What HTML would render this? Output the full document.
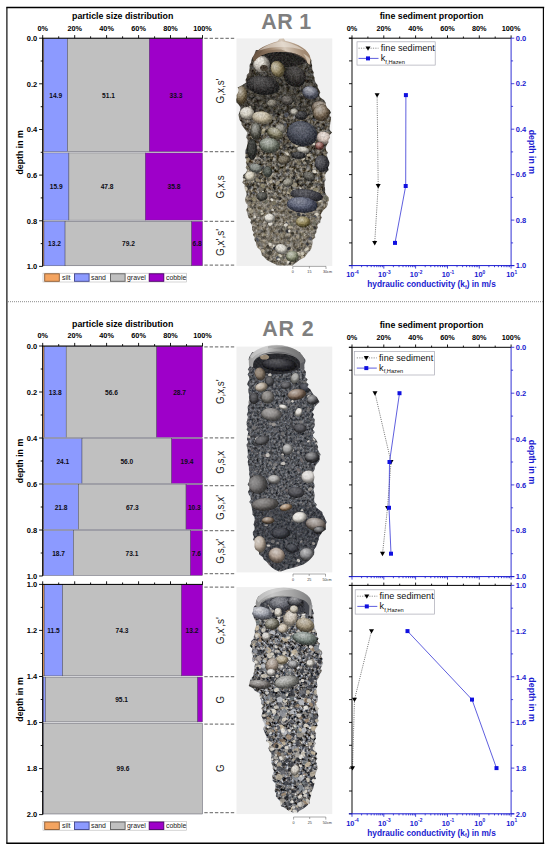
<!DOCTYPE html>
<html lang="en"><head><meta charset="utf-8"><title>Particle size distribution and hydraulic conductivity of sediment cores AR 1 and AR 2</title>
<style>html,body{margin:0;padding:0;background:#fff}svg{display:block}</style></head>
<body>
<svg width="550" height="852" viewBox="0 0 550 852" font-family='"Liberation Sans", sans-serif'>
<defs>
</defs>
<rect width="550" height="852" fill="#fff"/>
<path d="M6.3 7.5H544.2M6.3 843.2H544.2" stroke="#000" stroke-width="1.5" fill="none"/>
<path d="M6.9 7.5V843.2M543.4 7.5V843.2" stroke="#000" stroke-width="1.15" fill="none"/>
<line x1="8" y1="301.7" x2="543" y2="301.7" stroke="#8c8c8c" stroke-width="1" stroke-dasharray="1 1"/>
<text x="122.7" y="18.7" font-size="8.8" font-weight="bold" text-anchor="middle">particle size distribution</text>
<text x="42.7" y="30.5" font-size="7.3" font-weight="bold" text-anchor="middle">0%</text>
<text x="74.7" y="30.5" font-size="7.3" font-weight="bold" text-anchor="middle">20%</text>
<text x="106.6" y="30.5" font-size="7.3" font-weight="bold" text-anchor="middle">40%</text>
<text x="138.6" y="30.5" font-size="7.3" font-weight="bold" text-anchor="middle">60%</text>
<text x="170.5" y="30.5" font-size="7.3" font-weight="bold" text-anchor="middle">80%</text>
<text x="202.5" y="30.5" font-size="7.3" font-weight="bold" text-anchor="middle">100%</text>
<rect x="42.70" y="38.50" width="1.12" height="113.20" fill="#f4a460" stroke="#4a4a5a" stroke-width="0.45"/>
<rect x="43.82" y="38.50" width="23.81" height="113.20" fill="#8c9aff" stroke="#4a4a5a" stroke-width="0.45"/>
<rect x="67.63" y="38.50" width="81.66" height="113.20" fill="#c0c0c0" stroke="#4a4a5a" stroke-width="0.45"/>
<rect x="149.29" y="38.50" width="53.21" height="113.20" fill="#9e00c9" stroke="#4a4a5a" stroke-width="0.45"/>
<text x="55.7" y="98.0" font-size="6.6" font-weight="bold" text-anchor="middle" fill="#0c0c14">14.9</text>
<text x="108.5" y="98.0" font-size="6.6" font-weight="bold" text-anchor="middle" fill="#0c0c14">51.1</text>
<text x="175.9" y="98.0" font-size="6.6" font-weight="bold" text-anchor="middle" fill="#0c0c14">33.3</text>
<rect x="42.70" y="152.90" width="0.80" height="67.26" fill="#f4a460" stroke="#4a4a5a" stroke-width="0.45"/>
<rect x="43.50" y="152.90" width="25.41" height="67.26" fill="#8c9aff" stroke="#4a4a5a" stroke-width="0.45"/>
<rect x="68.91" y="152.90" width="76.38" height="67.26" fill="#c0c0c0" stroke="#4a4a5a" stroke-width="0.45"/>
<rect x="145.29" y="152.90" width="57.21" height="67.26" fill="#9e00c9" stroke="#4a4a5a" stroke-width="0.45"/>
<text x="56.2" y="189.2" font-size="6.6" font-weight="bold" text-anchor="middle" fill="#0c0c14">15.9</text>
<text x="107.1" y="189.2" font-size="6.6" font-weight="bold" text-anchor="middle" fill="#0c0c14">47.8</text>
<text x="173.9" y="189.2" font-size="6.6" font-weight="bold" text-anchor="middle" fill="#0c0c14">35.8</text>
<rect x="42.70" y="221.36" width="1.28" height="44.44" fill="#f4a460" stroke="#4a4a5a" stroke-width="0.45"/>
<rect x="43.98" y="221.36" width="21.09" height="44.44" fill="#8c9aff" stroke="#4a4a5a" stroke-width="0.45"/>
<rect x="65.07" y="221.36" width="126.56" height="44.44" fill="#c0c0c0" stroke="#4a4a5a" stroke-width="0.45"/>
<rect x="191.63" y="221.36" width="10.87" height="44.44" fill="#9e00c9" stroke="#4a4a5a" stroke-width="0.45"/>
<text x="54.5" y="246.3" font-size="6.6" font-weight="bold" text-anchor="middle" fill="#0c0c14">13.2</text>
<text x="128.4" y="246.3" font-size="6.6" font-weight="bold" text-anchor="middle" fill="#0c0c14">79.2</text>
<text x="197.1" y="246.3" font-size="6.6" font-weight="bold" text-anchor="middle" fill="#0c0c14">6.8</text>
<path d="M42.7 38.2V266.4" stroke="#000" stroke-width="1" fill="none"/>
<path d="M42.2 38.2H202.8" stroke="#000" stroke-width="1" fill="none"/>
<path d="M42.7 38.2v-3.1M58.7 38.2v-1.9M74.7 38.2v-3.1M90.6 38.2v-1.9M106.6 38.2v-3.1M122.6 38.2v-1.9M138.6 38.2v-3.1M154.6 38.2v-1.9M170.5 38.2v-3.1M186.5 38.2v-1.9M202.5 38.2v-3.1" stroke="#000" stroke-width="0.9" fill="none"/>
<text x="37.3" y="40.9" font-size="7.5" font-weight="bold" text-anchor="end">0.0</text>
<text x="37.3" y="86.5" font-size="7.5" font-weight="bold" text-anchor="end">0.2</text>
<text x="37.3" y="132.2" font-size="7.5" font-weight="bold" text-anchor="end">0.4</text>
<text x="37.3" y="177.8" font-size="7.5" font-weight="bold" text-anchor="end">0.6</text>
<text x="37.3" y="223.5" font-size="7.5" font-weight="bold" text-anchor="end">0.8</text>
<text x="37.3" y="269.1" font-size="7.5" font-weight="bold" text-anchor="end">1.0</text>
<path d="M42.7 38.2h-3.6M42.7 61.0h-2.0M42.7 83.8h-3.6M42.7 106.7h-2.0M42.7 129.5h-3.6M42.7 152.3h-2.0M42.7 175.1h-3.6M42.7 197.9h-2.0M42.7 220.8h-3.6M42.7 243.6h-2.0M42.7 266.4h-3.6" stroke="#000" stroke-width="0.9" fill="none"/>
<text transform="translate(23.2 152.3) rotate(-90)" font-size="8.8" font-weight="bold" text-anchor="middle">depth in m</text>
<rect x="43" y="273.2" width="143.5" height="8.8" fill="#fff" stroke="#b8b8b8" stroke-width="0.6"/>
<rect x="44.7" y="273.8" width="14.6" height="7.5" fill="#f4a460" stroke="#8a5a32" stroke-width="0.9"/>
<text x="62" y="280.1" font-size="6.9" fill="#222">silt</text>
<rect x="74.5" y="273.8" width="14.6" height="7.5" fill="#8c9aff" stroke="#40458a" stroke-width="0.9"/>
<text x="91" y="280.1" font-size="6.9" fill="#222">sand</text>
<rect x="110.5" y="273.8" width="14.6" height="7.5" fill="#c0c0c0" stroke="#5c5c5c" stroke-width="0.9"/>
<text x="127" y="280.1" font-size="6.9" fill="#222">gravel</text>
<rect x="149.2" y="273.8" width="14.6" height="7.5" fill="#9e00c9" stroke="#4a0066" stroke-width="0.9"/>
<text x="166" y="280.1" font-size="6.9" fill="#222">cobble</text>
<text x="122.7" y="326.5" font-size="8.8" font-weight="bold" text-anchor="middle">particle size distribution</text>
<text x="42.7" y="338.3" font-size="7.3" font-weight="bold" text-anchor="middle">0%</text>
<text x="74.7" y="338.3" font-size="7.3" font-weight="bold" text-anchor="middle">20%</text>
<text x="106.6" y="338.3" font-size="7.3" font-weight="bold" text-anchor="middle">40%</text>
<text x="138.6" y="338.3" font-size="7.3" font-weight="bold" text-anchor="middle">60%</text>
<text x="170.5" y="338.3" font-size="7.3" font-weight="bold" text-anchor="middle">80%</text>
<text x="202.5" y="338.3" font-size="7.3" font-weight="bold" text-anchor="middle">100%</text>
<rect x="42.70" y="346.30" width="1.44" height="91.10" fill="#f4a460" stroke="#4a4a5a" stroke-width="0.45"/>
<rect x="44.14" y="346.30" width="22.05" height="91.10" fill="#8c9aff" stroke="#4a4a5a" stroke-width="0.45"/>
<rect x="66.19" y="346.30" width="90.45" height="91.10" fill="#c0c0c0" stroke="#4a4a5a" stroke-width="0.45"/>
<rect x="156.64" y="346.30" width="45.86" height="91.10" fill="#9e00c9" stroke="#4a4a5a" stroke-width="0.45"/>
<text x="55.2" y="394.7" font-size="6.6" font-weight="bold" text-anchor="middle" fill="#0c0c14">13.8</text>
<text x="111.4" y="394.7" font-size="6.6" font-weight="bold" text-anchor="middle" fill="#0c0c14">56.6</text>
<text x="179.6" y="394.7" font-size="6.6" font-weight="bold" text-anchor="middle" fill="#0c0c14">28.7</text>
<rect x="42.70" y="438.60" width="0.80" height="44.80" fill="#f4a460" stroke="#4a4a5a" stroke-width="0.45"/>
<rect x="43.50" y="438.60" width="38.51" height="44.80" fill="#8c9aff" stroke="#4a4a5a" stroke-width="0.45"/>
<rect x="82.01" y="438.60" width="89.49" height="44.80" fill="#c0c0c0" stroke="#4a4a5a" stroke-width="0.45"/>
<rect x="171.50" y="438.60" width="31.00" height="44.80" fill="#9e00c9" stroke="#4a4a5a" stroke-width="0.45"/>
<text x="62.8" y="463.7" font-size="6.6" font-weight="bold" text-anchor="middle" fill="#0c0c14">24.1</text>
<text x="126.8" y="463.7" font-size="6.6" font-weight="bold" text-anchor="middle" fill="#0c0c14">56.0</text>
<text x="187.0" y="463.7" font-size="6.6" font-weight="bold" text-anchor="middle" fill="#0c0c14">19.4</text>
<rect x="42.70" y="484.60" width="0.96" height="44.80" fill="#f4a460" stroke="#4a4a5a" stroke-width="0.45"/>
<rect x="43.66" y="484.60" width="34.84" height="44.80" fill="#8c9aff" stroke="#4a4a5a" stroke-width="0.45"/>
<rect x="78.50" y="484.60" width="107.55" height="44.80" fill="#c0c0c0" stroke="#4a4a5a" stroke-width="0.45"/>
<rect x="186.04" y="484.60" width="16.46" height="44.80" fill="#9e00c9" stroke="#4a4a5a" stroke-width="0.45"/>
<text x="61.1" y="509.7" font-size="6.6" font-weight="bold" text-anchor="middle" fill="#0c0c14">21.8</text>
<text x="132.3" y="509.7" font-size="6.6" font-weight="bold" text-anchor="middle" fill="#0c0c14">67.3</text>
<text x="194.3" y="509.7" font-size="6.6" font-weight="bold" text-anchor="middle" fill="#0c0c14">10.3</text>
<rect x="42.70" y="530.60" width="0.96" height="44.80" fill="#f4a460" stroke="#4a4a5a" stroke-width="0.45"/>
<rect x="43.66" y="530.60" width="29.88" height="44.80" fill="#8c9aff" stroke="#4a4a5a" stroke-width="0.45"/>
<rect x="73.54" y="530.60" width="116.81" height="44.80" fill="#c0c0c0" stroke="#4a4a5a" stroke-width="0.45"/>
<rect x="190.36" y="530.60" width="12.14" height="44.80" fill="#9e00c9" stroke="#4a4a5a" stroke-width="0.45"/>
<text x="58.6" y="555.7" font-size="6.6" font-weight="bold" text-anchor="middle" fill="#0c0c14">18.7</text>
<text x="131.9" y="555.7" font-size="6.6" font-weight="bold" text-anchor="middle" fill="#0c0c14">73.1</text>
<text x="196.4" y="555.7" font-size="6.6" font-weight="bold" text-anchor="middle" fill="#0c0c14">7.6</text>
<path d="M42.7 346.0V576.0" stroke="#000" stroke-width="1" fill="none"/>
<path d="M42.2 346.0H202.8" stroke="#000" stroke-width="1" fill="none"/>
<path d="M42.7 346.0v-3.1M58.7 346.0v-1.9M74.7 346.0v-3.1M90.6 346.0v-1.9M106.6 346.0v-3.1M122.6 346.0v-1.9M138.6 346.0v-3.1M154.6 346.0v-1.9M170.5 346.0v-3.1M186.5 346.0v-1.9M202.5 346.0v-3.1" stroke="#000" stroke-width="0.9" fill="none"/>
<text x="37.3" y="348.7" font-size="7.5" font-weight="bold" text-anchor="end">0.0</text>
<text x="37.3" y="394.7" font-size="7.5" font-weight="bold" text-anchor="end">0.2</text>
<text x="37.3" y="440.7" font-size="7.5" font-weight="bold" text-anchor="end">0.4</text>
<text x="37.3" y="486.7" font-size="7.5" font-weight="bold" text-anchor="end">0.6</text>
<text x="37.3" y="532.7" font-size="7.5" font-weight="bold" text-anchor="end">0.8</text>
<text x="37.3" y="578.7" font-size="7.5" font-weight="bold" text-anchor="end">1.0</text>
<path d="M42.7 346.0h-3.6M42.7 369.0h-2.0M42.7 392.0h-3.6M42.7 415.0h-2.0M42.7 438.0h-3.6M42.7 461.0h-2.0M42.7 484.0h-3.6M42.7 507.0h-2.0M42.7 530.0h-3.6M42.7 553.0h-2.0M42.7 576.0h-3.6" stroke="#000" stroke-width="0.9" fill="none"/>
<text transform="translate(23.2 461.0) rotate(-90)" font-size="8.8" font-weight="bold" text-anchor="middle">depth in m</text>
<rect x="42.70" y="584.70" width="1.60" height="91.18" fill="#f4a460" stroke="#4a4a5a" stroke-width="0.45"/>
<rect x="44.30" y="584.70" width="18.38" height="91.18" fill="#8c9aff" stroke="#4a4a5a" stroke-width="0.45"/>
<rect x="62.68" y="584.70" width="118.73" height="91.18" fill="#c0c0c0" stroke="#4a4a5a" stroke-width="0.45"/>
<rect x="181.41" y="584.70" width="21.09" height="91.18" fill="#9e00c9" stroke="#4a4a5a" stroke-width="0.45"/>
<text x="53.5" y="633.1" font-size="6.6" font-weight="bold" text-anchor="middle" fill="#0c0c14">11.5</text>
<text x="122.0" y="633.1" font-size="6.6" font-weight="bold" text-anchor="middle" fill="#0c0c14">74.3</text>
<text x="192.0" y="633.1" font-size="6.6" font-weight="bold" text-anchor="middle" fill="#0c0c14">13.2</text>
<rect x="42.70" y="677.08" width="0.48" height="44.84" fill="#f4a460" stroke="#4a4a5a" stroke-width="0.45"/>
<rect x="43.18" y="677.08" width="2.40" height="44.84" fill="#8c9aff" stroke="#4a4a5a" stroke-width="0.45"/>
<rect x="45.58" y="677.08" width="151.97" height="44.84" fill="#c0c0c0" stroke="#4a4a5a" stroke-width="0.45"/>
<rect x="197.55" y="677.08" width="4.95" height="44.84" fill="#9e00c9" stroke="#4a4a5a" stroke-width="0.45"/>
<text x="121.6" y="702.2" font-size="6.6" font-weight="bold" text-anchor="middle" fill="#0c0c14">95.1</text>
<rect x="42.70" y="723.12" width="0.32" height="90.88" fill="#f4a460" stroke="#4a4a5a" stroke-width="0.45"/>
<rect x="43.02" y="723.12" width="0.32" height="90.88" fill="#8c9aff" stroke="#4a4a5a" stroke-width="0.45"/>
<rect x="43.34" y="723.12" width="159.16" height="90.88" fill="#c0c0c0" stroke="#4a4a5a" stroke-width="0.45"/>
<text x="122.9" y="771.3" font-size="6.6" font-weight="bold" text-anchor="middle" fill="#0c0c14">99.6</text>
<path d="M42.7 584.4V814.6" stroke="#000" stroke-width="1" fill="none"/>
<path d="M42.2 584.4H202.8" stroke="#000" stroke-width="1" fill="none"/>
<path d="M42.7 584.4v-3.1M58.7 584.4v-1.9M74.7 584.4v-3.1M90.6 584.4v-1.9M106.6 584.4v-3.1M122.6 584.4v-1.9M138.6 584.4v-3.1M154.6 584.4v-1.9M170.5 584.4v-3.1M186.5 584.4v-1.9M202.5 584.4v-3.1" stroke="#000" stroke-width="0.9" fill="none"/>
<text x="37.3" y="587.1" font-size="7.5" font-weight="bold" text-anchor="end">1.0</text>
<text x="37.3" y="633.1" font-size="7.5" font-weight="bold" text-anchor="end">1.2</text>
<text x="37.3" y="679.2" font-size="7.5" font-weight="bold" text-anchor="end">1.4</text>
<text x="37.3" y="725.2" font-size="7.5" font-weight="bold" text-anchor="end">1.6</text>
<text x="37.3" y="771.3" font-size="7.5" font-weight="bold" text-anchor="end">1.8</text>
<text x="37.3" y="817.3" font-size="7.5" font-weight="bold" text-anchor="end">2.0</text>
<path d="M42.7 584.4h-3.6M42.7 607.4h-2.0M42.7 630.4h-3.6M42.7 653.5h-2.0M42.7 676.5h-3.6M42.7 699.5h-2.0M42.7 722.5h-3.6M42.7 745.5h-2.0M42.7 768.6h-3.6M42.7 791.6h-2.0M42.7 814.6h-3.6" stroke="#000" stroke-width="0.9" fill="none"/>
<text transform="translate(23.2 699.5) rotate(-90)" font-size="8.8" font-weight="bold" text-anchor="middle">depth in m</text>
<rect x="43" y="821.4" width="143.5" height="8.8" fill="#fff" stroke="#b8b8b8" stroke-width="0.6"/>
<rect x="44.7" y="822.0" width="14.6" height="7.5" fill="#f4a460" stroke="#8a5a32" stroke-width="0.9"/>
<text x="62" y="828.3" font-size="6.9" fill="#222">silt</text>
<rect x="74.5" y="822.0" width="14.6" height="7.5" fill="#8c9aff" stroke="#40458a" stroke-width="0.9"/>
<text x="91" y="828.3" font-size="6.9" fill="#222">sand</text>
<rect x="110.5" y="822.0" width="14.6" height="7.5" fill="#c0c0c0" stroke="#5c5c5c" stroke-width="0.9"/>
<text x="127" y="828.3" font-size="6.9" fill="#222">gravel</text>
<rect x="149.2" y="822.0" width="14.6" height="7.5" fill="#9e00c9" stroke="#4a0066" stroke-width="0.9"/>
<text x="166" y="828.3" font-size="6.9" fill="#222">cobble</text>
<path d="M204.3 38.3H235.6M204.3 151.7H235.6M204.3 221.4H235.6M204.3 265.1H235.6" stroke="#808080" stroke-width="1.25" stroke-dasharray="3.4 1.9" fill="none"/>
<text transform="translate(224.4 91.0) rotate(-90)" font-size="11.4" fill="#222" text-anchor="middle" textLength="25" lengthAdjust="spacingAndGlyphs">G,x,s'</text>
<text transform="translate(224.4 186.9) rotate(-90)" font-size="11.4" fill="#222" text-anchor="middle" textLength="23" lengthAdjust="spacingAndGlyphs">G,x,s</text>
<text transform="translate(224.4 242.4) rotate(-90)" font-size="11.4" fill="#222" text-anchor="middle" textLength="27.2" lengthAdjust="spacingAndGlyphs">G,x',s'</text>
<path d="M204.3 346.9H235.6M204.3 437.9H235.6M204.3 485.7H235.6M204.3 530.5H235.6M204.3 573.7H235.6" stroke="#808080" stroke-width="1.25" stroke-dasharray="3.4 1.9" fill="none"/>
<text transform="translate(224.4 391.8) rotate(-90)" font-size="11.4" fill="#222" text-anchor="middle" textLength="24.6" lengthAdjust="spacingAndGlyphs">G,x,s'</text>
<text transform="translate(224.4 462.3) rotate(-90)" font-size="11.4" fill="#222" text-anchor="middle" textLength="22.7" lengthAdjust="spacingAndGlyphs">G,s,x</text>
<text transform="translate(224.4 507.4) rotate(-90)" font-size="11.4" fill="#222" text-anchor="middle" textLength="25" lengthAdjust="spacingAndGlyphs">G,s,x'</text>
<text transform="translate(224.4 551.3) rotate(-90)" font-size="11.4" fill="#222" text-anchor="middle" textLength="25" lengthAdjust="spacingAndGlyphs">G,s,x'</text>
<path d="M204.3 587.0H235.6M204.3 676.7H235.6M204.3 724.1H235.6M204.3 812.5H235.6" stroke="#808080" stroke-width="1.25" stroke-dasharray="3.4 1.9" fill="none"/>
<text transform="translate(224.4 630.6) rotate(-90)" font-size="11.4" fill="#222" text-anchor="middle" textLength="27.1" lengthAdjust="spacingAndGlyphs">G,x',s'</text>
<text transform="translate(224.4 699.7) rotate(-90)" font-size="11.4" fill="#222" text-anchor="middle" textLength="7.6" lengthAdjust="spacingAndGlyphs">G</text>
<text transform="translate(224.4 768.1) rotate(-90)" font-size="11.4" fill="#222" text-anchor="middle" textLength="7.6" lengthAdjust="spacingAndGlyphs">G</text>
<text x="261.3" y="28.6" font-size="21.4" font-weight="bold" fill="#7f7f7f" letter-spacing="0.4">AR 1</text>
<text x="262.3" y="336.0" font-size="21.4" font-weight="bold" fill="#7f7f7f" letter-spacing="0.85">AR 2</text>
<defs>
<filter id="tx1" x="0" y="0" width="100%" height="100%" color-interpolation-filters="sRGB"><feTurbulence type="fractalNoise" baseFrequency="0.3" numOctaves="3" seed="4"/><feColorMatrix type="matrix" values="1.1 0.12 0 0 -0.230  1.1 0.04 0 0 -0.210  1.1 -0.12 0 0 -0.170  0 0 0 0 1"/></filter>
<filter id="tx2" x="0" y="0" width="100%" height="100%" color-interpolation-filters="sRGB"><feTurbulence type="fractalNoise" baseFrequency="0.42" numOctaves="3" seed="9"/><feColorMatrix type="matrix" values="0.75 0.05 0 0 -0.055  0.75 0.0 0 0 -0.025  0.75 -0.06 0 0 0.025  0 0 0 0 1"/></filter>
<filter id="tx3" x="0" y="0" width="100%" height="100%" color-interpolation-filters="sRGB"><feTurbulence type="fractalNoise" baseFrequency="0.36" numOctaves="3" seed="21"/><feColorMatrix type="matrix" values="1.5 0.15 0 0 -0.425  1.5 0.03 0 0 -0.365  1.5 -0.15 0 0 -0.265  0 0 0 0 1"/></filter>
<radialGradient id="hlg" cx="0.38" cy="0.3" r="0.55"><stop offset="0" stop-color="#fff" stop-opacity="0.75"/><stop offset="1" stop-color="#fff" stop-opacity="0"/></radialGradient>
<radialGradient id="shg" cx="0.42" cy="0.38" r="0.68"><stop offset="0.45" stop-color="#000" stop-opacity="0"/><stop offset="1" stop-color="#000" stop-opacity="0.6"/></radialGradient>
<filter id="grain" x="0" y="0" width="100%" height="100%" color-interpolation-filters="sRGB"><feTurbulence type="fractalNoise" baseFrequency="0.55" numOctaves="2" seed="33"/><feColorMatrix type="matrix" values="0 2.4 0 0 -0.7  0 2.4 0 0 -0.7  0 2.4 0 0 -0.7  0 0 0 0 0.11"/></filter>
<linearGradient id="lid1g" x1="0" y1="0.2" x2="1" y2="0"><stop offset="0" stop-color="#675140"/><stop offset="0.28" stop-color="#a38b74"/><stop offset="0.5" stop-color="#d6c9ba"/><stop offset="0.75" stop-color="#a78f78"/><stop offset="1" stop-color="#8a7058"/></linearGradient>
<linearGradient id="ring2g" x1="0" y1="0" x2="1" y2="0"><stop offset="0" stop-color="#9a9a9a"/><stop offset="0.3" stop-color="#c6c6c6"/><stop offset="0.6" stop-color="#8e8e8e"/><stop offset="1" stop-color="#6e6e70"/></linearGradient>
<linearGradient id="ring3g" x1="0" y1="0" x2="1" y2="0"><stop offset="0" stop-color="#8c8c8c"/><stop offset="0.3" stop-color="#c8c8c8"/><stop offset="0.65" stop-color="#a6a6a6"/><stop offset="1" stop-color="#7c7c7e"/></linearGradient>
<filter id="grain2" x="0" y="0" width="100%" height="100%" color-interpolation-filters="sRGB"><feTurbulence type="fractalNoise" baseFrequency="0.5" numOctaves="2" seed="12"/><feColorMatrix type="matrix" values="0 2.4 0 0 -0.7  0 2.4 0 0 -0.7  0 2.4 0 0 -0.7  0 0 0 0 0.06"/></filter>
<filter id="soft" x="-5%" y="-5%" width="110%" height="110%"><feGaussianBlur stdDeviation="0.45"/></filter>
</defs>
<rect x="236.5" y="38.4" width="95.8" height="227.6" fill="#f0f0f0"/>
<clipPath id="cp1"><path d="M255.9 50.0 L254.9 52.5 L254.5 55.0 L252.2 57.5 L251.5 60.0 L251.1 62.5 L249.5 65.0 L249.7 67.5 L249.3 70.0 L249.1 72.5 L246.8 75.0 L246.7 77.5 L245.5 80.0 L246.1 82.5 L242.5 85.0 L237.6 87.5 L238.7 90.0 L238.0 92.5 L236.6 95.0 L236.7 97.5 L236.2 100.0 L236.5 102.5 L239.1 105.0 L240.4 107.5 L240.3 110.0 L239.3 112.5 L238.4 115.0 L239.0 117.5 L239.6 120.0 L241.5 122.5 L241.7 125.0 L243.6 127.5 L245.3 130.0 L247.4 132.5 L246.7 135.0 L246.2 137.5 L247.7 140.0 L247.6 142.5 L247.1 145.0 L246.6 147.5 L245.6 150.0 L245.4 152.5 L245.5 155.0 L245.0 157.5 L246.6 160.0 L245.8 162.5 L246.8 165.0 L245.7 167.5 L247.1 170.0 L246.0 172.5 L243.1 175.0 L242.8 177.5 L243.7 180.0 L242.2 182.5 L244.7 185.0 L244.5 187.5 L245.0 190.0 L246.3 192.5 L246.7 195.0 L245.4 197.5 L245.0 200.0 L245.8 202.5 L247.6 205.0 L247.4 207.5 L246.1 210.0 L247.2 212.5 L247.7 215.0 L248.4 217.5 L251.0 220.0 L250.3 222.5 L251.8 225.0 L252.1 227.5 L252.0 230.0 L253.8 232.5 L252.9 235.0 L254.8 237.5 L254.4 240.0 L256.0 242.5 L256.3 245.0 L257.3 247.5 L260.3 250.0 L261.4 252.5 L261.7 255.0 L264.6 257.5 L266.7 260.0 L271.5 262.5 L276.9 265.0 L276.3 265.5 L292.9 265.5 L293.0 265.0 L296.4 262.5 L299.5 260.0 L304.4 257.5 L306.3 255.0 L308.3 252.5 L310.6 250.0 L311.8 247.5 L312.2 245.0 L312.6 242.5 L312.3 240.0 L315.4 237.5 L314.6 235.0 L316.4 232.5 L316.6 230.0 L317.8 227.5 L317.2 225.0 L320.3 222.5 L320.5 220.0 L321.8 217.5 L320.5 215.0 L321.8 212.5 L323.6 210.0 L326.3 207.5 L327.6 205.0 L327.8 202.5 L328.9 200.0 L328.8 197.5 L326.5 195.0 L325.1 192.5 L325.2 190.0 L324.9 187.5 L324.6 185.0 L324.5 182.5 L325.6 180.0 L325.3 177.5 L325.1 175.0 L326.3 172.5 L328.8 170.0 L328.0 167.5 L329.2 165.0 L329.5 162.5 L328.5 160.0 L327.5 157.5 L326.8 155.0 L327.8 152.5 L326.0 150.0 L325.8 147.5 L326.7 145.0 L328.5 142.5 L328.4 140.0 L330.1 137.5 L329.6 135.0 L332.0 132.5 L329.7 130.0 L329.6 127.5 L330.1 125.0 L330.3 122.5 L330.9 120.0 L331.1 117.5 L329.3 115.0 L331.1 112.5 L329.6 110.0 L327.0 107.5 L325.9 105.0 L325.6 102.5 L324.0 100.0 L320.3 97.5 L319.1 95.0 L320.3 92.5 L319.2 90.0 L317.7 87.5 L317.6 85.0 L315.5 82.5 L314.7 80.0 L314.6 77.5 L313.3 75.0 L313.8 72.5 L312.4 70.0 L312.1 67.5 L312.1 65.0 L311.3 62.5 L311.4 60.0 L309.0 57.5 L307.1 55.0 L307.0 52.5 L303.0 50.0Z"/></clipPath>
<g clip-path="url(#cp1)"><g filter="url(#soft)">
<rect x="234" y="44" width="100" height="224" fill="#555" filter="url(#tx1)"/>
<rect x="234" y="44" width="100" height="70" fill="#15130f" opacity="0.5"/>
<rect x="234" y="114" width="100" height="40" fill="#15130f" opacity="0.22"/>
<ellipse cx="282" cy="59" rx="27" ry="8" fill="#1b1917"/>
<rect x="234" y="196" width="100" height="72" fill="#a89f8c" opacity="0.28"/>
<ellipse cx="311.0" cy="141.7" rx="2.8" ry="2.1" fill="#77705c" transform="rotate(-35 311.0 141.7)"/>
<ellipse cx="294.9" cy="138.2" rx="2.3" ry="1.3" fill="#2f3034"/>
<ellipse cx="318.0" cy="199.3" rx="2.5" ry="1.8" fill="#77705c" transform="rotate(-20 318.0 199.3)"/>
<ellipse cx="313.9" cy="144.1" rx="1.4" ry="1.1" fill="#d9d3c4" transform="rotate(20 313.9 144.1)"/>
<ellipse cx="285.6" cy="160.1" rx="1.6" ry="1.3" fill="#4c4e55" transform="rotate(70 285.6 160.1)"/>
<ellipse cx="322.0" cy="161.5" rx="1.7" ry="0.9" fill="#2a2824"/>
<ellipse cx="262.7" cy="167.8" rx="1.5" ry="1.4" fill="#2f3034" transform="rotate(-20 262.7 167.8)"/>
<ellipse cx="265.5" cy="149.8" rx="1.9" ry="1.3" fill="#2f3034" transform="rotate(-20 265.5 149.8)"/>
<ellipse cx="305.3" cy="180.4" rx="1.6" ry="1.0" fill="#3a372f" transform="rotate(40 305.3 180.4)"/>
<ellipse cx="262.7" cy="192.1" rx="1.4" ry="1.0" fill="#d9d3c4" transform="rotate(-35 262.7 192.1)"/>
<ellipse cx="325.5" cy="106.4" rx="2.7" ry="1.6" fill="#4c4e55" transform="rotate(20 325.5 106.4)"/>
<ellipse cx="312.4" cy="192.6" rx="1.9" ry="1.4" fill="#2f3034" transform="rotate(20 312.4 192.6)"/>
<ellipse cx="314.4" cy="171.6" rx="2.3" ry="1.6" fill="#d9d3c4" transform="rotate(20 314.4 171.6)"/>
<ellipse cx="248.0" cy="187.3" rx="2.5" ry="1.9" fill="#2a2824" transform="rotate(-35 248.0 187.3)"/>
<ellipse cx="244.5" cy="179.2" rx="1.4" ry="1.1" fill="#d9d3c4" transform="rotate(70 244.5 179.2)"/>
<ellipse cx="262.2" cy="183.0" rx="1.5" ry="0.8" fill="#2f3034"/>
<ellipse cx="296.9" cy="144.6" rx="2.4" ry="2.1" fill="#b8ae98" transform="rotate(-35 296.9 144.6)"/>
<ellipse cx="314.1" cy="119.8" rx="1.7" ry="1.4" fill="#4c4e55" transform="rotate(40 314.1 119.8)"/>
<ellipse cx="260.2" cy="171.4" rx="1.7" ry="1.2" fill="#c9c2b0" transform="rotate(40 260.2 171.4)"/>
<ellipse cx="308.4" cy="161.4" rx="1.9" ry="1.7" fill="#3a372f"/>
<ellipse cx="319.7" cy="141.0" rx="1.9" ry="1.4" fill="#3a372f" transform="rotate(-35 319.7 141.0)"/>
<ellipse cx="245.9" cy="188.7" rx="2.2" ry="1.8" fill="#c9c2b0" transform="rotate(70 245.9 188.7)"/>
<ellipse cx="270.7" cy="181.9" rx="1.8" ry="1.7" fill="#b8ae98" transform="rotate(-35 270.7 181.9)"/>
<ellipse cx="308.9" cy="186.6" rx="2.9" ry="1.7" fill="#3a372f" transform="rotate(-20 308.9 186.6)"/>
<ellipse cx="326.1" cy="198.0" rx="2.2" ry="1.9" fill="#6b6a5c" transform="rotate(20 326.1 198.0)"/>
<ellipse cx="313.9" cy="191.0" rx="1.8" ry="1.1" fill="#4c4e55" transform="rotate(20 313.9 191.0)"/>
<ellipse cx="308.8" cy="155.0" rx="2.1" ry="1.2" fill="#b8ae98" transform="rotate(-20 308.8 155.0)"/>
<ellipse cx="257.0" cy="180.0" rx="1.8" ry="1.6" fill="#8a8268" transform="rotate(-20 257.0 180.0)"/>
<ellipse cx="286.3" cy="114.9" rx="2.5" ry="2.2" fill="#4c4e55" transform="rotate(-20 286.3 114.9)"/>
<ellipse cx="302.6" cy="157.9" rx="2.6" ry="1.9" fill="#c9c2b0" transform="rotate(20 302.6 157.9)"/>
<ellipse cx="289.1" cy="183.1" rx="1.5" ry="1.1" fill="#c9c2b0" transform="rotate(20 289.1 183.1)"/>
<ellipse cx="278.6" cy="131.2" rx="2.7" ry="2.5" fill="#3a372f" transform="rotate(20 278.6 131.2)"/>
<ellipse cx="322.8" cy="185.1" rx="2.1" ry="1.7" fill="#3a372f" transform="rotate(-20 322.8 185.1)"/>
<ellipse cx="287.0" cy="153.6" rx="2.3" ry="1.3" fill="#d9d3c4" transform="rotate(40 287.0 153.6)"/>
<ellipse cx="289.3" cy="191.7" rx="3.0" ry="1.8" fill="#b8ae98" transform="rotate(-35 289.3 191.7)"/>
<ellipse cx="323.7" cy="116.7" rx="2.0" ry="1.9" fill="#9a927e" transform="rotate(20 323.7 116.7)"/>
<ellipse cx="285.3" cy="124.6" rx="1.8" ry="1.6" fill="#4c4e55" transform="rotate(40 285.3 124.6)"/>
<ellipse cx="262.9" cy="131.7" rx="2.3" ry="2.1" fill="#8a8268" transform="rotate(-35 262.9 131.7)"/>
<ellipse cx="245.2" cy="177.9" rx="1.5" ry="1.0" fill="#2f3034" transform="rotate(20 245.2 177.9)"/>
<ellipse cx="276.8" cy="132.2" rx="2.3" ry="1.4" fill="#77705c"/>
<ellipse cx="294.6" cy="185.2" rx="2.5" ry="2.1" fill="#9a927e"/>
<ellipse cx="281.0" cy="137.6" rx="2.2" ry="1.3" fill="#3a372f" transform="rotate(70 281.0 137.6)"/>
<ellipse cx="298.8" cy="163.1" rx="2.2" ry="1.9" fill="#77705c" transform="rotate(40 298.8 163.1)"/>
<ellipse cx="262.8" cy="185.7" rx="2.5" ry="2.2" fill="#8a8268" transform="rotate(20 262.8 185.7)"/>
<ellipse cx="319.4" cy="160.3" rx="1.6" ry="1.3" fill="#3a372f"/>
<ellipse cx="261.4" cy="113.4" rx="2.5" ry="1.6" fill="#b8ae98" transform="rotate(-20 261.4 113.4)"/>
<ellipse cx="277.6" cy="183.2" rx="2.6" ry="1.6" fill="#9a927e" transform="rotate(-35 277.6 183.2)"/>
<ellipse cx="247.5" cy="168.5" rx="1.6" ry="1.3" fill="#6b6a5c"/>
<ellipse cx="297.8" cy="170.5" rx="1.8" ry="1.7" fill="#3a372f" transform="rotate(70 297.8 170.5)"/>
<ellipse cx="250.2" cy="107.1" rx="1.3" ry="1.0" fill="#c9c2b0" transform="rotate(40 250.2 107.1)"/>
<ellipse cx="261.3" cy="148.1" rx="1.4" ry="0.9" fill="#8a8268" transform="rotate(20 261.3 148.1)"/>
<ellipse cx="253.6" cy="192.7" rx="1.3" ry="1.2" fill="#4c4e55"/>
<ellipse cx="270.7" cy="176.5" rx="2.0" ry="1.5" fill="#9a927e"/>
<ellipse cx="247.1" cy="160.1" rx="2.5" ry="2.2" fill="#8a8268" transform="rotate(-20 247.1 160.1)"/>
<ellipse cx="305.4" cy="145.4" rx="1.9" ry="1.2" fill="#8a8268"/>
<ellipse cx="247.2" cy="151.3" rx="2.8" ry="2.4" fill="#2f3034" transform="rotate(-20 247.2 151.3)"/>
<ellipse cx="261.7" cy="157.0" rx="2.3" ry="1.5" fill="#2a2824" transform="rotate(20 261.7 157.0)"/>
<ellipse cx="305.1" cy="191.1" rx="2.6" ry="2.3" fill="#9a927e"/>
<ellipse cx="315.5" cy="189.7" rx="2.5" ry="2.1" fill="#8a8268" transform="rotate(-20 315.5 189.7)"/>
<ellipse cx="256.6" cy="120.7" rx="2.6" ry="1.8" fill="#b8ae98"/>
<ellipse cx="324.3" cy="188.8" rx="2.8" ry="1.6" fill="#2a2824" transform="rotate(-35 324.3 188.8)"/>
<ellipse cx="263.7" cy="129.9" rx="1.9" ry="1.2" fill="#b8ae98" transform="rotate(-20 263.7 129.9)"/>
<ellipse cx="286.4" cy="151.5" rx="1.6" ry="0.9" fill="#9a927e" transform="rotate(40 286.4 151.5)"/>
<ellipse cx="291.2" cy="102.3" rx="2.5" ry="1.7" fill="#9a927e" transform="rotate(40 291.2 102.3)"/>
<ellipse cx="256.1" cy="105.0" rx="1.9" ry="1.1" fill="#2a2824" transform="rotate(20 256.1 105.0)"/>
<ellipse cx="289.6" cy="190.6" rx="2.1" ry="2.0" fill="#77705c" transform="rotate(70 289.6 190.6)"/>
<ellipse cx="298.2" cy="199.5" rx="2.7" ry="1.5" fill="#77705c" transform="rotate(-35 298.2 199.5)"/>
<ellipse cx="247.7" cy="175.9" rx="2.9" ry="1.8" fill="#4c4e55"/>
<ellipse cx="288.0" cy="185.6" rx="2.3" ry="1.6" fill="#4c4e55" transform="rotate(-20 288.0 185.6)"/>
<ellipse cx="278.6" cy="128.4" rx="1.8" ry="1.3" fill="#4c4e55" transform="rotate(-35 278.6 128.4)"/>
<ellipse cx="316.7" cy="214.3" rx="2.1" ry="1.8" fill="#d9d3c4"/>
<ellipse cx="288.9" cy="248.5" rx="2.0" ry="1.4" fill="#2f3034" transform="rotate(-20 288.9 248.5)"/>
<ellipse cx="271.8" cy="199.6" rx="1.6" ry="1.3" fill="#e6e2d8" transform="rotate(20 271.8 199.6)"/>
<ellipse cx="319.9" cy="201.0" rx="1.7" ry="1.3" fill="#d0cab8"/>
<ellipse cx="254.1" cy="199.1" rx="2.3" ry="2.1" fill="#8a8268" transform="rotate(70 254.1 199.1)"/>
<ellipse cx="300.8" cy="212.7" rx="1.1" ry="0.8" fill="#b8ae98"/>
<ellipse cx="277.7" cy="254.6" rx="1.2" ry="0.9" fill="#8a8268" transform="rotate(-35 277.7 254.6)"/>
<ellipse cx="291.8" cy="224.4" rx="2.0" ry="1.7" fill="#6b6a5c" transform="rotate(70 291.8 224.4)"/>
<ellipse cx="301.2" cy="246.6" rx="1.2" ry="0.8" fill="#8a8268"/>
<ellipse cx="285.0" cy="228.7" rx="1.5" ry="1.1" fill="#6b6a5c" transform="rotate(20 285.0 228.7)"/>
<ellipse cx="298.7" cy="214.5" rx="1.9" ry="1.5" fill="#2f3034" transform="rotate(20 298.7 214.5)"/>
<ellipse cx="267.8" cy="247.2" rx="1.4" ry="1.3" fill="#3a372f" transform="rotate(-35 267.8 247.2)"/>
<ellipse cx="251.0" cy="198.7" rx="1.4" ry="1.0" fill="#77705c"/>
<ellipse cx="290.2" cy="203.0" rx="1.1" ry="0.7" fill="#2f3034"/>
<ellipse cx="292.6" cy="233.4" rx="1.6" ry="1.2" fill="#3a372f" transform="rotate(20 292.6 233.4)"/>
<ellipse cx="302.3" cy="219.4" rx="2.3" ry="1.4" fill="#b8ae98" transform="rotate(-20 302.3 219.4)"/>
<ellipse cx="290.6" cy="251.0" rx="2.2" ry="1.4" fill="#9a927e" transform="rotate(-35 290.6 251.0)"/>
<ellipse cx="308.2" cy="213.5" rx="1.6" ry="1.3" fill="#77705c" transform="rotate(20 308.2 213.5)"/>
<ellipse cx="303.9" cy="215.8" rx="2.3" ry="1.4" fill="#2f3034" transform="rotate(20 303.9 215.8)"/>
<ellipse cx="282.0" cy="235.5" rx="1.5" ry="1.2" fill="#9a927e" transform="rotate(40 282.0 235.5)"/>
<ellipse cx="303.8" cy="234.6" rx="1.7" ry="1.5" fill="#d9d3c4"/>
<ellipse cx="314.6" cy="217.1" rx="2.0" ry="1.6" fill="#4c4e55" transform="rotate(-35 314.6 217.1)"/>
<ellipse cx="275.3" cy="248.0" rx="2.4" ry="1.5" fill="#2f3034" transform="rotate(-35 275.3 248.0)"/>
<ellipse cx="313.9" cy="218.2" rx="1.5" ry="1.1" fill="#77705c" transform="rotate(-35 313.9 218.2)"/>
<ellipse cx="281.1" cy="258.1" rx="2.3" ry="1.5" fill="#6b6a5c"/>
<ellipse cx="314.5" cy="223.2" rx="2.4" ry="1.6" fill="#6b6a5c" transform="rotate(70 314.5 223.2)"/>
<ellipse cx="275.7" cy="220.9" rx="1.6" ry="1.2" fill="#3a372f" transform="rotate(-35 275.7 220.9)"/>
<ellipse cx="302.7" cy="234.3" rx="1.9" ry="1.6" fill="#77705c"/>
<ellipse cx="306.7" cy="208.0" rx="2.4" ry="1.6" fill="#d9d3c4"/>
<ellipse cx="287.4" cy="231.1" rx="1.9" ry="1.8" fill="#2f3034" transform="rotate(70 287.4 231.1)"/>
<ellipse cx="262.8" cy="250.7" rx="1.9" ry="1.6" fill="#b8ae98" transform="rotate(20 262.8 250.7)"/>
<ellipse cx="306.2" cy="201.6" rx="2.4" ry="1.4" fill="#2f3034" transform="rotate(-35 306.2 201.6)"/>
<ellipse cx="306.6" cy="205.8" rx="2.0" ry="1.3" fill="#3a372f" transform="rotate(-20 306.6 205.8)"/>
<ellipse cx="285.5" cy="248.0" rx="2.2" ry="1.6" fill="#6b6a5c" transform="rotate(70 285.5 248.0)"/>
<ellipse cx="288.3" cy="261.8" rx="1.8" ry="1.4" fill="#e6e2d8"/>
<ellipse cx="307.3" cy="244.2" rx="1.7" ry="1.5" fill="#2f3034" transform="rotate(20 307.3 244.2)"/>
<ellipse cx="297.8" cy="254.0" rx="2.3" ry="2.1" fill="#c9c2b0" transform="rotate(-35 297.8 254.0)"/>
<ellipse cx="275.6" cy="197.7" rx="1.0" ry="0.6" fill="#9a927e"/>
<ellipse cx="260.1" cy="212.7" rx="2.0" ry="1.7" fill="#6b6a5c"/>
<ellipse cx="287.1" cy="222.5" rx="1.4" ry="1.3" fill="#4c4e55" transform="rotate(20 287.1 222.5)"/>
<ellipse cx="273.7" cy="245.7" rx="1.2" ry="1.1" fill="#d9d3c4" transform="rotate(70 273.7 245.7)"/>
<ellipse cx="290.4" cy="227.2" rx="2.5" ry="1.4" fill="#b8ae98"/>
<ellipse cx="263.9" cy="208.5" rx="1.4" ry="1.2" fill="#77705c" transform="rotate(40 263.9 208.5)"/>
<ellipse cx="261.5" cy="211.2" rx="1.4" ry="0.9" fill="#d0cab8" transform="rotate(20 261.5 211.2)"/>
<ellipse cx="310.4" cy="238.6" rx="1.9" ry="1.7" fill="#4c4e55" transform="rotate(-20 310.4 238.6)"/>
<ellipse cx="277.4" cy="258.2" rx="1.9" ry="1.7" fill="#4c4e55" transform="rotate(70 277.4 258.2)"/>
<ellipse cx="251.1" cy="211.0" rx="2.5" ry="2.2" fill="#9a927e" transform="rotate(40 251.1 211.0)"/>
<ellipse cx="298.5" cy="250.0" rx="2.3" ry="1.3" fill="#3a372f"/>
<ellipse cx="301.2" cy="255.4" rx="1.7" ry="1.1" fill="#9a927e" transform="rotate(40 301.2 255.4)"/>
<ellipse cx="280.2" cy="255.5" rx="2.2" ry="1.4" fill="#d0cab8" transform="rotate(40 280.2 255.5)"/>
<ellipse cx="306.3" cy="204.9" rx="2.0" ry="1.5" fill="#d9d3c4"/>
<ellipse cx="264.7" cy="234.9" rx="1.3" ry="1.2" fill="#8a8268" transform="rotate(70 264.7 234.9)"/>
<ellipse cx="274.9" cy="204.7" rx="2.0" ry="1.5" fill="#4c4e55" transform="rotate(-35 274.9 204.7)"/>
<ellipse cx="314.5" cy="227.9" rx="1.9" ry="1.7" fill="#2a2824"/>
<ellipse cx="280.3" cy="249.7" rx="2.5" ry="1.4" fill="#4c4e55"/>
<ellipse cx="279.9" cy="198.5" rx="1.8" ry="1.7" fill="#2a2824" transform="rotate(20 279.9 198.5)"/>
<ellipse cx="254.8" cy="217.1" rx="1.5" ry="1.1" fill="#e6e2d8"/>
<ellipse cx="298.1" cy="220.5" rx="1.2" ry="0.8" fill="#4c4e55" transform="rotate(-35 298.1 220.5)"/>
<ellipse cx="292.6" cy="261.7" rx="2.0" ry="1.1" fill="#9a927e" transform="rotate(-35 292.6 261.7)"/>
<ellipse cx="269.9" cy="244.3" rx="1.9" ry="1.4" fill="#d9d3c4" transform="rotate(70 269.9 244.3)"/>
<ellipse cx="290.2" cy="263.4" rx="1.3" ry="1.1" fill="#2a2824" transform="rotate(-35 290.2 263.4)"/>
<ellipse cx="287.9" cy="221.6" rx="1.5" ry="1.0" fill="#9a927e" transform="rotate(40 287.9 221.6)"/>
<ellipse cx="270.4" cy="241.3" rx="1.3" ry="1.1" fill="#6b6a5c" transform="rotate(20 270.4 241.3)"/>
<ellipse cx="285.6" cy="260.3" rx="2.2" ry="1.5" fill="#9a927e"/>
<ellipse cx="296.7" cy="202.9" rx="1.2" ry="1.0" fill="#8a8268"/>
<ellipse cx="249.8" cy="209.1" rx="1.7" ry="1.4" fill="#b8ae98"/>
<ellipse cx="326.9" cy="198.2" rx="1.7" ry="1.5" fill="#6b6a5c" transform="rotate(70 326.9 198.2)"/>
<ellipse cx="285.8" cy="225.0" rx="2.0" ry="1.7" fill="#e6e2d8" transform="rotate(-20 285.8 225.0)"/>
<ellipse cx="312.0" cy="228.8" rx="2.0" ry="1.7" fill="#77705c" transform="rotate(-35 312.0 228.8)"/>
<ellipse cx="305.7" cy="217.6" rx="1.4" ry="1.3" fill="#c9c2b0"/>
<ellipse cx="262.2" cy="213.7" rx="1.5" ry="1.1" fill="#c9c2b0" transform="rotate(-20 262.2 213.7)"/>
<ellipse cx="272.8" cy="209.9" rx="1.5" ry="0.9" fill="#e6e2d8"/>
<ellipse cx="288.2" cy="213.3" rx="1.5" ry="1.0" fill="#77705c" transform="rotate(40 288.2 213.3)"/>
<ellipse cx="289.3" cy="230.9" rx="1.3" ry="1.2" fill="#e6e2d8" transform="rotate(-35 289.3 230.9)"/>
<ellipse cx="270.1" cy="252.8" rx="2.5" ry="2.0" fill="#3a372f" transform="rotate(70 270.1 252.8)"/>
<ellipse cx="266.1" cy="201.7" rx="1.9" ry="1.6" fill="#6b6a5c"/>
<ellipse cx="278.7" cy="259.2" rx="1.7" ry="1.0" fill="#e6e2d8"/>
<ellipse cx="290.6" cy="212.2" rx="1.9" ry="1.1" fill="#2a2824"/>
<ellipse cx="302.8" cy="257.8" rx="2.3" ry="1.8" fill="#b8ae98" transform="rotate(70 302.8 257.8)"/>
<ellipse cx="301.7" cy="196.3" rx="1.6" ry="1.3" fill="#6b6a5c" transform="rotate(70 301.7 196.3)"/>
<ellipse cx="294.2" cy="207.3" rx="2.3" ry="1.7" fill="#9a927e"/>
<ellipse cx="306.6" cy="249.2" rx="2.6" ry="1.6" fill="#d0cab8" transform="rotate(-35 306.6 249.2)"/>
<ellipse cx="302.6" cy="253.6" rx="2.0" ry="1.6" fill="#d0cab8"/>
<ellipse cx="279.6" cy="206.8" rx="1.1" ry="0.8" fill="#b8ae98" transform="rotate(40 279.6 206.8)"/>
<ellipse cx="274.0" cy="223.6" rx="1.2" ry="0.8" fill="#6b6a5c"/>
<ellipse cx="257.4" cy="239.6" rx="2.1" ry="1.3" fill="#4c4e55" transform="rotate(40 257.4 239.6)"/>
<ellipse cx="274.3" cy="203.0" rx="2.4" ry="2.2" fill="#77705c" transform="rotate(70 274.3 203.0)"/>
<ellipse cx="270.3" cy="223.7" rx="2.4" ry="1.8" fill="#e6e2d8" transform="rotate(-20 270.3 223.7)"/>
<ellipse cx="266.1" cy="252.1" rx="1.2" ry="1.1" fill="#6b6a5c" transform="rotate(40 266.1 252.1)"/>
<ellipse cx="279.6" cy="231.4" rx="1.0" ry="0.9" fill="#2a2824" transform="rotate(-35 279.6 231.4)"/>
<g><ellipse cx="248.5" cy="75.5" rx="5.4" ry="5.4" fill="#171410"/><ellipse cx="248.5" cy="75.0" rx="5.0" ry="5.0" fill="#3a3228"/><ellipse cx="248.5" cy="75.0" rx="5.0" ry="5.0" fill="url(#shg)"/><ellipse cx="248.5" cy="75.0" rx="5.0" ry="5.0" fill="url(#hlg)" opacity="0.22"/></g>
<g><ellipse cx="280.4" cy="129.2" rx="5.4" ry="4.9" fill="#373530"/><ellipse cx="280.4" cy="128.7" rx="5.0" ry="4.5" fill="#8a8578"/><ellipse cx="280.4" cy="128.7" rx="5.0" ry="4.5" fill="url(#shg)"/><ellipse cx="280.4" cy="128.7" rx="5.0" ry="4.5" fill="url(#hlg)" opacity="0.44"/></g>
<g><ellipse cx="301.3" cy="115.5" rx="6.4" ry="4.4" fill="#121213"/><ellipse cx="301.3" cy="115.0" rx="6.0" ry="4.0" fill="#2e2e30"/><ellipse cx="301.3" cy="115.0" rx="6.0" ry="4.0" fill="url(#shg)"/><ellipse cx="301.3" cy="115.0" rx="6.0" ry="4.0" fill="url(#hlg)" opacity="0.22"/></g>
<g><ellipse cx="294.0" cy="112.0" rx="3.9" ry="3.4" fill="#464440"/><ellipse cx="294.0" cy="111.5" rx="3.5" ry="3.0" fill="#b0aca0"/><ellipse cx="294.0" cy="111.5" rx="3.5" ry="3.0" fill="url(#shg)"/><ellipse cx="294.0" cy="111.5" rx="3.5" ry="3.0" fill="url(#hlg)" opacity="0.44"/></g>
<g transform="rotate(10 303.0 149.6)"><ellipse cx="303.0" cy="150.1" rx="6.4" ry="3.4" fill="#504e49"/><ellipse cx="303.0" cy="149.6" rx="6.0" ry="3.0" fill="#c8c4b8"/><ellipse cx="303.0" cy="149.6" rx="6.0" ry="3.0" fill="url(#shg)"/><ellipse cx="303.0" cy="149.6" rx="6.0" ry="3.0" fill="url(#hlg)" opacity="0.44"/></g>
<g transform="rotate(5 298.5 155.0)"><ellipse cx="298.5" cy="155.5" rx="7.4" ry="3.4" fill="#131314"/><ellipse cx="298.5" cy="155.0" rx="7.0" ry="3.0" fill="#303032"/><ellipse cx="298.5" cy="155.0" rx="7.0" ry="3.0" fill="url(#shg)"/><ellipse cx="298.5" cy="155.0" rx="7.0" ry="3.0" fill="url(#hlg)" opacity="0.22"/></g>
<g transform="rotate(-10 284.0 159.6)"><ellipse cx="284.0" cy="160.1" rx="6.4" ry="4.4" fill="#2a261e"/><ellipse cx="284.0" cy="159.6" rx="6.0" ry="4.0" fill="#6a604c"/><ellipse cx="284.0" cy="159.6" rx="6.0" ry="4.0" fill="url(#shg)"/><ellipse cx="284.0" cy="159.6" rx="6.0" ry="4.0" fill="url(#hlg)" opacity="0.33"/></g>
<g transform="rotate(10 255.8 167.8)"><ellipse cx="255.8" cy="168.3" rx="6.4" ry="4.4" fill="#303330"/><ellipse cx="255.8" cy="167.8" rx="6.0" ry="4.0" fill="#7a8078"/><ellipse cx="255.8" cy="167.8" rx="6.0" ry="4.0" fill="url(#shg)"/><ellipse cx="255.8" cy="167.8" rx="6.0" ry="4.0" fill="url(#hlg)" opacity="0.44"/></g>
<g><ellipse cx="267.6" cy="172.0" rx="4.4" ry="5.4" fill="#1d201c"/><ellipse cx="267.6" cy="171.5" rx="4.0" ry="5.0" fill="#4a5048"/><ellipse cx="267.6" cy="171.5" rx="4.0" ry="5.0" fill="url(#shg)"/><ellipse cx="267.6" cy="171.5" rx="4.0" ry="5.0" fill="url(#hlg)" opacity="0.26"/></g>
<g><ellipse cx="252.0" cy="149.5" rx="4.9" ry="10.4" fill="#101110"/><ellipse cx="252.0" cy="149.0" rx="4.5" ry="10.0" fill="#2a2c28"/><ellipse cx="252.0" cy="149.0" rx="4.5" ry="10.0" fill="url(#shg)"/><ellipse cx="252.0" cy="149.0" rx="4.5" ry="10.0" fill="url(#hlg)" opacity="0.18"/></g>
<g transform="rotate(15 287.0 100.0)"><ellipse cx="287.0" cy="100.5" rx="6.4" ry="4.4" fill="#22201d"/><ellipse cx="287.0" cy="100.0" rx="6.0" ry="4.0" fill="#55504a"/><ellipse cx="287.0" cy="100.0" rx="6.0" ry="4.0" fill="url(#shg)"/><ellipse cx="287.0" cy="100.0" rx="6.0" ry="4.0" fill="url(#hlg)" opacity="0.26"/></g>
<g transform="rotate(-10 272.0 103.0)"><ellipse cx="272.0" cy="103.5" rx="5.4" ry="3.9" fill="#302e28"/><ellipse cx="272.0" cy="103.0" rx="5.0" ry="3.5" fill="#7a7466"/><ellipse cx="272.0" cy="103.0" rx="5.0" ry="3.5" fill="url(#shg)"/><ellipse cx="272.0" cy="103.0" rx="5.0" ry="3.5" fill="url(#hlg)" opacity="0.33"/></g>
<g transform="rotate(20 309.0 176.0)"><ellipse cx="309.0" cy="176.5" rx="6.4" ry="4.4" fill="#242320"/><ellipse cx="309.0" cy="176.0" rx="6.0" ry="4.0" fill="#5a5850"/><ellipse cx="309.0" cy="176.0" rx="6.0" ry="4.0" fill="url(#shg)"/><ellipse cx="309.0" cy="176.0" rx="6.0" ry="4.0" fill="url(#hlg)" opacity="0.26"/></g>
<g transform="rotate(-15 288.0 182.0)"><ellipse cx="288.0" cy="182.5" rx="5.4" ry="3.9" fill="#37352f"/><ellipse cx="288.0" cy="182.0" rx="5.0" ry="3.5" fill="#8a8676"/><ellipse cx="288.0" cy="182.0" rx="5.0" ry="3.5" fill="url(#shg)"/><ellipse cx="288.0" cy="182.0" rx="5.0" ry="3.5" fill="url(#hlg)" opacity="0.44"/></g>
<g><ellipse cx="262.0" cy="196.5" rx="5.4" ry="4.4" fill="#1d1d1b"/><ellipse cx="262.0" cy="196.0" rx="5.0" ry="4.0" fill="#4a4a44"/><ellipse cx="262.0" cy="196.0" rx="5.0" ry="4.0" fill="url(#shg)"/><ellipse cx="262.0" cy="196.0" rx="5.0" ry="4.0" fill="url(#hlg)" opacity="0.26"/></g>
<g transform="rotate(-20 261.5 64.0)"><ellipse cx="261.5" cy="64.5" rx="8.4" ry="8.4" fill="#4a4742"/><ellipse cx="261.5" cy="64.0" rx="8.0" ry="8.0" fill="#b9b2a6"/><ellipse cx="261.5" cy="64.0" rx="8.0" ry="8.0" fill="url(#shg)"/><ellipse cx="261.5" cy="64.0" rx="8.0" ry="8.0" fill="url(#hlg)" opacity="0.77"/></g>
<ellipse cx="259.5" cy="61" rx="4.5" ry="3.5" fill="#ece8e0"/>
<ellipse cx="264" cy="68" rx="4" ry="3" fill="#3a3026"/>
<g transform="rotate(-25 277.6 68.7)"><ellipse cx="277.6" cy="69.2" rx="6.9" ry="8.4" fill="#352e1d"/><ellipse cx="277.6" cy="68.7" rx="6.5" ry="8.0" fill="#857549"/><ellipse cx="277.6" cy="68.7" rx="6.5" ry="8.0" fill="url(#shg)"/><ellipse cx="277.6" cy="68.7" rx="6.5" ry="8.0" fill="url(#hlg)" opacity="0.77"/></g>
<g transform="rotate(35 295.0 76.0)"><ellipse cx="295.0" cy="76.5" rx="11.4" ry="9.9" fill="#0e0d0c"/><ellipse cx="295.0" cy="76.0" rx="11.0" ry="9.5" fill="#24211f"/><ellipse cx="295.0" cy="76.0" rx="11.0" ry="9.5" fill="url(#shg)"/><ellipse cx="295.0" cy="76.0" rx="11.0" ry="9.5" fill="url(#hlg)" opacity="0.26"/></g>
<g transform="rotate(8 263.0 85.0)"><ellipse cx="263.0" cy="85.5" rx="16.4" ry="9.4" fill="#0e0e0e"/><ellipse cx="263.0" cy="85.0" rx="16.0" ry="9.0" fill="#252323"/><ellipse cx="263.0" cy="85.0" rx="16.0" ry="9.0" fill="url(#shg)"/><ellipse cx="263.0" cy="85.0" rx="16.0" ry="9.0" fill="url(#hlg)" opacity="0.29"/></g>
<g><ellipse cx="241.5" cy="95.5" rx="5.9" ry="9.4" fill="#2a2417"/><ellipse cx="241.5" cy="95.0" rx="5.5" ry="9.0" fill="#6b5a3a"/><ellipse cx="241.5" cy="95.0" rx="5.5" ry="9.0" fill="url(#shg)"/><ellipse cx="241.5" cy="95.0" rx="5.5" ry="9.0" fill="url(#hlg)" opacity="0.77"/></g>
<g transform="rotate(15 310.4 92.4)"><ellipse cx="310.4" cy="92.9" rx="8.4" ry="6.4" fill="#22242b"/><ellipse cx="310.4" cy="92.4" rx="8.0" ry="6.0" fill="#565a6c"/><ellipse cx="310.4" cy="92.4" rx="8.0" ry="6.0" fill="url(#shg)"/><ellipse cx="310.4" cy="92.4" rx="8.0" ry="6.0" fill="url(#hlg)" opacity="0.77"/></g>
<g transform="rotate(25 320.5 108.7)"><ellipse cx="320.5" cy="109.2" rx="9.4" ry="7.4" fill="#2a231b"/><ellipse cx="320.5" cy="108.7" rx="9.0" ry="7.0" fill="#6a5844"/><ellipse cx="320.5" cy="108.7" rx="9.0" ry="7.0" fill="url(#shg)"/><ellipse cx="320.5" cy="108.7" rx="9.0" ry="7.0" fill="url(#hlg)" opacity="0.77"/></g>
<g><ellipse cx="247.0" cy="113.5" rx="7.4" ry="6.4" fill="#54514a"/><ellipse cx="247.0" cy="113.0" rx="7.0" ry="6.0" fill="#d2ccbb"/><ellipse cx="247.0" cy="113.0" rx="7.0" ry="6.0" fill="url(#shg)"/><ellipse cx="247.0" cy="113.0" rx="7.0" ry="6.0" fill="url(#hlg)" opacity="0.77"/></g>
<g transform="rotate(8 262.2 117.5)"><ellipse cx="262.2" cy="118.0" rx="10.4" ry="6.4" fill="#4a4438"/><ellipse cx="262.2" cy="117.5" rx="10.0" ry="6.0" fill="#b9ab8c"/><ellipse cx="262.2" cy="117.5" rx="10.0" ry="6.0" fill="url(#shg)"/><ellipse cx="262.2" cy="117.5" rx="10.0" ry="6.0" fill="url(#hlg)" opacity="0.77"/></g>
<g><ellipse cx="321.3" cy="112.9" rx="8.4" ry="8.4" fill="#2c241a"/><ellipse cx="321.3" cy="112.4" rx="8.0" ry="8.0" fill="#6e5a42"/><ellipse cx="321.3" cy="112.4" rx="8.0" ry="8.0" fill="url(#shg)"/><ellipse cx="321.3" cy="112.4" rx="8.0" ry="8.0" fill="url(#hlg)" opacity="0.77"/></g>
<g transform="rotate(15 302.2 133.3)"><ellipse cx="302.2" cy="133.8" rx="15.4" ry="12.4" fill="#17181e"/><ellipse cx="302.2" cy="133.3" rx="15.0" ry="12.0" fill="#3a3e4c"/><ellipse cx="302.2" cy="133.3" rx="15.0" ry="12.0" fill="url(#shg)"/><ellipse cx="302.2" cy="133.3" rx="15.0" ry="12.0" fill="url(#hlg)" opacity="0.29"/></g>
<g transform="rotate(20 324.0 137.8)"><ellipse cx="324.0" cy="138.3" rx="7.4" ry="6.4" fill="#554d48"/><ellipse cx="324.0" cy="137.8" rx="7.0" ry="6.0" fill="#d6c2b6"/><ellipse cx="324.0" cy="137.8" rx="7.0" ry="6.0" fill="url(#shg)"/><ellipse cx="324.0" cy="137.8" rx="7.0" ry="6.0" fill="url(#hlg)" opacity="0.77"/></g>
<g><ellipse cx="319.5" cy="146.0" rx="4.4" ry="3.9" fill="#371d1a"/><ellipse cx="319.5" cy="145.5" rx="4.0" ry="3.5" fill="#8a4a42"/><ellipse cx="319.5" cy="145.5" rx="4.0" ry="3.5" fill="url(#shg)"/><ellipse cx="319.5" cy="145.5" rx="4.0" ry="3.5" fill="url(#hlg)" opacity="0.77"/></g>
<g transform="rotate(25 275.0 133.0)"><ellipse cx="275.0" cy="133.5" rx="8.4" ry="5.4" fill="#302e21"/><ellipse cx="275.0" cy="133.0" rx="8.0" ry="5.0" fill="#7a7454"/><ellipse cx="275.0" cy="133.0" rx="8.0" ry="5.0" fill="url(#shg)"/><ellipse cx="275.0" cy="133.0" rx="8.0" ry="5.0" fill="url(#hlg)" opacity="0.77"/></g>
<g transform="rotate(8 269.5 145.0)"><ellipse cx="269.5" cy="145.5" rx="10.4" ry="7.4" fill="#292c26"/><ellipse cx="269.5" cy="145.0" rx="10.0" ry="7.0" fill="#687060"/><ellipse cx="269.5" cy="145.0" rx="10.0" ry="7.0" fill="url(#shg)"/><ellipse cx="269.5" cy="145.0" rx="10.0" ry="7.0" fill="url(#hlg)" opacity="0.77"/></g>
<g><ellipse cx="256.0" cy="131.5" rx="5.4" ry="8.4" fill="#1d1d18"/><ellipse cx="256.0" cy="131.0" rx="5.0" ry="8.0" fill="#4a4a3e"/><ellipse cx="256.0" cy="131.0" rx="5.0" ry="8.0" fill="url(#shg)"/><ellipse cx="256.0" cy="131.0" rx="5.0" ry="8.0" fill="url(#hlg)" opacity="0.77"/></g>
<g transform="rotate(-20 322.0 163.0)"><ellipse cx="322.0" cy="163.5" rx="7.4" ry="8.4" fill="#141417"/><ellipse cx="322.0" cy="163.0" rx="7.0" ry="8.0" fill="#34343a"/><ellipse cx="322.0" cy="163.0" rx="7.0" ry="8.0" fill="url(#shg)"/><ellipse cx="322.0" cy="163.0" rx="7.0" ry="8.0" fill="url(#hlg)" opacity="0.33"/></g>
<g transform="rotate(8 306.7 195.0)"><ellipse cx="306.7" cy="195.5" rx="16.4" ry="5.9" fill="#141418"/><ellipse cx="306.7" cy="195.0" rx="16.0" ry="5.5" fill="#34343c"/><ellipse cx="306.7" cy="195.0" rx="16.0" ry="5.5" fill="url(#shg)"/><ellipse cx="306.7" cy="195.0" rx="16.0" ry="5.5" fill="url(#hlg)" opacity="0.26"/></g>
<g transform="rotate(5 302.2 204.5)"><ellipse cx="302.2" cy="205.0" rx="15.4" ry="7.9" fill="#1c1e28"/><ellipse cx="302.2" cy="204.5" rx="15.0" ry="7.5" fill="#464c64"/><ellipse cx="302.2" cy="204.5" rx="15.0" ry="7.5" fill="url(#shg)"/><ellipse cx="302.2" cy="204.5" rx="15.0" ry="7.5" fill="url(#hlg)" opacity="0.48"/></g>
<g><ellipse cx="250.0" cy="176.5" rx="5.4" ry="4.9" fill="#565349"/><ellipse cx="250.0" cy="176.0" rx="5.0" ry="4.5" fill="#d8d0b8"/><ellipse cx="250.0" cy="176.0" rx="5.0" ry="4.5" fill="url(#shg)"/><ellipse cx="250.0" cy="176.0" rx="5.0" ry="4.5" fill="url(#hlg)" opacity="0.77"/></g>
<g><ellipse cx="269.5" cy="218.3" rx="5.4" ry="4.4" fill="#5a5854"/><ellipse cx="269.5" cy="217.8" rx="5.0" ry="4.0" fill="#e2ded2"/><ellipse cx="269.5" cy="217.8" rx="5.0" ry="4.0" fill="url(#shg)"/><ellipse cx="269.5" cy="217.8" rx="5.0" ry="4.0" fill="url(#hlg)" opacity="0.77"/></g>
<g><ellipse cx="303.0" cy="222.0" rx="7.4" ry="5.4" fill="#373019"/><ellipse cx="303.0" cy="221.5" rx="7.0" ry="5.0" fill="#8a7a40"/><ellipse cx="303.0" cy="221.5" rx="7.0" ry="5.0" fill="url(#shg)"/><ellipse cx="303.0" cy="221.5" rx="7.0" ry="5.0" fill="url(#hlg)" opacity="0.77"/></g>
<g transform="rotate(15 281.3 248.7)"><ellipse cx="281.3" cy="249.2" rx="6.4" ry="4.9" fill="#575550"/><ellipse cx="281.3" cy="248.7" rx="6.0" ry="4.5" fill="#dad6ca"/><ellipse cx="281.3" cy="248.7" rx="6.0" ry="4.5" fill="url(#shg)"/><ellipse cx="281.3" cy="248.7" rx="6.0" ry="4.5" fill="url(#hlg)" opacity="0.77"/></g>
<g><ellipse cx="292.2" cy="256.5" rx="6.4" ry="5.4" fill="#37392c"/><ellipse cx="292.2" cy="256.0" rx="6.0" ry="5.0" fill="#8a9070"/><ellipse cx="292.2" cy="256.0" rx="6.0" ry="5.0" fill="url(#shg)"/><ellipse cx="292.2" cy="256.0" rx="6.0" ry="5.0" fill="url(#hlg)" opacity="0.77"/></g>
<rect x="234" y="44" width="100" height="224" filter="url(#grain)"/>
</g></g>
<path d="M252.6 58.5 C254 51 264 45 277.5 41.2 L279.5 38.8 L283.8 38.6 L285.2 40.8 C298 43.5 309.5 50 310.6 58.5 L309.6 64.5 L307.6 63 C305.5 56.5 295 51.8 281 51.8 C268.5 51.8 258.5 55 254.5 61.5 Z" fill="url(#lid1g)"/>
<path d="M259 50.5 C265 45.5 273 42.8 281.5 41.2 C291 43 299 46 304.5 50.5 C297 48 290 47 281.5 47 C273 47 266 48 259 50.5Z" fill="#efe8de" opacity="0.55"/>
<path d="M254.5 61.5 C258.5 55 268.5 51.8 281 51.8 C295 51.8 305.5 56.5 307.6 63 C303 56 293 53.8 281 49.6 C269 49.6 259 52 254.5 57.5Z" fill="#7c6652" opacity="0.55"/>
<path d="M252.8 58.5 C255 54 259 51.5 263 50 C259.5 53.5 257 57 254.8 61.2Z" fill="#6e5a48"/>
<path d="M303 53.5 C307 55.5 309.8 58 310.5 60 L309.6 64.5 L307.6 63 C306.8 59.5 305.5 56.5 303 53.5Z" fill="#cbbba8"/>
<path d="M292.8 269.0V266.4H326V269.0M309.4 266.4v2" stroke="#555" stroke-width="0.5" fill="none"/>
<text x="292.8" y="273.0" font-size="3.7" fill="#333" text-anchor="middle">0</text>
<text x="309.4" y="273.0" font-size="3.7" fill="#333" text-anchor="middle">15</text>
<text x="327.5" y="273.0" font-size="3.7" fill="#333" text-anchor="middle">30cm</text>
<rect x="236.5" y="346.6" width="95.8" height="225.8" fill="#f0f0f0"/>
<clipPath id="cp2"><path d="M252.3 352.0 L250.6 354.5 L249.2 357.0 L248.5 359.5 L249.4 362.0 L249.5 364.5 L249.4 367.0 L247.8 369.5 L249.1 372.0 L247.6 374.5 L249.0 377.0 L249.2 379.5 L247.9 382.0 L247.1 384.5 L249.0 387.0 L248.1 389.5 L248.4 392.0 L249.1 394.5 L248.9 397.0 L249.2 399.5 L248.5 402.0 L248.8 404.5 L247.5 407.0 L247.9 409.5 L247.9 412.0 L246.8 414.5 L247.9 417.0 L247.3 419.5 L246.6 422.0 L246.5 424.5 L247.5 427.0 L246.6 429.5 L248.4 432.0 L247.7 434.5 L247.4 437.0 L247.0 439.5 L248.1 442.0 L246.5 444.5 L246.9 447.0 L247.6 449.5 L247.7 452.0 L247.9 454.5 L247.1 457.0 L248.4 459.5 L247.6 462.0 L248.2 464.5 L248.9 467.0 L248.9 469.5 L249.3 472.0 L249.0 474.5 L249.9 477.0 L249.3 479.5 L248.9 482.0 L247.5 484.5 L249.4 487.0 L249.2 489.5 L247.9 492.0 L248.9 494.5 L250.5 497.0 L250.9 499.5 L249.2 502.0 L251.1 504.5 L251.7 507.0 L252.0 509.5 L252.6 512.0 L252.4 514.5 L254.4 517.0 L254.7 519.5 L254.2 522.0 L253.5 524.5 L254.5 527.0 L254.6 529.5 L252.8 532.0 L252.9 534.5 L254.0 537.0 L253.0 539.5 L254.7 542.0 L254.5 544.5 L254.5 547.0 L255.5 549.5 L258.9 552.0 L259.2 554.5 L262.6 557.0 L263.7 559.5 L266.9 562.0 L268.6 564.5 L271.3 567.0 L274.6 569.5 L278.7 571.5 L281.0 571.5 L286.4 569.5 L296.0 567.0 L303.3 564.5 L307.2 562.0 L310.0 559.5 L312.3 557.0 L314.1 554.5 L314.3 552.0 L314.1 549.5 L316.0 547.0 L317.1 544.5 L317.7 542.0 L318.8 539.5 L319.0 537.0 L320.7 534.5 L322.4 532.0 L325.9 529.5 L325.9 527.0 L325.7 524.5 L326.7 522.0 L325.3 519.5 L324.4 517.0 L322.8 514.5 L322.2 512.0 L318.9 509.5 L315.8 507.0 L316.8 504.5 L314.5 502.0 L314.1 499.5 L314.4 497.0 L314.8 494.5 L314.1 492.0 L313.4 489.5 L314.5 487.0 L314.5 484.5 L313.4 482.0 L314.1 479.5 L314.4 477.0 L313.8 474.5 L313.1 472.0 L314.7 469.5 L314.9 467.0 L316.4 464.5 L318.6 462.0 L319.8 459.5 L319.6 457.0 L320.7 454.5 L319.0 452.0 L317.8 449.5 L318.2 447.0 L317.0 444.5 L317.4 442.0 L316.1 439.5 L313.4 437.0 L312.9 434.5 L314.9 432.0 L312.8 429.5 L314.2 427.0 L315.0 424.5 L314.3 422.0 L314.9 419.5 L312.9 417.0 L314.1 414.5 L312.1 412.0 L314.0 409.5 L314.7 407.0 L316.8 404.5 L319.6 402.0 L318.1 399.5 L316.8 397.0 L313.4 394.5 L311.8 392.0 L310.4 389.5 L307.4 387.0 L308.7 384.5 L306.2 382.0 L307.7 379.5 L305.2 377.0 L305.8 374.5 L306.0 372.0 L304.5 369.5 L304.4 367.0 L304.0 364.5 L305.4 362.0 L305.3 359.5 L303.4 357.0 L300.7 354.5 L300.1 352.0Z"/></clipPath>
<g clip-path="url(#cp2)"><g filter="url(#soft)">
<rect x="234" y="346" width="100" height="230" fill="#555" filter="url(#tx2)"/>
<rect x="234" y="372" width="100" height="204" fill="#1c1e26" opacity="0.12"/>
<rect x="234" y="505" width="100" height="71" fill="#1c1e26" opacity="0.36"/>
<ellipse cx="276.7" cy="363" rx="25.5" ry="11" fill="#232428"/>
<ellipse cx="264.5" cy="357" rx="4.5" ry="2.6" fill="#9a8a74"/>
<ellipse cx="265.2" cy="447.8" rx="1.6" ry="1.3" fill="#5e5e64" transform="rotate(70 265.2 447.8)"/>
<ellipse cx="270.2" cy="462.9" rx="1.6" ry="1.3" fill="#807e7e"/>
<ellipse cx="298.6" cy="469.9" rx="2.4" ry="1.4" fill="#70696a" transform="rotate(40 298.6 469.9)"/>
<ellipse cx="256.5" cy="521.0" rx="1.3" ry="1.1" fill="#444448"/>
<ellipse cx="269.0" cy="450.6" rx="1.5" ry="0.9" fill="#807e7e" transform="rotate(-35 269.0 450.6)"/>
<ellipse cx="280.7" cy="571.2" rx="2.0" ry="1.3" fill="#96928e"/>
<ellipse cx="264.0" cy="482.4" rx="1.6" ry="1.5" fill="#55555a" transform="rotate(20 264.0 482.4)"/>
<ellipse cx="314.1" cy="439.4" rx="1.8" ry="1.0" fill="#c9c5bf" transform="rotate(40 314.1 439.4)"/>
<ellipse cx="254.1" cy="502.0" rx="1.4" ry="1.2" fill="#5e5e64"/>
<ellipse cx="275.2" cy="464.5" rx="2.2" ry="1.5" fill="#807e7e"/>
<ellipse cx="265.6" cy="455.7" rx="2.1" ry="1.8" fill="#70696a"/>
<ellipse cx="290.4" cy="452.0" rx="2.0" ry="1.5" fill="#70696a" transform="rotate(-35 290.4 452.0)"/>
<ellipse cx="308.5" cy="507.8" rx="1.2" ry="0.8" fill="#6e6c6c"/>
<ellipse cx="276.6" cy="510.3" rx="1.3" ry="0.7" fill="#444448" transform="rotate(-35 276.6 510.3)"/>
<ellipse cx="273.6" cy="424.5" rx="2.3" ry="1.9" fill="#96928e"/>
<ellipse cx="258.3" cy="444.2" rx="2.3" ry="1.6" fill="#38383c" transform="rotate(-35 258.3 444.2)"/>
<ellipse cx="261.1" cy="539.9" rx="2.4" ry="2.1" fill="#70696a"/>
<ellipse cx="277.9" cy="542.9" rx="1.3" ry="1.2" fill="#807e7e" transform="rotate(20 277.9 542.9)"/>
<ellipse cx="264.8" cy="450.8" rx="1.0" ry="0.6" fill="#5e5e64"/>
<ellipse cx="266.3" cy="378.4" rx="1.5" ry="1.2" fill="#444448" transform="rotate(40 266.3 378.4)"/>
<ellipse cx="270.9" cy="513.3" rx="2.0" ry="1.6" fill="#444448"/>
<ellipse cx="288.3" cy="538.9" rx="1.6" ry="1.0" fill="#4a4c52" transform="rotate(70 288.3 538.9)"/>
<ellipse cx="254.7" cy="443.1" rx="1.5" ry="1.2" fill="#444448"/>
<ellipse cx="301.4" cy="541.6" rx="1.6" ry="0.9" fill="#96928e" transform="rotate(-35 301.4 541.6)"/>
<ellipse cx="310.8" cy="506.1" rx="1.2" ry="1.0" fill="#6e6c6c" transform="rotate(70 310.8 506.1)"/>
<ellipse cx="268.5" cy="545.7" rx="1.8" ry="1.1" fill="#c9c5bf"/>
<ellipse cx="252.1" cy="450.5" rx="1.5" ry="1.0" fill="#70696a" transform="rotate(-35 252.1 450.5)"/>
<ellipse cx="258.0" cy="428.0" rx="1.5" ry="1.1" fill="#444448" transform="rotate(20 258.0 428.0)"/>
<ellipse cx="266.4" cy="505.0" rx="1.0" ry="0.7" fill="#c9c5bf" transform="rotate(70 266.4 505.0)"/>
<ellipse cx="289.0" cy="402.2" rx="2.0" ry="1.5" fill="#807e7e" transform="rotate(-20 289.0 402.2)"/>
<ellipse cx="309.4" cy="396.1" rx="2.3" ry="1.5" fill="#c9c5bf" transform="rotate(-20 309.4 396.1)"/>
<ellipse cx="272.8" cy="541.4" rx="2.0" ry="1.8" fill="#6e6c6c"/>
<ellipse cx="267.0" cy="379.1" rx="1.5" ry="1.0" fill="#444448" transform="rotate(-35 267.0 379.1)"/>
<ellipse cx="289.8" cy="465.8" rx="2.3" ry="1.6" fill="#5e5e64" transform="rotate(-35 289.8 465.8)"/>
<ellipse cx="298.5" cy="560.5" rx="1.8" ry="1.5" fill="#c9c5bf" transform="rotate(40 298.5 560.5)"/>
<ellipse cx="267.7" cy="455.1" rx="2.1" ry="1.9" fill="#c9c5bf" transform="rotate(-20 267.7 455.1)"/>
<ellipse cx="256.0" cy="379.6" rx="1.7" ry="1.1" fill="#55555a" transform="rotate(-20 256.0 379.6)"/>
<ellipse cx="275.6" cy="567.4" rx="1.2" ry="0.8" fill="#38383c"/>
<ellipse cx="309.3" cy="476.1" rx="2.4" ry="1.3" fill="#4a4c52" transform="rotate(-20 309.3 476.1)"/>
<ellipse cx="302.6" cy="541.8" rx="1.0" ry="0.9" fill="#55555a" transform="rotate(20 302.6 541.8)"/>
<ellipse cx="308.3" cy="441.3" rx="1.4" ry="1.1" fill="#c9c5bf" transform="rotate(-35 308.3 441.3)"/>
<ellipse cx="261.4" cy="403.3" rx="1.1" ry="0.8" fill="#70696a" transform="rotate(70 261.4 403.3)"/>
<ellipse cx="272.6" cy="484.8" rx="1.3" ry="1.1" fill="#4a4c52" transform="rotate(-20 272.6 484.8)"/>
<ellipse cx="264.1" cy="419.4" rx="1.4" ry="0.9" fill="#4a4c52" transform="rotate(-35 264.1 419.4)"/>
<ellipse cx="252.4" cy="397.2" rx="1.0" ry="0.6" fill="#96928e"/>
<ellipse cx="286.4" cy="541.8" rx="1.9" ry="1.1" fill="#5e5e64" transform="rotate(70 286.4 541.8)"/>
<ellipse cx="282.6" cy="454.5" rx="1.4" ry="1.0" fill="#c9c5bf" transform="rotate(20 282.6 454.5)"/>
<ellipse cx="270.8" cy="515.2" rx="2.0" ry="1.3" fill="#55555a" transform="rotate(70 270.8 515.2)"/>
<ellipse cx="314.5" cy="523.9" rx="2.1" ry="1.7" fill="#c9c5bf" transform="rotate(-35 314.5 523.9)"/>
<ellipse cx="296.2" cy="513.4" rx="2.1" ry="1.9" fill="#444448"/>
<ellipse cx="295.0" cy="447.4" rx="1.2" ry="0.8" fill="#807e7e" transform="rotate(-20 295.0 447.4)"/>
<ellipse cx="310.1" cy="489.1" rx="2.4" ry="1.4" fill="#96928e" transform="rotate(-20 310.1 489.1)"/>
<ellipse cx="291.8" cy="422.4" rx="1.5" ry="1.2" fill="#444448"/>
<ellipse cx="317.9" cy="403.5" rx="2.2" ry="1.4" fill="#55555a" transform="rotate(-35 317.9 403.5)"/>
<ellipse cx="301.0" cy="479.7" rx="1.5" ry="1.4" fill="#4a4c52" transform="rotate(70 301.0 479.7)"/>
<ellipse cx="273.4" cy="468.6" rx="1.4" ry="1.2" fill="#96928e"/>
<ellipse cx="291.8" cy="450.3" rx="2.0" ry="1.9" fill="#c9c5bf" transform="rotate(-35 291.8 450.3)"/>
<ellipse cx="289.3" cy="510.8" rx="2.1" ry="1.3" fill="#444448" transform="rotate(70 289.3 510.8)"/>
<ellipse cx="308.3" cy="393.4" rx="1.3" ry="1.0" fill="#6e6c6c"/>
<ellipse cx="248.8" cy="436.7" rx="1.7" ry="1.1" fill="#c9c5bf" transform="rotate(20 248.8 436.7)"/>
<ellipse cx="252.9" cy="436.4" rx="1.2" ry="0.9" fill="#4a4c52"/>
<ellipse cx="248.4" cy="402.3" rx="2.0" ry="1.7" fill="#807e7e"/>
<ellipse cx="257.0" cy="439.3" rx="2.1" ry="2.0" fill="#c9c5bf" transform="rotate(-20 257.0 439.3)"/>
<ellipse cx="268.6" cy="378.4" rx="1.7" ry="1.3" fill="#38383c" transform="rotate(40 268.6 378.4)"/>
<ellipse cx="302.8" cy="495.3" rx="1.3" ry="0.8" fill="#96928e" transform="rotate(70 302.8 495.3)"/>
<ellipse cx="301.0" cy="421.9" rx="1.8" ry="1.6" fill="#807e7e"/>
<ellipse cx="313.5" cy="543.5" rx="1.7" ry="1.4" fill="#96928e" transform="rotate(20 313.5 543.5)"/>
<ellipse cx="280.4" cy="376.8" rx="1.0" ry="0.7" fill="#38383c"/>
<ellipse cx="268.3" cy="563.9" rx="1.7" ry="1.5" fill="#70696a" transform="rotate(-20 268.3 563.9)"/>
<ellipse cx="282.8" cy="433.6" rx="1.9" ry="1.7" fill="#6e6c6c" transform="rotate(-20 282.8 433.6)"/>
<ellipse cx="298.5" cy="452.5" rx="1.3" ry="1.2" fill="#807e7e"/>
<ellipse cx="263.4" cy="487.4" rx="1.5" ry="1.0" fill="#96928e" transform="rotate(70 263.4 487.4)"/>
<ellipse cx="281.0" cy="570.5" rx="1.6" ry="1.1" fill="#6e6c6c" transform="rotate(-35 281.0 570.5)"/>
<ellipse cx="253.8" cy="436.3" rx="1.4" ry="1.2" fill="#38383c"/>
<ellipse cx="292.9" cy="520.6" rx="1.9" ry="1.2" fill="#6e6c6c"/>
<ellipse cx="272.8" cy="400.6" rx="1.5" ry="0.9" fill="#4a4c52"/>
<ellipse cx="270.9" cy="452.7" rx="1.7" ry="1.6" fill="#38383c"/>
<ellipse cx="274.7" cy="548.1" rx="2.0" ry="1.2" fill="#55555a" transform="rotate(-20 274.7 548.1)"/>
<ellipse cx="310.8" cy="466.7" rx="1.6" ry="1.4" fill="#444448" transform="rotate(70 310.8 466.7)"/>
<ellipse cx="292.5" cy="426.7" rx="2.3" ry="1.6" fill="#444448" transform="rotate(70 292.5 426.7)"/>
<ellipse cx="316.2" cy="443.4" rx="1.1" ry="0.9" fill="#c9c5bf" transform="rotate(-35 316.2 443.4)"/>
<ellipse cx="284.6" cy="383.1" rx="1.4" ry="1.0" fill="#c9c5bf" transform="rotate(40 284.6 383.1)"/>
<ellipse cx="296.9" cy="565.9" rx="1.1" ry="0.9" fill="#70696a" transform="rotate(-20 296.9 565.9)"/>
<ellipse cx="278.1" cy="505.1" rx="1.5" ry="0.9" fill="#5e5e64" transform="rotate(40 278.1 505.1)"/>
<ellipse cx="282.2" cy="486.6" rx="0.9" ry="0.8" fill="#70696a" transform="rotate(20 282.2 486.6)"/>
<ellipse cx="287.6" cy="490.7" rx="2.3" ry="1.4" fill="#70696a" transform="rotate(20 287.6 490.7)"/>
<ellipse cx="281.6" cy="570.6" rx="1.4" ry="1.2" fill="#4a4c52" transform="rotate(-20 281.6 570.6)"/>
<ellipse cx="305.4" cy="382.5" rx="2.0" ry="1.8" fill="#6e6c6c"/>
<ellipse cx="308.5" cy="409.4" rx="2.1" ry="1.3" fill="#6e6c6c" transform="rotate(70 308.5 409.4)"/>
<ellipse cx="264.2" cy="392.8" rx="1.3" ry="0.8" fill="#807e7e" transform="rotate(-35 264.2 392.8)"/>
<ellipse cx="282.9" cy="440.5" rx="1.4" ry="0.9" fill="#807e7e" transform="rotate(70 282.9 440.5)"/>
<ellipse cx="282.8" cy="457.4" rx="2.3" ry="1.5" fill="#6e6c6c" transform="rotate(40 282.8 457.4)"/>
<ellipse cx="301.4" cy="460.1" rx="2.2" ry="1.3" fill="#70696a" transform="rotate(70 301.4 460.1)"/>
<ellipse cx="299.7" cy="383.2" rx="2.4" ry="1.4" fill="#444448" transform="rotate(70 299.7 383.2)"/>
<ellipse cx="254.7" cy="445.2" rx="1.0" ry="0.7" fill="#38383c" transform="rotate(70 254.7 445.2)"/>
<ellipse cx="275.2" cy="429.7" rx="1.8" ry="1.0" fill="#5e5e64" transform="rotate(-20 275.2 429.7)"/>
<ellipse cx="262.3" cy="552.4" rx="2.4" ry="1.5" fill="#55555a" transform="rotate(-35 262.3 552.4)"/>
<ellipse cx="286.2" cy="566.0" rx="2.4" ry="1.7" fill="#55555a" transform="rotate(-35 286.2 566.0)"/>
<ellipse cx="289.4" cy="435.1" rx="1.3" ry="1.0" fill="#38383c"/>
<ellipse cx="266.2" cy="525.3" rx="1.8" ry="1.0" fill="#96928e"/>
<ellipse cx="270.4" cy="423.7" rx="1.8" ry="1.2" fill="#807e7e"/>
<ellipse cx="301.9" cy="510.3" rx="1.4" ry="1.0" fill="#c9c5bf"/>
<ellipse cx="292.5" cy="401.3" rx="1.5" ry="1.3" fill="#c9c5bf" transform="rotate(20 292.5 401.3)"/>
<ellipse cx="283.2" cy="463.4" rx="2.3" ry="1.6" fill="#c9c5bf"/>
<ellipse cx="257.1" cy="470.5" rx="1.1" ry="1.0" fill="#6e6c6c" transform="rotate(-35 257.1 470.5)"/>
<ellipse cx="264.9" cy="501.7" rx="1.6" ry="1.0" fill="#c9c5bf" transform="rotate(40 264.9 501.7)"/>
<ellipse cx="289.8" cy="416.1" rx="1.5" ry="1.0" fill="#5e5e64" transform="rotate(-20 289.8 416.1)"/>
<ellipse cx="268.0" cy="503.7" rx="1.9" ry="1.1" fill="#5e5e64"/>
<ellipse cx="269.8" cy="375.0" rx="1.8" ry="1.6" fill="#c9c5bf" transform="rotate(-20 269.8 375.0)"/>
<ellipse cx="254.3" cy="427.7" rx="2.2" ry="1.9" fill="#6e6c6c" transform="rotate(40 254.3 427.7)"/>
<g transform="rotate(3 279.5 364.5)"><ellipse cx="279.5" cy="365.0" rx="17.4" ry="6.4" fill="#0d0d10"/><ellipse cx="279.5" cy="364.5" rx="17.0" ry="6.0" fill="#222228"/><ellipse cx="279.5" cy="364.5" rx="17.0" ry="6.0" fill="url(#shg)"/><ellipse cx="279.5" cy="364.5" rx="17.0" ry="6.0" fill="url(#hlg)" opacity="0.33"/></g>
<g transform="rotate(-20 260.0 373.5)"><ellipse cx="260.0" cy="374.0" rx="5.4" ry="6.4" fill="#352e28"/><ellipse cx="260.0" cy="373.5" rx="5.0" ry="6.0" fill="#857564"/><ellipse cx="260.0" cy="373.5" rx="5.0" ry="6.0" fill="url(#shg)"/><ellipse cx="260.0" cy="373.5" rx="5.0" ry="6.0" fill="url(#hlg)" opacity="0.33"/></g>
<g><ellipse cx="269.5" cy="381.5" rx="4.4" ry="4.9" fill="#1e1e20"/><ellipse cx="269.5" cy="381.0" rx="4.0" ry="4.5" fill="#4c4c50"/><ellipse cx="269.5" cy="381.0" rx="4.0" ry="4.5" fill="url(#shg)"/><ellipse cx="269.5" cy="381.0" rx="4.0" ry="4.5" fill="url(#hlg)" opacity="0.26"/></g>
<g transform="rotate(20 295.0 378.0)"><ellipse cx="295.0" cy="378.5" rx="4.4" ry="5.4" fill="#3e3e3c"/><ellipse cx="295.0" cy="378.0" rx="4.0" ry="5.0" fill="#9c9c98"/><ellipse cx="295.0" cy="378.0" rx="4.0" ry="5.0" fill="url(#shg)"/><ellipse cx="295.0" cy="378.0" rx="4.0" ry="5.0" fill="url(#hlg)" opacity="0.44"/></g>
<g transform="rotate(15 305.0 387.5)"><ellipse cx="305.0" cy="388.0" rx="5.9" ry="4.4" fill="#17181c"/><ellipse cx="305.0" cy="387.5" rx="5.5" ry="4.0" fill="#3a3c46"/><ellipse cx="305.0" cy="387.5" rx="5.5" ry="4.0" fill="url(#shg)"/><ellipse cx="305.0" cy="387.5" rx="5.5" ry="4.0" fill="url(#hlg)" opacity="0.26"/></g>
<g><ellipse cx="254.0" cy="398.5" rx="4.4" ry="5.4" fill="#1c1c1e"/><ellipse cx="254.0" cy="398.0" rx="4.0" ry="5.0" fill="#48484c"/><ellipse cx="254.0" cy="398.0" rx="4.0" ry="5.0" fill="url(#shg)"/><ellipse cx="254.0" cy="398.0" rx="4.0" ry="5.0" fill="url(#hlg)" opacity="0.22"/></g>
<g transform="rotate(-10 286.0 385.0)"><ellipse cx="286.0" cy="385.5" rx="5.4" ry="3.4" fill="#242425"/><ellipse cx="286.0" cy="385.0" rx="5.0" ry="3.0" fill="#5a5a5e"/><ellipse cx="286.0" cy="385.0" rx="5.0" ry="3.0" fill="url(#shg)"/><ellipse cx="286.0" cy="385.0" rx="5.0" ry="3.0" fill="url(#hlg)" opacity="0.22"/></g>
<g transform="rotate(10 300.0 428.0)"><ellipse cx="300.0" cy="428.5" rx="6.4" ry="4.4" fill="#1f1f21"/><ellipse cx="300.0" cy="428.0" rx="6.0" ry="4.0" fill="#4e4e54"/><ellipse cx="300.0" cy="428.0" rx="6.0" ry="4.0" fill="url(#shg)"/><ellipse cx="300.0" cy="428.0" rx="6.0" ry="4.0" fill="url(#hlg)" opacity="0.22"/></g>
<g transform="rotate(-15 262.0 440.0)"><ellipse cx="262.0" cy="440.5" rx="7.4" ry="4.4" fill="#232324"/><ellipse cx="262.0" cy="440.0" rx="7.0" ry="4.0" fill="#58585c"/><ellipse cx="262.0" cy="440.0" rx="7.0" ry="4.0" fill="url(#shg)"/><ellipse cx="262.0" cy="440.0" rx="7.0" ry="4.0" fill="url(#hlg)" opacity="0.22"/></g>
<g transform="rotate(5 296.0 492.0)"><ellipse cx="296.0" cy="492.5" rx="8.4" ry="5.4" fill="#1d1d20"/><ellipse cx="296.0" cy="492.0" rx="8.0" ry="5.0" fill="#4a4a50"/><ellipse cx="296.0" cy="492.0" rx="8.0" ry="5.0" fill="url(#shg)"/><ellipse cx="296.0" cy="492.0" rx="8.0" ry="5.0" fill="url(#hlg)" opacity="0.22"/></g>
<g transform="rotate(-5 281.0 533.0)"><ellipse cx="281.0" cy="533.5" rx="9.4" ry="5.4" fill="#141518"/><ellipse cx="281.0" cy="533.0" rx="9.0" ry="5.0" fill="#34363e"/><ellipse cx="281.0" cy="533.0" rx="9.0" ry="5.0" fill="url(#shg)"/><ellipse cx="281.0" cy="533.0" rx="9.0" ry="5.0" fill="url(#hlg)" opacity="0.22"/></g>
<g transform="rotate(10 292.0 548.0)"><ellipse cx="292.0" cy="548.5" rx="6.4" ry="4.4" fill="#17181b"/><ellipse cx="292.0" cy="548.0" rx="6.0" ry="4.0" fill="#3a3c44"/><ellipse cx="292.0" cy="548.0" rx="6.0" ry="4.0" fill="url(#shg)"/><ellipse cx="292.0" cy="548.0" rx="6.0" ry="4.0" fill="url(#hlg)" opacity="0.22"/></g>
<g transform="rotate(-15 261.3 386.7)"><ellipse cx="261.3" cy="387.2" rx="6.4" ry="4.4" fill="#464038"/><ellipse cx="261.3" cy="386.7" rx="6.0" ry="4.0" fill="#b0a08c"/><ellipse cx="261.3" cy="386.7" rx="6.0" ry="4.0" fill="url(#shg)"/><ellipse cx="261.3" cy="386.7" rx="6.0" ry="4.0" fill="url(#hlg)" opacity="0.77"/></g>
<g transform="rotate(-8 296.7 394.0)"><ellipse cx="296.7" cy="394.5" rx="9.4" ry="5.4" fill="#302720"/><ellipse cx="296.7" cy="394.0" rx="9.0" ry="5.0" fill="#7a6250"/><ellipse cx="296.7" cy="394.0" rx="9.0" ry="5.0" fill="url(#shg)"/><ellipse cx="296.7" cy="394.0" rx="9.0" ry="5.0" fill="url(#hlg)" opacity="0.77"/></g>
<g><ellipse cx="267.6" cy="397.2" rx="6.4" ry="6.4" fill="#302e2c"/><ellipse cx="267.6" cy="396.7" rx="6.0" ry="6.0" fill="#787470"/><ellipse cx="267.6" cy="396.7" rx="6.0" ry="6.0" fill="url(#shg)"/><ellipse cx="267.6" cy="396.7" rx="6.0" ry="6.0" fill="url(#hlg)" opacity="0.44"/></g>
<g transform="rotate(-20 313.0 399.0)"><ellipse cx="313.0" cy="399.5" rx="6.4" ry="4.9" fill="#1c1c1e"/><ellipse cx="313.0" cy="399.0" rx="6.0" ry="4.5" fill="#48484c"/><ellipse cx="313.0" cy="399.0" rx="6.0" ry="4.5" fill="url(#shg)"/><ellipse cx="313.0" cy="399.0" rx="6.0" ry="4.5" fill="url(#hlg)" opacity="0.77"/></g>
<g transform="rotate(5 271.3 414.0)"><ellipse cx="271.3" cy="414.5" rx="10.4" ry="6.4" fill="#343332"/><ellipse cx="271.3" cy="414.0" rx="10.0" ry="6.0" fill="#84807e"/><ellipse cx="271.3" cy="414.0" rx="10.0" ry="6.0" fill="url(#shg)"/><ellipse cx="271.3" cy="414.0" rx="10.0" ry="6.0" fill="url(#hlg)" opacity="0.44"/></g>
<g transform="rotate(15 283.0 406.7)"><ellipse cx="283.0" cy="407.2" rx="4.4" ry="2.4" fill="#585754"/><ellipse cx="283.0" cy="406.7" rx="4.0" ry="2.0" fill="#dedad2"/><ellipse cx="283.0" cy="406.7" rx="4.0" ry="2.0" fill="url(#shg)"/><ellipse cx="283.0" cy="406.7" rx="4.0" ry="2.0" fill="url(#hlg)" opacity="0.77"/></g>
<g transform="rotate(30 298.5 412.0)"><ellipse cx="298.5" cy="412.5" rx="3.4" ry="4.4" fill="#595854"/><ellipse cx="298.5" cy="412.0" rx="3.0" ry="4.0" fill="#e0dcd4"/><ellipse cx="298.5" cy="412.0" rx="3.0" ry="4.0" fill="url(#shg)"/><ellipse cx="298.5" cy="412.0" rx="3.0" ry="4.0" fill="url(#hlg)" opacity="0.77"/></g>
<g><ellipse cx="287.6" cy="449.5" rx="5.4" ry="5.4" fill="#373737"/><ellipse cx="287.6" cy="449.0" rx="5.0" ry="5.0" fill="#8a8a8a"/><ellipse cx="287.6" cy="449.0" rx="5.0" ry="5.0" fill="url(#shg)"/><ellipse cx="287.6" cy="449.0" rx="5.0" ry="5.0" fill="url(#hlg)" opacity="0.77"/></g>
<g><ellipse cx="312.0" cy="457.5" rx="7.4" ry="5.4" fill="#18181a"/><ellipse cx="312.0" cy="457.0" rx="7.0" ry="5.0" fill="#3e3e42"/><ellipse cx="312.0" cy="457.0" rx="7.0" ry="5.0" fill="url(#shg)"/><ellipse cx="312.0" cy="457.0" rx="7.0" ry="5.0" fill="url(#hlg)" opacity="0.77"/></g>
<g><ellipse cx="308.5" cy="476.9" rx="7.4" ry="6.4" fill="#555452"/><ellipse cx="308.5" cy="476.4" rx="7.0" ry="6.0" fill="#d6d2ce"/><ellipse cx="308.5" cy="476.4" rx="7.0" ry="6.0" fill="url(#shg)"/><ellipse cx="308.5" cy="476.4" rx="7.0" ry="6.0" fill="url(#hlg)" opacity="0.77"/></g>
<g><ellipse cx="274.0" cy="479.5" rx="6.4" ry="4.4" fill="#3d3c3c"/><ellipse cx="274.0" cy="479.0" rx="6.0" ry="4.0" fill="#9a9896"/><ellipse cx="274.0" cy="479.0" rx="6.0" ry="4.0" fill="url(#shg)"/><ellipse cx="274.0" cy="479.0" rx="6.0" ry="4.0" fill="url(#hlg)" opacity="0.77"/></g>
<g transform="rotate(-30 257.6 484.0)"><ellipse cx="257.6" cy="484.5" rx="9.4" ry="9.4" fill="#282727"/><ellipse cx="257.6" cy="484.0" rx="9.0" ry="9.0" fill="#646262"/><ellipse cx="257.6" cy="484.0" rx="9.0" ry="9.0" fill="url(#shg)"/><ellipse cx="257.6" cy="484.0" rx="9.0" ry="9.0" fill="url(#hlg)" opacity="0.44"/></g>
<g transform="rotate(-5 265.0 504.0)"><ellipse cx="265.0" cy="504.5" rx="13.4" ry="6.4" fill="#282726"/><ellipse cx="265.0" cy="504.0" rx="13.0" ry="6.0" fill="#666260"/><ellipse cx="265.0" cy="504.0" rx="13.0" ry="6.0" fill="url(#shg)"/><ellipse cx="265.0" cy="504.0" rx="13.0" ry="6.0" fill="url(#hlg)" opacity="0.44"/></g>
<g transform="rotate(-10 285.8 507.0)"><ellipse cx="285.8" cy="507.5" rx="6.4" ry="3.4" fill="#3d3024"/><ellipse cx="285.8" cy="507.0" rx="6.0" ry="3.0" fill="#9a7a5a"/><ellipse cx="285.8" cy="507.0" rx="6.0" ry="3.0" fill="url(#shg)"/><ellipse cx="285.8" cy="507.0" rx="6.0" ry="3.0" fill="url(#hlg)" opacity="0.77"/></g>
<g transform="rotate(-10 299.5 517.0)"><ellipse cx="299.5" cy="517.5" rx="7.4" ry="5.4" fill="#5b5956"/><ellipse cx="299.5" cy="517.0" rx="7.0" ry="5.0" fill="#e4e0d8"/><ellipse cx="299.5" cy="517.0" rx="7.0" ry="5.0" fill="url(#shg)"/><ellipse cx="299.5" cy="517.0" rx="7.0" ry="5.0" fill="url(#hlg)" opacity="0.77"/></g>
<g transform="rotate(10 315.8 524.0)"><ellipse cx="315.8" cy="524.5" rx="10.4" ry="6.4" fill="#302c28"/><ellipse cx="315.8" cy="524.0" rx="10.0" ry="6.0" fill="#7a6e66"/><ellipse cx="315.8" cy="524.0" rx="10.0" ry="6.0" fill="url(#shg)"/><ellipse cx="315.8" cy="524.0" rx="10.0" ry="6.0" fill="url(#hlg)" opacity="0.77"/></g>
<g><ellipse cx="319.5" cy="530.5" rx="6.4" ry="3.9" fill="#141415"/><ellipse cx="319.5" cy="530.0" rx="6.0" ry="3.5" fill="#333336"/><ellipse cx="319.5" cy="530.0" rx="6.0" ry="3.5" fill="url(#shg)"/><ellipse cx="319.5" cy="530.0" rx="6.0" ry="3.5" fill="url(#hlg)" opacity="0.77"/></g>
<g><ellipse cx="259.5" cy="544.5" rx="6.4" ry="8.4" fill="#464039"/><ellipse cx="259.5" cy="544.0" rx="6.0" ry="8.0" fill="#b0a090"/><ellipse cx="259.5" cy="544.0" rx="6.0" ry="8.0" fill="url(#shg)"/><ellipse cx="259.5" cy="544.0" rx="6.0" ry="8.0" fill="url(#hlg)" opacity="0.77"/></g>
<g transform="rotate(20 276.7 555.0)"><ellipse cx="276.7" cy="555.5" rx="8.4" ry="7.4" fill="#403831"/><ellipse cx="276.7" cy="555.0" rx="8.0" ry="7.0" fill="#a08c7c"/><ellipse cx="276.7" cy="555.0" rx="8.0" ry="7.0" fill="url(#shg)"/><ellipse cx="276.7" cy="555.0" rx="8.0" ry="7.0" fill="url(#hlg)" opacity="0.77"/></g>
<g><ellipse cx="306.7" cy="554.5" rx="7.4" ry="6.4" fill="#2f2f30"/><ellipse cx="306.7" cy="554.0" rx="7.0" ry="6.0" fill="#77777a"/><ellipse cx="306.7" cy="554.0" rx="7.0" ry="6.0" fill="url(#shg)"/><ellipse cx="306.7" cy="554.0" rx="7.0" ry="6.0" fill="url(#hlg)" opacity="0.77"/></g>
<g><ellipse cx="268.0" cy="520.5" rx="6.4" ry="3.4" fill="#302820"/><ellipse cx="268.0" cy="520.0" rx="6.0" ry="3.0" fill="#7a6450"/><ellipse cx="268.0" cy="520.0" rx="6.0" ry="3.0" fill="url(#shg)"/><ellipse cx="268.0" cy="520.0" rx="6.0" ry="3.0" fill="url(#hlg)" opacity="0.77"/></g>
<rect x="234" y="346" width="100" height="230" filter="url(#grain2)"/>
</g></g>
<path d="M248.8 361.5 A27.8 16.3 0 0 1 304.4 361.5 L303.8 370.5 L300.4 368.5 L300.2 363.8 A23.5 10.6 0 0 0 253.2 363.8 L253 367.2 L249 366 Z" fill="url(#ring2g)"/>
<path d="M254.5 360 A23.5 10.6 0 0 1 299 360 A24 13.5 0 0 0 254.5 360Z" fill="#6d6d70"/>
<path d="M250.2 356.5 A27.8 16.3 0 0 1 290 346.8 A40 20 0 0 0 252 358.5Z" fill="#d2d2d2" opacity="0.6"/>
<path d="M268 346.3 A27.8 16.3 0 0 1 303.5 357 A36 16 0 0 0 268 348.6Z" fill="#777" opacity="0.35"/>
<path d="M300.2 363.8 L304.4 361.5 L303.8 370.5 L300.4 368.5Z" fill="#5d5e62"/>
<path d="M293 576.6V574.0H325.5V576.6M309.2 574.0v2" stroke="#555" stroke-width="0.5" fill="none"/>
<text x="293" y="580.6" font-size="3.7" fill="#333" text-anchor="middle">0</text>
<text x="309.2" y="580.6" font-size="3.7" fill="#333" text-anchor="middle">25</text>
<text x="327.0" y="580.6" font-size="3.7" fill="#333" text-anchor="middle">50cm</text>
<rect x="236.5" y="587.1" width="95.8" height="227.0" fill="#f0f0f0"/>
<clipPath id="cp3"><path d="M258.4 596.0 L257.4 598.5 L256.2 601.0 L257.3 603.5 L254.6 606.0 L253.1 608.5 L253.1 611.0 L251.9 613.5 L253.4 616.0 L254.1 618.5 L255.5 621.0 L256.2 623.5 L256.0 626.0 L255.1 628.5 L254.6 631.0 L254.8 633.5 L253.9 636.0 L253.7 638.5 L251.3 641.0 L251.0 643.5 L249.7 646.0 L252.3 648.5 L251.8 651.0 L251.7 653.5 L253.1 656.0 L252.2 658.5 L252.4 661.0 L255.3 663.5 L254.3 666.0 L254.4 668.5 L254.6 671.0 L253.3 673.5 L253.2 676.0 L251.0 678.5 L249.9 681.0 L249.5 683.5 L248.7 686.0 L253.2 688.5 L255.0 691.0 L259.7 693.5 L259.5 696.0 L260.4 698.5 L261.3 701.0 L261.0 703.5 L262.3 706.0 L261.3 708.5 L262.9 711.0 L262.0 713.5 L261.5 716.0 L262.5 718.5 L262.8 721.0 L264.4 723.5 L264.8 726.0 L263.0 728.5 L264.1 731.0 L264.9 733.5 L266.3 736.0 L266.8 738.5 L265.9 741.0 L269.4 743.5 L269.2 746.0 L268.4 748.5 L269.5 751.0 L271.3 753.5 L271.5 756.0 L271.2 758.5 L271.6 761.0 L271.5 763.5 L272.8 766.0 L272.5 768.5 L274.1 771.0 L273.1 773.5 L272.1 776.0 L272.3 778.5 L272.8 781.0 L275.4 783.5 L275.5 786.0 L275.1 788.5 L274.6 791.0 L276.3 793.5 L275.7 796.0 L277.6 798.5 L279.8 801.0 L280.3 803.5 L280.9 806.0 L285.4 808.5 L288.9 811.0 L292.8 812.5 L298.0 812.5 L299.2 811.0 L303.6 808.5 L306.7 806.0 L309.8 803.5 L309.3 801.0 L310.4 798.5 L311.0 796.0 L311.6 793.5 L311.9 791.0 L313.2 788.5 L313.7 786.0 L314.6 783.5 L314.1 781.0 L315.8 778.5 L314.9 776.0 L315.7 773.5 L316.6 771.0 L317.6 768.5 L317.3 766.0 L316.8 763.5 L315.7 761.0 L317.5 758.5 L316.1 756.0 L317.2 753.5 L315.3 751.0 L315.1 748.5 L314.4 746.0 L316.0 743.5 L314.2 741.0 L316.0 738.5 L315.5 736.0 L316.3 733.5 L314.6 731.0 L315.8 728.5 L317.6 726.0 L316.9 723.5 L318.7 721.0 L317.8 718.5 L318.6 716.0 L317.7 713.5 L317.5 711.0 L318.6 708.5 L316.9 706.0 L315.8 703.5 L317.6 701.0 L317.5 698.5 L317.9 696.0 L316.5 693.5 L316.7 691.0 L316.2 688.5 L317.5 686.0 L317.1 683.5 L316.8 681.0 L318.1 678.5 L319.9 676.0 L320.1 673.5 L322.1 671.0 L320.7 668.5 L321.7 666.0 L323.2 663.5 L322.0 661.0 L322.7 658.5 L320.9 656.0 L322.4 653.5 L321.8 651.0 L318.7 648.5 L319.2 646.0 L319.9 643.5 L317.2 641.0 L318.6 638.5 L316.8 636.0 L316.9 633.5 L316.1 631.0 L314.7 628.5 L314.4 626.0 L313.9 623.5 L314.1 621.0 L313.7 618.5 L313.1 616.0 L314.2 613.5 L312.9 611.0 L312.3 608.5 L312.6 606.0 L311.2 603.5 L310.2 601.0 L309.9 598.5 L306.9 596.0Z"/></clipPath>
<g clip-path="url(#cp3)"><g filter="url(#soft)">
<rect x="234" y="586" width="100" height="230" fill="#555" filter="url(#tx3)"/>
<ellipse cx="284" cy="605.5" rx="25.5" ry="10.5" fill="#33353d"/>
<ellipse cx="301.9" cy="672.1" rx="2.1" ry="1.7" fill="#33353b" transform="rotate(40 301.9 672.1)"/>
<ellipse cx="308.1" cy="715.9" rx="1.9" ry="1.3" fill="#2a2b30"/>
<ellipse cx="291.8" cy="765.7" rx="2.3" ry="1.6" fill="#3c3e46" transform="rotate(-35 291.8 765.7)"/>
<ellipse cx="265.1" cy="692.6" rx="1.6" ry="1.4" fill="#2a2b30" transform="rotate(70 265.1 692.6)"/>
<ellipse cx="304.9" cy="624.6" rx="2.1" ry="1.6" fill="#2a2b30" transform="rotate(-35 304.9 624.6)"/>
<ellipse cx="274.6" cy="625.1" rx="2.5" ry="2.0" fill="#33353b"/>
<ellipse cx="286.7" cy="687.9" rx="2.4" ry="1.4" fill="#4a4c52" transform="rotate(-20 286.7 687.9)"/>
<ellipse cx="310.4" cy="686.4" rx="2.5" ry="1.6" fill="#3c3e46" transform="rotate(-20 310.4 686.4)"/>
<ellipse cx="305.2" cy="692.6" rx="1.9" ry="1.4" fill="#54565c" transform="rotate(-35 305.2 692.6)"/>
<ellipse cx="305.8" cy="781.2" rx="1.7" ry="0.9" fill="#33353b" transform="rotate(-35 305.8 781.2)"/>
<ellipse cx="292.8" cy="674.1" rx="1.9" ry="1.4" fill="#54565c" transform="rotate(40 292.8 674.1)"/>
<ellipse cx="288.5" cy="778.6" rx="2.0" ry="1.5" fill="#3c3e46" transform="rotate(20 288.5 778.6)"/>
<ellipse cx="282.7" cy="619.2" rx="2.1" ry="1.4" fill="#3c3e46" transform="rotate(40 282.7 619.2)"/>
<ellipse cx="308.1" cy="609.6" rx="2.3" ry="1.5" fill="#33353b" transform="rotate(-35 308.1 609.6)"/>
<ellipse cx="312.6" cy="645.2" rx="1.3" ry="0.8" fill="#3c3e46" transform="rotate(40 312.6 645.2)"/>
<ellipse cx="287.3" cy="696.6" rx="1.5" ry="1.3" fill="#2a2b30" transform="rotate(-35 287.3 696.6)"/>
<ellipse cx="312.3" cy="665.0" rx="1.2" ry="1.0" fill="#54565c"/>
<ellipse cx="281.1" cy="716.9" rx="1.4" ry="1.3" fill="#4a4c52" transform="rotate(70 281.1 716.9)"/>
<ellipse cx="271.0" cy="664.1" rx="1.4" ry="1.3" fill="#54565c" transform="rotate(-35 271.0 664.1)"/>
<ellipse cx="270.4" cy="729.3" rx="2.3" ry="1.8" fill="#4a4c52" transform="rotate(-35 270.4 729.3)"/>
<ellipse cx="261.0" cy="668.8" rx="2.3" ry="2.0" fill="#54565c" transform="rotate(70 261.0 668.8)"/>
<ellipse cx="315.2" cy="776.1" rx="1.4" ry="0.9" fill="#33353b" transform="rotate(40 315.2 776.1)"/>
<ellipse cx="301.0" cy="788.5" rx="1.6" ry="1.2" fill="#4a4c52" transform="rotate(-20 301.0 788.5)"/>
<ellipse cx="253.8" cy="616.1" rx="2.3" ry="2.1" fill="#33353b" transform="rotate(70 253.8 616.1)"/>
<ellipse cx="305.5" cy="682.6" rx="2.0" ry="1.2" fill="#2a2b30" transform="rotate(40 305.5 682.6)"/>
<ellipse cx="279.8" cy="769.6" rx="2.3" ry="1.9" fill="#54565c" transform="rotate(70 279.8 769.6)"/>
<ellipse cx="280.3" cy="735.4" rx="1.8" ry="1.5" fill="#54565c"/>
<ellipse cx="299.3" cy="702.0" rx="1.7" ry="1.1" fill="#54565c" transform="rotate(20 299.3 702.0)"/>
<ellipse cx="282.3" cy="720.0" rx="1.5" ry="1.4" fill="#2a2b30" transform="rotate(40 282.3 720.0)"/>
<ellipse cx="299.3" cy="799.4" rx="1.3" ry="1.2" fill="#2a2b30" transform="rotate(40 299.3 799.4)"/>
<ellipse cx="285.4" cy="803.8" rx="1.7" ry="1.2" fill="#33353b"/>
<ellipse cx="299.4" cy="801.2" rx="1.4" ry="1.0" fill="#33353b" transform="rotate(-35 299.4 801.2)"/>
<ellipse cx="305.7" cy="806.5" rx="2.5" ry="1.9" fill="#3c3e46" transform="rotate(40 305.7 806.5)"/>
<ellipse cx="272.3" cy="744.0" rx="2.2" ry="1.7" fill="#33353b" transform="rotate(-35 272.3 744.0)"/>
<ellipse cx="263.0" cy="621.6" rx="1.5" ry="1.2" fill="#2a2b30" transform="rotate(40 263.0 621.6)"/>
<ellipse cx="307.3" cy="799.3" rx="1.3" ry="1.2" fill="#4a4c52" transform="rotate(20 307.3 799.3)"/>
<ellipse cx="269.6" cy="646.5" rx="1.4" ry="1.1" fill="#33353b" transform="rotate(70 269.6 646.5)"/>
<ellipse cx="304.4" cy="690.7" rx="2.1" ry="1.8" fill="#54565c" transform="rotate(40 304.4 690.7)"/>
<ellipse cx="287.5" cy="790.4" rx="1.4" ry="1.2" fill="#33353b"/>
<ellipse cx="273.0" cy="623.1" rx="1.6" ry="1.5" fill="#3c3e46"/>
<ellipse cx="266.6" cy="631.6" rx="2.0" ry="1.8" fill="#2a2b30"/>
<ellipse cx="315.7" cy="678.7" rx="1.5" ry="1.1" fill="#33353b" transform="rotate(-20 315.7 678.7)"/>
<ellipse cx="267.8" cy="674.3" rx="1.7" ry="1.6" fill="#33353b" transform="rotate(20 267.8 674.3)"/>
<ellipse cx="275.4" cy="610.1" rx="2.2" ry="1.7" fill="#4a4c52" transform="rotate(-20 275.4 610.1)"/>
<ellipse cx="311.6" cy="738.1" rx="1.8" ry="1.1" fill="#33353b" transform="rotate(20 311.6 738.1)"/>
<ellipse cx="271.8" cy="695.7" rx="2.5" ry="1.6" fill="#54565c" transform="rotate(20 271.8 695.7)"/>
<ellipse cx="294.3" cy="726.2" rx="2.0" ry="1.1" fill="#4a4c52"/>
<ellipse cx="282.6" cy="613.9" rx="2.2" ry="1.4" fill="#2a2b30" transform="rotate(70 282.6 613.9)"/>
<ellipse cx="258.7" cy="652.6" rx="2.2" ry="1.6" fill="#3c3e46"/>
<ellipse cx="286.6" cy="609.5" rx="1.4" ry="1.1" fill="#2a2b30"/>
<ellipse cx="292.9" cy="810.0" rx="1.4" ry="1.2" fill="#33353b" transform="rotate(20 292.9 810.0)"/>
<ellipse cx="291.0" cy="810.4" rx="2.5" ry="1.9" fill="#2a2b30" transform="rotate(-20 291.0 810.4)"/>
<ellipse cx="304.2" cy="806.6" rx="1.3" ry="0.7" fill="#2a2b30" transform="rotate(-20 304.2 806.6)"/>
<ellipse cx="281.4" cy="793.9" rx="1.5" ry="1.3" fill="#33353b" transform="rotate(20 281.4 793.9)"/>
<ellipse cx="316.1" cy="672.5" rx="1.4" ry="1.2" fill="#2a2b30"/>
<ellipse cx="299.9" cy="650.3" rx="1.5" ry="1.4" fill="#3c3e46" transform="rotate(20 299.9 650.3)"/>
<ellipse cx="258.8" cy="678.9" rx="1.6" ry="1.5" fill="#2a2b30"/>
<ellipse cx="301.8" cy="753.8" rx="1.4" ry="0.9" fill="#54565c"/>
<ellipse cx="289.3" cy="658.1" rx="2.3" ry="1.7" fill="#54565c" transform="rotate(20 289.3 658.1)"/>
<ellipse cx="281.0" cy="800.8" rx="1.5" ry="0.9" fill="#4a4c52" transform="rotate(70 281.0 800.8)"/>
<ellipse cx="300.1" cy="798.0" rx="1.5" ry="1.4" fill="#54565c"/>
<ellipse cx="308.5" cy="662.4" rx="2.6" ry="1.9" fill="#54565c" transform="rotate(70 308.5 662.4)"/>
<ellipse cx="262.8" cy="703.6" rx="1.4" ry="1.0" fill="#2a2b30" transform="rotate(-20 262.8 703.6)"/>
<ellipse cx="289.9" cy="761.7" rx="1.3" ry="0.8" fill="#33353b" transform="rotate(-20 289.9 761.7)"/>
<ellipse cx="281.0" cy="756.1" rx="1.2" ry="0.8" fill="#3c3e46" transform="rotate(40 281.0 756.1)"/>
<ellipse cx="288.8" cy="738.4" rx="1.5" ry="0.8" fill="#4a4c52"/>
<ellipse cx="310.9" cy="671.4" rx="2.0" ry="1.6" fill="#4a4c52" transform="rotate(40 310.9 671.4)"/>
<ellipse cx="279.1" cy="757.5" rx="1.4" ry="1.1" fill="#54565c" transform="rotate(-20 279.1 757.5)"/>
<ellipse cx="292.0" cy="691.1" rx="1.6" ry="1.4" fill="#3c3e46"/>
<ellipse cx="297.4" cy="743.7" rx="2.4" ry="2.0" fill="#3c3e46" transform="rotate(40 297.4 743.7)"/>
<ellipse cx="313.7" cy="719.0" rx="2.3" ry="2.1" fill="#4a4c52"/>
<ellipse cx="285.1" cy="717.6" rx="2.2" ry="1.5" fill="#2a2b30" transform="rotate(-35 285.1 717.6)"/>
<ellipse cx="285.1" cy="745.7" rx="2.0" ry="1.5" fill="#54565c" transform="rotate(-35 285.1 745.7)"/>
<ellipse cx="249.6" cy="680.3" rx="1.9" ry="1.2" fill="#54565c" transform="rotate(70 249.6 680.3)"/>
<ellipse cx="288.0" cy="734.0" rx="1.3" ry="1.0" fill="#3c3e46"/>
<ellipse cx="313.5" cy="736.0" rx="1.6" ry="1.2" fill="#2a2b30" transform="rotate(20 313.5 736.0)"/>
<ellipse cx="282.9" cy="769.6" rx="2.4" ry="2.1" fill="#4a4c52"/>
<ellipse cx="294.6" cy="791.4" rx="1.8" ry="1.4" fill="#2a2b30" transform="rotate(-20 294.6 791.4)"/>
<ellipse cx="280.2" cy="782.2" rx="1.6" ry="1.3" fill="#54565c" transform="rotate(20 280.2 782.2)"/>
<ellipse cx="299.4" cy="796.4" rx="2.2" ry="1.6" fill="#4a4c52" transform="rotate(-35 299.4 796.4)"/>
<ellipse cx="301.0" cy="794.4" rx="2.3" ry="1.9" fill="#4a4c52" transform="rotate(70 301.0 794.4)"/>
<ellipse cx="279.4" cy="786.8" rx="1.9" ry="1.6" fill="#2a2b30" transform="rotate(70 279.4 786.8)"/>
<ellipse cx="284.8" cy="604.8" rx="1.7" ry="1.5" fill="#54565c" transform="rotate(-35 284.8 604.8)"/>
<ellipse cx="310.2" cy="793.1" rx="2.1" ry="1.2" fill="#33353b"/>
<ellipse cx="272.7" cy="655.1" rx="1.7" ry="1.1" fill="#54565c" transform="rotate(-35 272.7 655.1)"/>
<ellipse cx="283.9" cy="764.3" rx="2.2" ry="1.8" fill="#2a2b30" transform="rotate(-20 283.9 764.3)"/>
<ellipse cx="305.4" cy="784.0" rx="2.3" ry="2.1" fill="#54565c" transform="rotate(20 305.4 784.0)"/>
<ellipse cx="298.7" cy="800.0" rx="1.9" ry="1.3" fill="#4a4c52"/>
<ellipse cx="265.2" cy="604.9" rx="2.3" ry="1.5" fill="#54565c" transform="rotate(70 265.2 604.9)"/>
<ellipse cx="265.4" cy="625.0" rx="1.8" ry="1.3" fill="#33353b"/>
<ellipse cx="299.5" cy="737.3" rx="2.5" ry="1.7" fill="#2a2b30"/>
<ellipse cx="319.4" cy="661.6" rx="2.1" ry="1.9" fill="#2a2b30" transform="rotate(20 319.4 661.6)"/>
<ellipse cx="268.3" cy="623.1" rx="2.6" ry="1.5" fill="#2a2b30" transform="rotate(70 268.3 623.1)"/>
<ellipse cx="272.2" cy="749.5" rx="2.3" ry="1.7" fill="#4a4c52"/>
<ellipse cx="289.5" cy="797.7" rx="1.8" ry="1.3" fill="#4a4c52"/>
<ellipse cx="288.2" cy="803.2" rx="2.4" ry="2.1" fill="#54565c" transform="rotate(-20 288.2 803.2)"/>
<ellipse cx="313.5" cy="645.7" rx="2.3" ry="2.1" fill="#2a2b30"/>
<ellipse cx="285.3" cy="691.0" rx="1.8" ry="1.4" fill="#54565c" transform="rotate(20 285.3 691.0)"/>
<ellipse cx="286.3" cy="724.3" rx="1.2" ry="0.7" fill="#33353b" transform="rotate(70 286.3 724.3)"/>
<ellipse cx="296.2" cy="809.2" rx="1.5" ry="1.4" fill="#54565c" transform="rotate(-35 296.2 809.2)"/>
<ellipse cx="286.2" cy="798.2" rx="2.3" ry="1.3" fill="#2a2b30" transform="rotate(-20 286.2 798.2)"/>
<ellipse cx="311.5" cy="612.9" rx="2.5" ry="1.6" fill="#4a4c52"/>
<ellipse cx="262.7" cy="716.7" rx="1.9" ry="1.5" fill="#33353b" transform="rotate(-20 262.7 716.7)"/>
<ellipse cx="305.1" cy="705.6" rx="1.5" ry="1.4" fill="#33353b" transform="rotate(-35 305.1 705.6)"/>
<ellipse cx="290.8" cy="783.0" rx="1.3" ry="1.0" fill="#33353b"/>
<ellipse cx="285.4" cy="720.9" rx="1.7" ry="1.5" fill="#3c3e46" transform="rotate(40 285.4 720.9)"/>
<ellipse cx="311.1" cy="622.4" rx="2.4" ry="1.8" fill="#54565c" transform="rotate(70 311.1 622.4)"/>
<ellipse cx="321.2" cy="666.9" rx="1.4" ry="0.9" fill="#33353b" transform="rotate(70 321.2 666.9)"/>
<ellipse cx="294.9" cy="783.5" rx="1.8" ry="1.3" fill="#33353b" transform="rotate(20 294.9 783.5)"/>
<ellipse cx="260.5" cy="607.2" rx="1.6" ry="1.0" fill="#3c3e46"/>
<ellipse cx="277.3" cy="696.0" rx="2.1" ry="1.5" fill="#4a4c52" transform="rotate(40 277.3 696.0)"/>
<ellipse cx="292.4" cy="763.8" rx="1.9" ry="1.7" fill="#3c3e46" transform="rotate(-35 292.4 763.8)"/>
<ellipse cx="311.2" cy="679.7" rx="2.6" ry="2.2" fill="#3c3e46" transform="rotate(-35 311.2 679.7)"/>
<ellipse cx="265.8" cy="615.9" rx="1.5" ry="1.2" fill="#54565c" transform="rotate(-35 265.8 615.9)"/>
<ellipse cx="294.7" cy="811.3" rx="1.5" ry="1.0" fill="#54565c" transform="rotate(70 294.7 811.3)"/>
<ellipse cx="288.2" cy="618.0" rx="2.2" ry="1.7" fill="#3c3e46"/>
<ellipse cx="287.9" cy="778.1" rx="1.8" ry="1.1" fill="#3c3e46"/>
<ellipse cx="286.4" cy="783.1" rx="2.5" ry="2.2" fill="#3c3e46"/>
<ellipse cx="263.8" cy="705.6" rx="1.5" ry="1.2" fill="#2a2b30" transform="rotate(40 263.8 705.6)"/>
<ellipse cx="299.2" cy="807.3" rx="1.7" ry="1.2" fill="#3c3e46" transform="rotate(20 299.2 807.3)"/>
<ellipse cx="299.5" cy="654.3" rx="1.8" ry="1.1" fill="#2a2b30"/>
<ellipse cx="298.0" cy="759.6" rx="2.3" ry="1.8" fill="#2a2b30" transform="rotate(20 298.0 759.6)"/>
<ellipse cx="287.2" cy="760.5" rx="2.5" ry="1.7" fill="#3c3e46" transform="rotate(-35 287.2 760.5)"/>
<ellipse cx="311.8" cy="703.3" rx="2.6" ry="2.1" fill="#2a2b30" transform="rotate(40 311.8 703.3)"/>
<ellipse cx="280.9" cy="610.2" rx="2.0" ry="1.4" fill="#2a2b30" transform="rotate(20 280.9 610.2)"/>
<ellipse cx="303.8" cy="674.8" rx="1.3" ry="0.9" fill="#33353b" transform="rotate(-35 303.8 674.8)"/>
<ellipse cx="266.6" cy="677.1" rx="2.2" ry="1.3" fill="#54565c" transform="rotate(40 266.6 677.1)"/>
<ellipse cx="291.6" cy="708.9" rx="1.8" ry="1.3" fill="#4a4c52" transform="rotate(-35 291.6 708.9)"/>
<ellipse cx="312.0" cy="785.0" rx="1.5" ry="1.0" fill="#2a2b30"/>
<ellipse cx="266.2" cy="735.0" rx="1.5" ry="0.8" fill="#2a2b30" transform="rotate(-35 266.2 735.0)"/>
<ellipse cx="299.7" cy="723.5" rx="1.6" ry="1.1" fill="#54565c" transform="rotate(-35 299.7 723.5)"/>
<ellipse cx="273.8" cy="676.8" rx="2.3" ry="2.1" fill="#3c3e46" transform="rotate(-35 273.8 676.8)"/>
<ellipse cx="284.1" cy="666.5" rx="2.3" ry="1.8" fill="#54565c" transform="rotate(40 284.1 666.5)"/>
<ellipse cx="289.4" cy="809.2" rx="1.5" ry="1.2" fill="#33353b" transform="rotate(-35 289.4 809.2)"/>
<ellipse cx="289.8" cy="804.4" rx="1.8" ry="1.3" fill="#33353b" transform="rotate(40 289.8 804.4)"/>
<ellipse cx="276.1" cy="743.5" rx="1.7" ry="1.4" fill="#33353b" transform="rotate(70 276.1 743.5)"/>
<ellipse cx="309.2" cy="787.1" rx="1.5" ry="1.1" fill="#33353b" transform="rotate(-20 309.2 787.1)"/>
<ellipse cx="272.7" cy="752.3" rx="2.2" ry="1.3" fill="#54565c" transform="rotate(40 272.7 752.3)"/>
<ellipse cx="274.3" cy="605.2" rx="2.0" ry="1.7" fill="#3c3e46" transform="rotate(40 274.3 605.2)"/>
<ellipse cx="283.6" cy="713.1" rx="2.3" ry="1.7" fill="#54565c"/>
<ellipse cx="265.1" cy="717.4" rx="1.4" ry="1.2" fill="#2a2b30" transform="rotate(-20 265.1 717.4)"/>
<ellipse cx="282.2" cy="765.3" rx="1.2" ry="0.8" fill="#2a2b30"/>
<ellipse cx="287.2" cy="795.9" rx="1.2" ry="0.8" fill="#3c3e46" transform="rotate(40 287.2 795.9)"/>
<ellipse cx="264.8" cy="636.5" rx="1.4" ry="0.8" fill="#54565c"/>
<ellipse cx="314.7" cy="666.1" rx="2.3" ry="1.8" fill="#3c3e46" transform="rotate(-35 314.7 666.1)"/>
<ellipse cx="281.8" cy="752.2" rx="2.3" ry="1.6" fill="#4a4c52" transform="rotate(-20 281.8 752.2)"/>
<ellipse cx="292.2" cy="694.1" rx="2.6" ry="2.3" fill="#33353b" transform="rotate(20 292.2 694.1)"/>
<ellipse cx="273.1" cy="604.7" rx="1.2" ry="1.1" fill="#54565c" transform="rotate(-20 273.1 604.7)"/>
<ellipse cx="266.8" cy="660.5" rx="2.4" ry="2.1" fill="#3c3e46" transform="rotate(-35 266.8 660.5)"/>
<ellipse cx="314.7" cy="678.7" rx="1.3" ry="1.0" fill="#33353b" transform="rotate(40 314.7 678.7)"/>
<ellipse cx="300.4" cy="810.2" rx="3.0" ry="1.7" fill="#7d6a58" transform="rotate(40 300.4 810.2)"/>
<ellipse cx="295.4" cy="805.9" rx="2.4" ry="1.6" fill="#7f858c" transform="rotate(20 295.4 805.9)"/>
<ellipse cx="316.9" cy="709.6" rx="1.6" ry="1.5" fill="#a8a49e" transform="rotate(70 316.9 709.6)"/>
<ellipse cx="279.0" cy="631.4" rx="2.7" ry="1.6" fill="#6a6c72" transform="rotate(-20 279.0 631.4)"/>
<ellipse cx="293.0" cy="725.4" rx="1.6" ry="1.3" fill="#8a8680" transform="rotate(-20 293.0 725.4)"/>
<ellipse cx="282.5" cy="757.9" rx="2.4" ry="2.2" fill="#99938a" transform="rotate(40 282.5 757.9)"/>
<ellipse cx="315.7" cy="772.2" rx="3.2" ry="2.5" fill="#a8a49e"/>
<ellipse cx="313.0" cy="753.0" rx="2.6" ry="1.7" fill="#c2b49c" transform="rotate(20 313.0 753.0)"/>
<ellipse cx="310.4" cy="637.6" rx="2.4" ry="2.3" fill="#9a8670" transform="rotate(20 310.4 637.6)"/>
<ellipse cx="304.6" cy="639.9" rx="1.9" ry="1.2" fill="#70787a"/>
<ellipse cx="303.6" cy="753.9" rx="2.9" ry="2.3" fill="#cfc8ba"/>
<ellipse cx="300.2" cy="787.9" rx="3.3" ry="2.9" fill="#7f858c" transform="rotate(-35 300.2 787.9)"/>
<ellipse cx="294.1" cy="639.1" rx="2.6" ry="2.4" fill="#a8a49e" transform="rotate(70 294.1 639.1)"/>
<ellipse cx="284.1" cy="719.4" rx="3.0" ry="1.9" fill="#cfc8ba" transform="rotate(-35 284.1 719.4)"/>
<ellipse cx="285.0" cy="639.3" rx="3.2" ry="2.1" fill="#c2b49c" transform="rotate(20 285.0 639.3)"/>
<ellipse cx="300.6" cy="794.5" rx="1.6" ry="1.0" fill="#7d6a58" transform="rotate(-20 300.6 794.5)"/>
<ellipse cx="312.0" cy="661.5" rx="2.8" ry="2.6" fill="#99938a" transform="rotate(-35 312.0 661.5)"/>
<ellipse cx="283.9" cy="733.1" rx="2.8" ry="2.1" fill="#a8a49e" transform="rotate(-20 283.9 733.1)"/>
<ellipse cx="282.4" cy="704.3" rx="2.5" ry="1.4" fill="#a8a49e" transform="rotate(20 282.4 704.3)"/>
<ellipse cx="291.7" cy="808.4" rx="2.1" ry="1.3" fill="#b0a694" transform="rotate(-35 291.7 808.4)"/>
<ellipse cx="282.7" cy="793.9" rx="2.4" ry="1.8" fill="#5a5c64" transform="rotate(-35 282.7 793.9)"/>
<ellipse cx="276.2" cy="719.8" rx="1.8" ry="1.5" fill="#8a8680" transform="rotate(40 276.2 719.8)"/>
<ellipse cx="275.6" cy="783.3" rx="1.8" ry="1.4" fill="#7f858c" transform="rotate(-20 275.6 783.3)"/>
<ellipse cx="302.3" cy="731.4" rx="2.9" ry="2.4" fill="#a8a49e" transform="rotate(20 302.3 731.4)"/>
<ellipse cx="279.3" cy="775.0" rx="1.8" ry="1.0" fill="#a8a49e"/>
<ellipse cx="289.8" cy="785.9" rx="1.7" ry="0.9" fill="#7f858c" transform="rotate(20 289.8 785.9)"/>
<ellipse cx="312.2" cy="727.5" rx="1.6" ry="0.9" fill="#c2b49c"/>
<ellipse cx="260.0" cy="640.5" rx="1.9" ry="1.5" fill="#9a8670"/>
<ellipse cx="287.7" cy="635.8" rx="2.2" ry="1.3" fill="#b0a694" transform="rotate(-35 287.7 635.8)"/>
<ellipse cx="283.0" cy="707.7" rx="2.4" ry="1.3" fill="#b0a694"/>
<ellipse cx="274.5" cy="641.0" rx="1.5" ry="1.4" fill="#b0a694" transform="rotate(70 274.5 641.0)"/>
<ellipse cx="286.4" cy="683.1" rx="3.2" ry="1.9" fill="#b9bcc2" transform="rotate(70 286.4 683.1)"/>
<ellipse cx="287.2" cy="750.1" rx="2.8" ry="2.5" fill="#a8a49e" transform="rotate(20 287.2 750.1)"/>
<ellipse cx="273.7" cy="660.3" rx="2.9" ry="2.5" fill="#cfc8ba" transform="rotate(-35 273.7 660.3)"/>
<ellipse cx="283.2" cy="796.0" rx="2.2" ry="2.0" fill="#5a5c64" transform="rotate(20 283.2 796.0)"/>
<ellipse cx="313.1" cy="623.9" rx="2.8" ry="2.5" fill="#70787a" transform="rotate(40 313.1 623.9)"/>
<ellipse cx="314.1" cy="728.4" rx="3.1" ry="2.4" fill="#c2b49c"/>
<ellipse cx="301.1" cy="777.9" rx="3.2" ry="2.0" fill="#b9bcc2" transform="rotate(-20 301.1 777.9)"/>
<ellipse cx="270.2" cy="719.6" rx="2.9" ry="1.7" fill="#99938a" transform="rotate(40 270.2 719.6)"/>
<ellipse cx="275.7" cy="659.3" rx="2.6" ry="1.6" fill="#8c8f96" transform="rotate(-35 275.7 659.3)"/>
<ellipse cx="314.6" cy="781.7" rx="2.0" ry="1.4" fill="#cfc8ba" transform="rotate(40 314.6 781.7)"/>
<ellipse cx="308.0" cy="640.2" rx="1.9" ry="1.4" fill="#70787a" transform="rotate(-35 308.0 640.2)"/>
<ellipse cx="257.2" cy="600.2" rx="1.5" ry="1.0" fill="#c2b49c" transform="rotate(-20 257.2 600.2)"/>
<ellipse cx="296.6" cy="810.2" rx="1.6" ry="1.4" fill="#7d6a58" transform="rotate(70 296.6 810.2)"/>
<ellipse cx="301.3" cy="702.1" rx="3.0" ry="2.8" fill="#b9bcc2" transform="rotate(20 301.3 702.1)"/>
<ellipse cx="280.9" cy="667.4" rx="2.1" ry="1.7" fill="#8c8f96" transform="rotate(40 280.9 667.4)"/>
<ellipse cx="275.8" cy="745.3" rx="2.9" ry="2.7" fill="#7d6a58"/>
<ellipse cx="272.6" cy="730.7" rx="1.6" ry="1.1" fill="#9a8670" transform="rotate(40 272.6 730.7)"/>
<ellipse cx="297.1" cy="754.9" rx="2.7" ry="2.5" fill="#a8a49e" transform="rotate(20 297.1 754.9)"/>
<ellipse cx="256.5" cy="620.9" rx="2.3" ry="2.0" fill="#99938a" transform="rotate(20 256.5 620.9)"/>
<ellipse cx="309.9" cy="716.1" rx="2.2" ry="1.3" fill="#99938a" transform="rotate(-35 309.9 716.1)"/>
<ellipse cx="269.0" cy="605.4" rx="1.6" ry="1.0" fill="#8a8680"/>
<ellipse cx="269.2" cy="712.7" rx="2.6" ry="2.3" fill="#70787a"/>
<ellipse cx="294.6" cy="679.0" rx="2.2" ry="1.6" fill="#99938a" transform="rotate(40 294.6 679.0)"/>
<ellipse cx="255.7" cy="651.1" rx="2.5" ry="1.7" fill="#8c8f96" transform="rotate(70 255.7 651.1)"/>
<ellipse cx="282.8" cy="660.6" rx="1.9" ry="1.4" fill="#7f858c" transform="rotate(20 282.8 660.6)"/>
<ellipse cx="312.0" cy="702.2" rx="1.8" ry="1.2" fill="#6a6c72"/>
<ellipse cx="277.2" cy="676.2" rx="1.7" ry="1.6" fill="#cfc8ba" transform="rotate(20 277.2 676.2)"/>
<ellipse cx="289.0" cy="615.6" rx="2.3" ry="1.5" fill="#99938a" transform="rotate(-20 289.0 615.6)"/>
<ellipse cx="300.5" cy="797.0" rx="3.0" ry="1.8" fill="#8a8680"/>
<ellipse cx="294.4" cy="748.7" rx="3.2" ry="3.0" fill="#8c8f96"/>
<ellipse cx="268.5" cy="720.6" rx="1.9" ry="1.2" fill="#99938a" transform="rotate(20 268.5 720.6)"/>
<ellipse cx="280.2" cy="665.9" rx="3.1" ry="2.6" fill="#a8a49e"/>
<ellipse cx="267.9" cy="702.4" rx="1.7" ry="1.6" fill="#cfc8ba" transform="rotate(-35 267.9 702.4)"/>
<ellipse cx="292.9" cy="613.7" rx="1.9" ry="1.4" fill="#b0a694"/>
<ellipse cx="256.8" cy="659.6" rx="2.8" ry="2.0" fill="#8a8680"/>
<ellipse cx="316.7" cy="717.2" rx="2.1" ry="1.5" fill="#5a5c64" transform="rotate(70 316.7 717.2)"/>
<ellipse cx="254.7" cy="643.8" rx="2.6" ry="1.9" fill="#c2b49c" transform="rotate(20 254.7 643.8)"/>
<ellipse cx="283.8" cy="794.4" rx="2.7" ry="1.5" fill="#9a8670" transform="rotate(-20 283.8 794.4)"/>
<ellipse cx="280.7" cy="731.0" rx="2.8" ry="2.6" fill="#5a5c64"/>
<ellipse cx="283.2" cy="773.1" rx="3.0" ry="2.3" fill="#6a6c72" transform="rotate(70 283.2 773.1)"/>
<ellipse cx="265.3" cy="660.1" rx="2.4" ry="2.2" fill="#b0a694" transform="rotate(-35 265.3 660.1)"/>
<ellipse cx="269.7" cy="655.7" rx="2.7" ry="2.4" fill="#cfc8ba"/>
<ellipse cx="266.4" cy="698.3" rx="1.7" ry="1.0" fill="#7f858c" transform="rotate(-20 266.4 698.3)"/>
<ellipse cx="297.2" cy="705.2" rx="2.2" ry="1.5" fill="#9a8670"/>
<ellipse cx="296.9" cy="806.6" rx="1.7" ry="1.4" fill="#b0a694" transform="rotate(40 296.9 806.6)"/>
<ellipse cx="303.9" cy="730.0" rx="2.6" ry="2.3" fill="#b9bcc2" transform="rotate(-20 303.9 730.0)"/>
<ellipse cx="318.8" cy="650.1" rx="3.1" ry="2.7" fill="#8a8680" transform="rotate(-35 318.8 650.1)"/>
<ellipse cx="284.4" cy="653.1" rx="2.5" ry="1.6" fill="#cfc8ba" transform="rotate(-35 284.4 653.1)"/>
<ellipse cx="272.6" cy="632.6" rx="2.7" ry="1.5" fill="#b9bcc2" transform="rotate(20 272.6 632.6)"/>
<ellipse cx="316.7" cy="720.6" rx="1.8" ry="1.7" fill="#b0a694" transform="rotate(-20 316.7 720.6)"/>
<ellipse cx="299.9" cy="734.9" rx="3.3" ry="2.5" fill="#99938a"/>
<ellipse cx="305.3" cy="713.2" rx="2.4" ry="1.4" fill="#8a8680" transform="rotate(20 305.3 713.2)"/>
<ellipse cx="313.3" cy="748.3" rx="2.9" ry="2.7" fill="#5a5c64" transform="rotate(20 313.3 748.3)"/>
<ellipse cx="287.0" cy="664.8" rx="1.9" ry="1.5" fill="#5a5c64" transform="rotate(20 287.0 664.8)"/>
<ellipse cx="261.5" cy="705.3" rx="2.3" ry="1.3" fill="#cfc8ba" transform="rotate(40 261.5 705.3)"/>
<ellipse cx="276.1" cy="717.5" rx="2.3" ry="1.7" fill="#70787a"/>
<ellipse cx="286.0" cy="709.4" rx="2.0" ry="1.2" fill="#b0a694" transform="rotate(70 286.0 709.4)"/>
<ellipse cx="297.6" cy="784.0" rx="1.7" ry="1.5" fill="#8a8680"/>
<ellipse cx="268.1" cy="718.1" rx="1.7" ry="1.2" fill="#9a8670" transform="rotate(20 268.1 718.1)"/>
<ellipse cx="295.7" cy="810.3" rx="3.1" ry="2.9" fill="#5a5c64" transform="rotate(-20 295.7 810.3)"/>
<ellipse cx="288.8" cy="736.9" rx="2.9" ry="2.4" fill="#9a8670" transform="rotate(40 288.8 736.9)"/>
<ellipse cx="285.0" cy="712.4" rx="2.4" ry="2.0" fill="#cfc8ba" transform="rotate(40 285.0 712.4)"/>
<ellipse cx="306.7" cy="720.8" rx="3.0" ry="1.8" fill="#9a8670" transform="rotate(-35 306.7 720.8)"/>
<ellipse cx="263.0" cy="610.0" rx="3.2" ry="2.2" fill="#8c8f96"/>
<ellipse cx="292.0" cy="698.7" rx="2.0" ry="1.7" fill="#70787a"/>
<ellipse cx="307.3" cy="779.3" rx="1.5" ry="1.2" fill="#8a8680"/>
<ellipse cx="267.8" cy="614.7" rx="2.9" ry="2.3" fill="#99938a"/>
<ellipse cx="285.4" cy="687.6" rx="1.9" ry="1.4" fill="#c2b49c"/>
<ellipse cx="272.9" cy="743.2" rx="1.7" ry="1.1" fill="#6a6c72" transform="rotate(40 272.9 743.2)"/>
<ellipse cx="263.6" cy="723.3" rx="3.3" ry="2.9" fill="#b9bcc2" transform="rotate(-35 263.6 723.3)"/>
<ellipse cx="305.8" cy="633.7" rx="3.3" ry="2.0" fill="#5a5c64" transform="rotate(70 305.8 633.7)"/>
<ellipse cx="313.4" cy="773.4" rx="1.9" ry="1.1" fill="#9a8670" transform="rotate(-20 313.4 773.4)"/>
<ellipse cx="313.1" cy="649.0" rx="3.1" ry="2.3" fill="#9a8670" transform="rotate(20 313.1 649.0)"/>
<ellipse cx="270.5" cy="619.3" rx="3.0" ry="2.3" fill="#70787a" transform="rotate(-20 270.5 619.3)"/>
<ellipse cx="280.6" cy="803.6" rx="2.9" ry="2.5" fill="#6a6c72" transform="rotate(-35 280.6 803.6)"/>
<ellipse cx="305.8" cy="801.7" rx="3.2" ry="2.7" fill="#9a8670"/>
<ellipse cx="293.2" cy="711.5" rx="3.2" ry="2.4" fill="#b9bcc2" transform="rotate(-35 293.2 711.5)"/>
<ellipse cx="305.1" cy="799.8" rx="1.6" ry="1.1" fill="#70787a"/>
<ellipse cx="263.3" cy="666.0" rx="2.6" ry="2.3" fill="#b9bcc2" transform="rotate(20 263.3 666.0)"/>
<ellipse cx="260.3" cy="637.4" rx="1.5" ry="1.3" fill="#7d6a58"/>
<ellipse cx="307.0" cy="753.5" rx="1.7" ry="1.0" fill="#70787a" transform="rotate(-20 307.0 753.5)"/>
<ellipse cx="304.8" cy="763.0" rx="2.0" ry="1.5" fill="#70787a"/>
<ellipse cx="305.2" cy="700.0" rx="2.0" ry="1.7" fill="#c2b49c" transform="rotate(40 305.2 700.0)"/>
<ellipse cx="289.1" cy="672.8" rx="1.7" ry="1.5" fill="#70787a"/>
<ellipse cx="284.6" cy="797.1" rx="2.3" ry="2.1" fill="#8a8680" transform="rotate(70 284.6 797.1)"/>
<ellipse cx="280.8" cy="724.5" rx="1.7" ry="1.2" fill="#5a5c64" transform="rotate(40 280.8 724.5)"/>
<ellipse cx="272.2" cy="607.1" rx="3.1" ry="2.7" fill="#b9bcc2"/>
<ellipse cx="307.4" cy="726.2" rx="1.6" ry="1.1" fill="#cfc8ba" transform="rotate(40 307.4 726.2)"/>
<ellipse cx="268.7" cy="672.2" rx="1.6" ry="0.9" fill="#b9bcc2" transform="rotate(20 268.7 672.2)"/>
<ellipse cx="284.6" cy="715.8" rx="2.5" ry="1.7" fill="#a8a49e" transform="rotate(-20 284.6 715.8)"/>
<ellipse cx="283.7" cy="743.0" rx="2.4" ry="1.7" fill="#c2b49c" transform="rotate(40 283.7 743.0)"/>
<ellipse cx="270.7" cy="611.0" rx="2.0" ry="1.2" fill="#a8a49e" transform="rotate(70 270.7 611.0)"/>
<ellipse cx="261.4" cy="701.9" rx="3.1" ry="2.1" fill="#8c8f96" transform="rotate(40 261.4 701.9)"/>
<ellipse cx="263.2" cy="711.4" rx="1.7" ry="1.5" fill="#6a6c72" transform="rotate(-35 263.2 711.4)"/>
<ellipse cx="280.2" cy="704.6" rx="2.9" ry="2.1" fill="#5a5c64" transform="rotate(70 280.2 704.6)"/>
<ellipse cx="306.0" cy="747.9" rx="1.8" ry="1.2" fill="#6a6c72" transform="rotate(40 306.0 747.9)"/>
<ellipse cx="295.2" cy="777.3" rx="3.3" ry="3.0" fill="#7f858c" transform="rotate(70 295.2 777.3)"/>
<ellipse cx="296.1" cy="775.2" rx="2.5" ry="2.3" fill="#b0a694" transform="rotate(-20 296.1 775.2)"/>
<ellipse cx="256.8" cy="628.1" rx="2.5" ry="2.3" fill="#c2b49c"/>
<ellipse cx="304.3" cy="790.1" rx="1.7" ry="1.4" fill="#7f858c" transform="rotate(-20 304.3 790.1)"/>
<ellipse cx="269.0" cy="601.5" rx="2.8" ry="2.5" fill="#5a5c64" transform="rotate(70 269.0 601.5)"/>
<ellipse cx="258.9" cy="658.3" rx="2.8" ry="2.3" fill="#a8a49e" transform="rotate(40 258.9 658.3)"/>
<ellipse cx="295.0" cy="798.2" rx="1.6" ry="1.2" fill="#70787a"/>
<ellipse cx="307.0" cy="622.1" rx="3.2" ry="1.9" fill="#8c8f96"/>
<ellipse cx="299.6" cy="658.0" rx="1.7" ry="1.2" fill="#b9bcc2" transform="rotate(40 299.6 658.0)"/>
<ellipse cx="284.8" cy="700.2" rx="2.6" ry="2.4" fill="#cfc8ba" transform="rotate(70 284.8 700.2)"/>
<ellipse cx="282.8" cy="775.7" rx="1.9" ry="1.4" fill="#99938a" transform="rotate(-20 282.8 775.7)"/>
<ellipse cx="282.3" cy="728.5" rx="3.3" ry="2.2" fill="#a8a49e"/>
<ellipse cx="266.1" cy="619.2" rx="2.8" ry="2.5" fill="#a8a49e" transform="rotate(-35 266.1 619.2)"/>
<ellipse cx="268.4" cy="650.2" rx="2.9" ry="2.7" fill="#c2b49c" transform="rotate(40 268.4 650.2)"/>
<ellipse cx="311.6" cy="621.7" rx="3.2" ry="2.7" fill="#8c8f96"/>
<ellipse cx="306.1" cy="758.3" rx="2.4" ry="1.6" fill="#6a6c72" transform="rotate(40 306.1 758.3)"/>
<ellipse cx="282.4" cy="740.4" rx="2.7" ry="1.6" fill="#7d6a58"/>
<ellipse cx="316.9" cy="648.0" rx="3.2" ry="3.0" fill="#7f858c" transform="rotate(-20 316.9 648.0)"/>
<ellipse cx="307.9" cy="779.9" rx="2.5" ry="1.5" fill="#cfc8ba" transform="rotate(70 307.9 779.9)"/>
<ellipse cx="274.3" cy="757.7" rx="2.2" ry="1.7" fill="#5a5c64" transform="rotate(-20 274.3 757.7)"/>
<ellipse cx="288.1" cy="610.1" rx="2.7" ry="2.4" fill="#7d6a58" transform="rotate(-35 288.1 610.1)"/>
<ellipse cx="283.5" cy="667.2" rx="1.6" ry="1.5" fill="#5a5c64" transform="rotate(-20 283.5 667.2)"/>
<ellipse cx="307.5" cy="753.4" rx="2.3" ry="1.5" fill="#8c8f96" transform="rotate(-20 307.5 753.4)"/>
<ellipse cx="294.1" cy="744.3" rx="1.7" ry="0.9" fill="#b9bcc2"/>
<ellipse cx="279.0" cy="777.1" rx="3.2" ry="2.8" fill="#b0a694"/>
<ellipse cx="269.0" cy="743.5" rx="3.1" ry="2.4" fill="#cfc8ba" transform="rotate(20 269.0 743.5)"/>
<ellipse cx="282.5" cy="730.1" rx="2.1" ry="1.2" fill="#99938a"/>
<ellipse cx="296.6" cy="780.1" rx="1.6" ry="1.2" fill="#8c8f96" transform="rotate(70 296.6 780.1)"/>
<ellipse cx="308.2" cy="615.6" rx="3.0" ry="2.2" fill="#5a5c64"/>
<ellipse cx="295.6" cy="727.5" rx="1.8" ry="1.6" fill="#70787a" transform="rotate(20 295.6 727.5)"/>
<ellipse cx="291.2" cy="613.2" rx="2.1" ry="1.6" fill="#8c8f96" transform="rotate(40 291.2 613.2)"/>
<ellipse cx="254.5" cy="642.0" rx="2.6" ry="1.6" fill="#99938a" transform="rotate(-20 254.5 642.0)"/>
<ellipse cx="295.6" cy="750.2" rx="3.2" ry="1.8" fill="#b0a694" transform="rotate(-20 295.6 750.2)"/>
<ellipse cx="258.2" cy="667.1" rx="3.1" ry="2.4" fill="#cfc8ba" transform="rotate(-20 258.2 667.1)"/>
<ellipse cx="275.8" cy="757.7" rx="2.4" ry="1.7" fill="#a8a49e" transform="rotate(20 275.8 757.7)"/>
<ellipse cx="299.1" cy="731.8" rx="2.5" ry="1.7" fill="#70787a"/>
<ellipse cx="285.0" cy="711.0" rx="2.7" ry="1.9" fill="#7f858c" transform="rotate(40 285.0 711.0)"/>
<ellipse cx="300.2" cy="729.6" rx="2.1" ry="1.5" fill="#c2b49c" transform="rotate(70 300.2 729.6)"/>
<ellipse cx="307.8" cy="764.5" rx="3.3" ry="2.0" fill="#c2b49c" transform="rotate(-35 307.8 764.5)"/>
<ellipse cx="273.4" cy="680.0" rx="1.9" ry="1.1" fill="#7f858c" transform="rotate(40 273.4 680.0)"/>
<ellipse cx="279.3" cy="764.4" rx="2.5" ry="2.0" fill="#b0a694" transform="rotate(-20 279.3 764.4)"/>
<ellipse cx="313.6" cy="628.5" rx="2.4" ry="1.6" fill="#8c8f96" transform="rotate(-20 313.6 628.5)"/>
<ellipse cx="304.6" cy="774.3" rx="1.5" ry="0.9" fill="#9a8670" transform="rotate(20 304.6 774.3)"/>
<ellipse cx="283.8" cy="696.2" rx="3.0" ry="2.8" fill="#6a6c72"/>
<ellipse cx="310.8" cy="788.5" rx="2.0" ry="1.7" fill="#8a8680" transform="rotate(40 310.8 788.5)"/>
<ellipse cx="267.5" cy="723.3" rx="1.7" ry="1.6" fill="#9a8670"/>
<ellipse cx="294.8" cy="752.0" rx="1.5" ry="1.3" fill="#a8a49e" transform="rotate(70 294.8 752.0)"/>
<ellipse cx="306.9" cy="788.0" rx="2.4" ry="1.7" fill="#a8a49e" transform="rotate(-20 306.9 788.0)"/>
<ellipse cx="271.4" cy="748.4" rx="2.4" ry="2.3" fill="#99938a"/>
<ellipse cx="265.5" cy="669.6" rx="2.2" ry="1.9" fill="#7f858c" transform="rotate(40 265.5 669.6)"/>
<ellipse cx="286.9" cy="626.7" rx="3.0" ry="2.7" fill="#cfc8ba" transform="rotate(20 286.9 626.7)"/>
<ellipse cx="304.9" cy="674.1" rx="2.2" ry="1.4" fill="#a8a49e"/>
<ellipse cx="301.1" cy="804.3" rx="3.3" ry="2.6" fill="#a8a49e" transform="rotate(-20 301.1 804.3)"/>
<ellipse cx="257.5" cy="634.6" rx="2.6" ry="2.1" fill="#c2b49c" transform="rotate(20 257.5 634.6)"/>
<ellipse cx="266.8" cy="649.5" rx="1.8" ry="1.0" fill="#8c8f96" transform="rotate(40 266.8 649.5)"/>
<ellipse cx="276.7" cy="689.0" rx="3.2" ry="2.2" fill="#7f858c"/>
<ellipse cx="267.8" cy="712.9" rx="1.6" ry="1.2" fill="#7f858c" transform="rotate(40 267.8 712.9)"/>
<ellipse cx="295.0" cy="610.7" rx="1.9" ry="1.6" fill="#7f858c" transform="rotate(70 295.0 610.7)"/>
<ellipse cx="282.2" cy="754.2" rx="1.8" ry="1.7" fill="#8a8680"/>
<ellipse cx="265.2" cy="714.7" rx="2.2" ry="2.0" fill="#8a8680"/>
<ellipse cx="256.7" cy="662.6" rx="3.1" ry="2.1" fill="#8a8680" transform="rotate(70 256.7 662.6)"/>
<ellipse cx="266.6" cy="675.5" rx="2.3" ry="1.8" fill="#99938a"/>
<ellipse cx="285.7" cy="620.4" rx="1.6" ry="1.2" fill="#5a5c64" transform="rotate(-35 285.7 620.4)"/>
<ellipse cx="309.7" cy="655.6" rx="1.9" ry="1.4" fill="#5a5c64" transform="rotate(20 309.7 655.6)"/>
<ellipse cx="286.6" cy="600.8" rx="2.5" ry="2.1" fill="#9a8670" transform="rotate(-35 286.6 600.8)"/>
<ellipse cx="315.9" cy="703.0" rx="1.7" ry="1.5" fill="#7d6a58" transform="rotate(40 315.9 703.0)"/>
<ellipse cx="294.5" cy="809.5" rx="2.1" ry="1.9" fill="#6a6c72"/>
<ellipse cx="290.8" cy="610.9" rx="2.3" ry="2.0" fill="#7d6a58"/>
<ellipse cx="279.2" cy="613.3" rx="2.5" ry="2.4" fill="#7d6a58"/>
<ellipse cx="279.7" cy="699.8" rx="3.0" ry="2.7" fill="#b9bcc2"/>
<ellipse cx="279.9" cy="802.9" rx="2.0" ry="1.1" fill="#c2b49c" transform="rotate(-35 279.9 802.9)"/>
<ellipse cx="313.0" cy="792.0" rx="2.6" ry="2.0" fill="#8c8f96"/>
<ellipse cx="285.0" cy="684.8" rx="2.6" ry="1.6" fill="#5a5c64" transform="rotate(-35 285.0 684.8)"/>
<ellipse cx="312.2" cy="703.5" rx="3.0" ry="2.6" fill="#5a5c64" transform="rotate(70 312.2 703.5)"/>
<ellipse cx="274.5" cy="645.8" rx="1.6" ry="1.4" fill="#8c8f96" transform="rotate(-20 274.5 645.8)"/>
<ellipse cx="290.4" cy="809.1" rx="2.3" ry="2.0" fill="#c2b49c" transform="rotate(70 290.4 809.1)"/>
<ellipse cx="302.9" cy="640.8" rx="3.1" ry="2.1" fill="#6a6c72"/>
<ellipse cx="300.8" cy="809.4" rx="2.5" ry="2.0" fill="#6a6c72" transform="rotate(40 300.8 809.4)"/>
<ellipse cx="282.5" cy="713.4" rx="3.3" ry="2.8" fill="#8c8f96" transform="rotate(70 282.5 713.4)"/>
<ellipse cx="257.3" cy="644.2" rx="2.2" ry="1.6" fill="#5a5c64"/>
<ellipse cx="282.3" cy="800.8" rx="2.6" ry="2.3" fill="#99938a" transform="rotate(-20 282.3 800.8)"/>
<ellipse cx="277.0" cy="752.8" rx="2.4" ry="2.0" fill="#8a8680"/>
<ellipse cx="259.7" cy="622.4" rx="1.6" ry="1.2" fill="#99938a"/>
<ellipse cx="312.5" cy="774.2" rx="2.6" ry="2.4" fill="#b0a694" transform="rotate(-35 312.5 774.2)"/>
<ellipse cx="263.7" cy="715.5" rx="2.1" ry="1.3" fill="#cfc8ba"/>
<ellipse cx="277.6" cy="725.3" rx="1.6" ry="1.2" fill="#b9bcc2" transform="rotate(70 277.6 725.3)"/>
<ellipse cx="284.0" cy="797.3" rx="1.9" ry="1.0" fill="#a8a49e"/>
<ellipse cx="310.6" cy="771.2" rx="1.8" ry="1.0" fill="#b0a694" transform="rotate(20 310.6 771.2)"/>
<ellipse cx="294.4" cy="652.3" rx="3.1" ry="2.7" fill="#c2b49c" transform="rotate(-35 294.4 652.3)"/>
<ellipse cx="279.2" cy="728.6" rx="2.9" ry="1.9" fill="#7f858c" transform="rotate(70 279.2 728.6)"/>
<ellipse cx="310.2" cy="743.8" rx="2.1" ry="2.0" fill="#b0a694"/>
<ellipse cx="297.2" cy="654.5" rx="2.1" ry="1.2" fill="#a8a49e" transform="rotate(40 297.2 654.5)"/>
<ellipse cx="276.7" cy="729.4" rx="1.7" ry="1.4" fill="#9a8670" transform="rotate(70 276.7 729.4)"/>
<ellipse cx="270.6" cy="699.1" rx="3.1" ry="1.7" fill="#99938a" transform="rotate(70 270.6 699.1)"/>
<ellipse cx="278.8" cy="753.8" rx="2.5" ry="1.6" fill="#7d6a58" transform="rotate(40 278.8 753.8)"/>
<ellipse cx="269.5" cy="730.8" rx="2.6" ry="1.7" fill="#99938a" transform="rotate(-20 269.5 730.8)"/>
<ellipse cx="303.5" cy="783.2" rx="1.9" ry="1.1" fill="#70787a"/>
<ellipse cx="307.9" cy="692.0" rx="2.5" ry="1.9" fill="#b0a694" transform="rotate(70 307.9 692.0)"/>
<ellipse cx="300.2" cy="717.2" rx="2.5" ry="1.9" fill="#7d6a58" transform="rotate(20 300.2 717.2)"/>
<ellipse cx="282.5" cy="626.2" rx="3.1" ry="2.9" fill="#c2b49c"/>
<ellipse cx="291.9" cy="721.8" rx="2.3" ry="1.4" fill="#5a5c64" transform="rotate(40 291.9 721.8)"/>
<ellipse cx="266.7" cy="618.1" rx="2.0" ry="1.3" fill="#7d6a58" transform="rotate(-35 266.7 618.1)"/>
<ellipse cx="284.2" cy="616.9" rx="1.8" ry="1.5" fill="#b0a694" transform="rotate(70 284.2 616.9)"/>
<ellipse cx="288.8" cy="732.4" rx="2.6" ry="1.7" fill="#8c8f96" transform="rotate(40 288.8 732.4)"/>
<ellipse cx="279.0" cy="746.0" rx="2.8" ry="2.2" fill="#c2b49c" transform="rotate(40 279.0 746.0)"/>
<ellipse cx="305.2" cy="657.1" rx="1.9" ry="1.3" fill="#5a5c64" transform="rotate(-20 305.2 657.1)"/>
<ellipse cx="311.1" cy="704.5" rx="2.5" ry="1.7" fill="#9a8670" transform="rotate(40 311.1 704.5)"/>
<ellipse cx="317.0" cy="705.0" rx="2.6" ry="1.8" fill="#8a8680"/>
<ellipse cx="289.2" cy="603.7" rx="2.8" ry="2.2" fill="#5a5c64" transform="rotate(70 289.2 603.7)"/>
<ellipse cx="301.8" cy="692.5" rx="2.6" ry="2.1" fill="#6a6c72" transform="rotate(20 301.8 692.5)"/>
<ellipse cx="294.0" cy="741.4" rx="1.7" ry="1.4" fill="#cfc8ba"/>
<ellipse cx="315.2" cy="690.7" rx="2.4" ry="1.5" fill="#6a6c72" transform="rotate(40 315.2 690.7)"/>
<ellipse cx="264.0" cy="675.9" rx="3.1" ry="1.9" fill="#cfc8ba"/>
<ellipse cx="286.6" cy="636.1" rx="3.3" ry="1.9" fill="#7f858c" transform="rotate(-20 286.6 636.1)"/>
<ellipse cx="309.4" cy="601.3" rx="3.1" ry="2.3" fill="#99938a" transform="rotate(70 309.4 601.3)"/>
<ellipse cx="268.8" cy="697.5" rx="2.1" ry="1.6" fill="#7f858c" transform="rotate(70 268.8 697.5)"/>
<ellipse cx="287.5" cy="624.2" rx="2.3" ry="1.8" fill="#5a5c64" transform="rotate(40 287.5 624.2)"/>
<ellipse cx="281.0" cy="727.1" rx="3.2" ry="2.5" fill="#c2b49c" transform="rotate(20 281.0 727.1)"/>
<ellipse cx="310.6" cy="716.1" rx="1.6" ry="1.3" fill="#8c8f96" transform="rotate(20 310.6 716.1)"/>
<ellipse cx="264.6" cy="661.1" rx="1.9" ry="1.4" fill="#b9bcc2" transform="rotate(20 264.6 661.1)"/>
<ellipse cx="278.2" cy="727.5" rx="2.6" ry="1.9" fill="#5a5c64" transform="rotate(70 278.2 727.5)"/>
<ellipse cx="293.0" cy="637.5" rx="2.7" ry="2.3" fill="#70787a" transform="rotate(20 293.0 637.5)"/>
<ellipse cx="316.2" cy="692.1" rx="2.4" ry="2.3" fill="#b0a694" transform="rotate(70 316.2 692.1)"/>
<ellipse cx="283.8" cy="732.0" rx="3.3" ry="2.3" fill="#b9bcc2" transform="rotate(40 283.8 732.0)"/>
<ellipse cx="310.8" cy="630.6" rx="2.3" ry="1.5" fill="#9a8670" transform="rotate(-35 310.8 630.6)"/>
<ellipse cx="275.8" cy="641.2" rx="1.7" ry="1.3" fill="#7f858c" transform="rotate(70 275.8 641.2)"/>
<ellipse cx="311.7" cy="792.5" rx="2.9" ry="2.7" fill="#8a8680" transform="rotate(70 311.7 792.5)"/>
<ellipse cx="314.8" cy="697.8" rx="2.1" ry="1.7" fill="#b9bcc2" transform="rotate(20 314.8 697.8)"/>
<ellipse cx="306.8" cy="700.5" rx="2.6" ry="2.2" fill="#7d6a58" transform="rotate(40 306.8 700.5)"/>
<ellipse cx="257.3" cy="622.6" rx="2.6" ry="1.9" fill="#70787a" transform="rotate(-20 257.3 622.6)"/>
<ellipse cx="289.7" cy="752.8" rx="2.3" ry="1.5" fill="#9a8670" transform="rotate(-20 289.7 752.8)"/>
<ellipse cx="293.6" cy="759.6" rx="1.9" ry="1.1" fill="#b0a694"/>
<ellipse cx="272.5" cy="611.6" rx="2.2" ry="1.3" fill="#a8a49e" transform="rotate(-35 272.5 611.6)"/>
<ellipse cx="286.0" cy="797.5" rx="2.1" ry="1.2" fill="#1f2126" transform="rotate(-20 286.0 797.5)"/>
<ellipse cx="288.6" cy="696.5" rx="1.2" ry="0.7" fill="#34363c"/>
<ellipse cx="278.4" cy="781.3" rx="1.1" ry="0.6" fill="#2a2c32" transform="rotate(70 278.4 781.3)"/>
<ellipse cx="292.0" cy="762.6" rx="1.2" ry="1.0" fill="#34363c" transform="rotate(40 292.0 762.6)"/>
<ellipse cx="300.7" cy="649.2" rx="1.2" ry="1.1" fill="#2a2c32" transform="rotate(70 300.7 649.2)"/>
<ellipse cx="263.1" cy="712.2" rx="2.0" ry="1.8" fill="#1f2126" transform="rotate(40 263.1 712.2)"/>
<ellipse cx="293.8" cy="647.3" rx="1.3" ry="0.7" fill="#2a2c32" transform="rotate(-20 293.8 647.3)"/>
<ellipse cx="302.7" cy="795.1" rx="1.8" ry="1.2" fill="#1f2126" transform="rotate(-20 302.7 795.1)"/>
<ellipse cx="289.6" cy="808.4" rx="1.5" ry="1.3" fill="#2a2c32" transform="rotate(-35 289.6 808.4)"/>
<ellipse cx="254.5" cy="686.3" rx="2.0" ry="1.8" fill="#1f2126" transform="rotate(70 254.5 686.3)"/>
<ellipse cx="305.9" cy="675.1" rx="1.4" ry="1.2" fill="#2a2c32" transform="rotate(-35 305.9 675.1)"/>
<ellipse cx="311.5" cy="723.6" rx="1.0" ry="0.7" fill="#34363c" transform="rotate(-20 311.5 723.6)"/>
<ellipse cx="295.3" cy="751.5" rx="1.6" ry="1.1" fill="#34363c"/>
<ellipse cx="294.9" cy="704.3" rx="1.9" ry="1.4" fill="#34363c" transform="rotate(-20 294.9 704.3)"/>
<ellipse cx="273.9" cy="616.6" rx="1.7" ry="1.5" fill="#2a2c32"/>
<ellipse cx="305.0" cy="779.3" rx="1.2" ry="0.9" fill="#2a2c32" transform="rotate(20 305.0 779.3)"/>
<ellipse cx="305.8" cy="754.3" rx="1.6" ry="1.0" fill="#34363c" transform="rotate(70 305.8 754.3)"/>
<ellipse cx="285.6" cy="699.3" rx="1.0" ry="0.8" fill="#1f2126" transform="rotate(-20 285.6 699.3)"/>
<ellipse cx="306.1" cy="707.8" rx="1.7" ry="1.3" fill="#1f2126"/>
<ellipse cx="262.8" cy="614.4" rx="1.6" ry="1.3" fill="#2a2c32" transform="rotate(-20 262.8 614.4)"/>
<ellipse cx="293.1" cy="734.8" rx="1.8" ry="1.3" fill="#34363c" transform="rotate(20 293.1 734.8)"/>
<ellipse cx="313.8" cy="786.6" rx="2.0" ry="1.7" fill="#34363c" transform="rotate(40 313.8 786.6)"/>
<ellipse cx="294.5" cy="711.9" rx="1.1" ry="0.7" fill="#34363c" transform="rotate(40 294.5 711.9)"/>
<ellipse cx="281.8" cy="632.0" rx="1.4" ry="1.3" fill="#1f2126" transform="rotate(20 281.8 632.0)"/>
<ellipse cx="275.9" cy="791.2" rx="1.2" ry="0.9" fill="#34363c" transform="rotate(-20 275.9 791.2)"/>
<ellipse cx="286.7" cy="614.1" rx="2.1" ry="1.2" fill="#34363c" transform="rotate(70 286.7 614.1)"/>
<ellipse cx="297.7" cy="788.8" rx="1.5" ry="1.2" fill="#34363c" transform="rotate(-35 297.7 788.8)"/>
<ellipse cx="267.9" cy="660.1" rx="1.3" ry="0.9" fill="#34363c" transform="rotate(-20 267.9 660.1)"/>
<ellipse cx="252.7" cy="677.2" rx="1.3" ry="1.0" fill="#1f2126"/>
<ellipse cx="312.1" cy="791.4" rx="1.9" ry="1.3" fill="#1f2126" transform="rotate(-35 312.1 791.4)"/>
<ellipse cx="277.5" cy="786.7" rx="1.4" ry="1.3" fill="#34363c" transform="rotate(40 277.5 786.7)"/>
<ellipse cx="308.9" cy="774.6" rx="1.2" ry="0.9" fill="#1f2126" transform="rotate(70 308.9 774.6)"/>
<ellipse cx="283.5" cy="680.3" rx="2.0" ry="1.3" fill="#34363c"/>
<ellipse cx="303.5" cy="695.8" rx="2.2" ry="1.7" fill="#34363c" transform="rotate(-35 303.5 695.8)"/>
<ellipse cx="289.5" cy="724.7" rx="1.5" ry="0.8" fill="#34363c" transform="rotate(70 289.5 724.7)"/>
<ellipse cx="294.9" cy="799.8" rx="1.9" ry="1.1" fill="#2a2c32" transform="rotate(-35 294.9 799.8)"/>
<ellipse cx="316.9" cy="704.8" rx="1.4" ry="0.9" fill="#34363c" transform="rotate(-35 316.9 704.8)"/>
<ellipse cx="291.7" cy="628.7" rx="1.3" ry="1.0" fill="#1f2126" transform="rotate(-20 291.7 628.7)"/>
<ellipse cx="286.4" cy="609.1" rx="1.5" ry="1.3" fill="#1f2126"/>
<ellipse cx="293.1" cy="682.5" rx="1.5" ry="1.3" fill="#1f2126" transform="rotate(40 293.1 682.5)"/>
<ellipse cx="272.4" cy="679.5" rx="1.8" ry="1.7" fill="#34363c" transform="rotate(70 272.4 679.5)"/>
<ellipse cx="279.1" cy="750.3" rx="1.5" ry="1.1" fill="#1f2126" transform="rotate(-35 279.1 750.3)"/>
<ellipse cx="273.2" cy="623.2" rx="1.4" ry="0.9" fill="#2a2c32" transform="rotate(20 273.2 623.2)"/>
<ellipse cx="262.9" cy="651.5" rx="1.8" ry="1.2" fill="#2a2c32" transform="rotate(20 262.9 651.5)"/>
<ellipse cx="290.0" cy="751.0" rx="2.2" ry="2.0" fill="#34363c" transform="rotate(-20 290.0 751.0)"/>
<ellipse cx="312.0" cy="778.3" rx="2.1" ry="1.5" fill="#34363c" transform="rotate(-20 312.0 778.3)"/>
<ellipse cx="273.8" cy="614.6" rx="1.4" ry="1.1" fill="#1f2126" transform="rotate(70 273.8 614.6)"/>
<ellipse cx="305.6" cy="703.5" rx="1.0" ry="0.8" fill="#1f2126" transform="rotate(-35 305.6 703.5)"/>
<ellipse cx="309.1" cy="617.1" rx="1.4" ry="1.1" fill="#1f2126" transform="rotate(-20 309.1 617.1)"/>
<ellipse cx="304.4" cy="722.3" rx="1.3" ry="1.0" fill="#2a2c32" transform="rotate(20 304.4 722.3)"/>
<ellipse cx="257.8" cy="668.6" rx="1.9" ry="1.5" fill="#1f2126" transform="rotate(70 257.8 668.6)"/>
<ellipse cx="302.7" cy="669.8" rx="1.6" ry="1.3" fill="#34363c" transform="rotate(70 302.7 669.8)"/>
<ellipse cx="256.8" cy="619.6" rx="1.2" ry="0.8" fill="#1f2126" transform="rotate(-20 256.8 619.6)"/>
<ellipse cx="261.5" cy="660.8" rx="1.0" ry="0.8" fill="#1f2126" transform="rotate(-35 261.5 660.8)"/>
<ellipse cx="297.0" cy="620.0" rx="1.1" ry="0.7" fill="#2a2c32"/>
<ellipse cx="308.0" cy="663.0" rx="1.6" ry="1.2" fill="#2a2c32" transform="rotate(20 308.0 663.0)"/>
<ellipse cx="302.2" cy="605.9" rx="1.5" ry="1.3" fill="#1f2126" transform="rotate(-35 302.2 605.9)"/>
<ellipse cx="289.6" cy="691.6" rx="1.2" ry="0.7" fill="#2a2c32" transform="rotate(-20 289.6 691.6)"/>
<ellipse cx="303.0" cy="715.4" rx="1.7" ry="1.3" fill="#1f2126" transform="rotate(-35 303.0 715.4)"/>
<ellipse cx="316.9" cy="696.9" rx="1.6" ry="0.9" fill="#34363c"/>
<ellipse cx="289.7" cy="768.8" rx="1.4" ry="0.9" fill="#2a2c32" transform="rotate(40 289.7 768.8)"/>
<ellipse cx="287.0" cy="759.3" rx="1.6" ry="1.1" fill="#34363c"/>
<ellipse cx="302.8" cy="681.8" rx="1.4" ry="1.3" fill="#1f2126" transform="rotate(40 302.8 681.8)"/>
<ellipse cx="310.9" cy="770.3" rx="1.7" ry="1.5" fill="#34363c" transform="rotate(-20 310.9 770.3)"/>
<ellipse cx="307.5" cy="620.6" rx="1.5" ry="1.3" fill="#2a2c32" transform="rotate(-20 307.5 620.6)"/>
<ellipse cx="288.1" cy="690.7" rx="1.1" ry="0.7" fill="#34363c" transform="rotate(40 288.1 690.7)"/>
<ellipse cx="284.1" cy="635.2" rx="2.2" ry="1.7" fill="#34363c" transform="rotate(40 284.1 635.2)"/>
<ellipse cx="315.1" cy="763.4" rx="1.5" ry="1.0" fill="#2a2c32"/>
<ellipse cx="276.9" cy="746.2" rx="2.1" ry="1.7" fill="#1f2126" transform="rotate(70 276.9 746.2)"/>
<ellipse cx="289.8" cy="617.4" rx="1.5" ry="1.4" fill="#1f2126" transform="rotate(70 289.8 617.4)"/>
<ellipse cx="289.4" cy="730.5" rx="1.8" ry="1.3" fill="#ddd8cc" transform="rotate(20 289.4 730.5)"/>
<ellipse cx="304.6" cy="641.8" rx="1.8" ry="1.0" fill="#ece9e2" transform="rotate(-35 304.6 641.8)"/>
<ellipse cx="301.0" cy="776.1" rx="1.3" ry="1.2" fill="#ddd8cc" transform="rotate(70 301.0 776.1)"/>
<ellipse cx="287.1" cy="707.8" rx="1.3" ry="0.8" fill="#ddd8cc" transform="rotate(70 287.1 707.8)"/>
<ellipse cx="256.7" cy="635.5" rx="2.0" ry="1.7" fill="#d4d0c8" transform="rotate(-35 256.7 635.5)"/>
<ellipse cx="291.9" cy="801.8" rx="1.7" ry="1.6" fill="#ece9e2" transform="rotate(-20 291.9 801.8)"/>
<ellipse cx="299.6" cy="804.3" rx="2.3" ry="2.1" fill="#d4d0c8" transform="rotate(-35 299.6 804.3)"/>
<ellipse cx="294.2" cy="618.2" rx="1.1" ry="0.7" fill="#d4d0c8"/>
<ellipse cx="294.3" cy="607.3" rx="1.3" ry="1.1" fill="#d4d0c8" transform="rotate(-35 294.3 607.3)"/>
<ellipse cx="276.4" cy="755.4" rx="1.1" ry="0.8" fill="#ddd8cc" transform="rotate(20 276.4 755.4)"/>
<ellipse cx="303.2" cy="617.3" rx="2.3" ry="2.0" fill="#ddd8cc" transform="rotate(-20 303.2 617.3)"/>
<ellipse cx="272.3" cy="759.2" rx="1.3" ry="0.9" fill="#e6e2da" transform="rotate(-35 272.3 759.2)"/>
<ellipse cx="300.1" cy="634.1" rx="2.2" ry="1.5" fill="#e6e2da" transform="rotate(-20 300.1 634.1)"/>
<ellipse cx="314.0" cy="781.0" rx="2.5" ry="1.9" fill="#e6e2da" transform="rotate(40 314.0 781.0)"/>
<ellipse cx="300.8" cy="756.9" rx="2.3" ry="2.0" fill="#ece9e2" transform="rotate(-20 300.8 756.9)"/>
<ellipse cx="293.6" cy="807.1" rx="1.7" ry="1.4" fill="#d4d0c8" transform="rotate(40 293.6 807.1)"/>
<ellipse cx="266.4" cy="692.9" rx="1.7" ry="1.3" fill="#d4d0c8" transform="rotate(70 266.4 692.9)"/>
<ellipse cx="289.8" cy="606.1" rx="2.0" ry="1.9" fill="#ece9e2" transform="rotate(-35 289.8 606.1)"/>
<ellipse cx="274.1" cy="711.5" rx="2.6" ry="2.2" fill="#ddd8cc" transform="rotate(70 274.1 711.5)"/>
<ellipse cx="278.3" cy="658.2" rx="2.2" ry="1.7" fill="#d4d0c8"/>
<ellipse cx="300.1" cy="796.5" rx="2.5" ry="1.5" fill="#e6e2da" transform="rotate(-35 300.1 796.5)"/>
<ellipse cx="285.4" cy="659.6" rx="1.5" ry="1.3" fill="#ddd8cc" transform="rotate(-35 285.4 659.6)"/>
<ellipse cx="281.4" cy="603.1" rx="1.1" ry="0.6" fill="#ece9e2" transform="rotate(40 281.4 603.1)"/>
<ellipse cx="292.4" cy="728.1" rx="1.1" ry="0.9" fill="#ece9e2"/>
<ellipse cx="269.3" cy="664.5" rx="1.2" ry="0.9" fill="#d4d0c8" transform="rotate(-20 269.3 664.5)"/>
<ellipse cx="300.1" cy="724.1" rx="1.4" ry="1.1" fill="#d4d0c8" transform="rotate(20 300.1 724.1)"/>
<ellipse cx="280.8" cy="758.1" rx="2.0" ry="1.6" fill="#ece9e2" transform="rotate(40 280.8 758.1)"/>
<ellipse cx="312.2" cy="793.3" rx="2.3" ry="1.6" fill="#d4d0c8" transform="rotate(20 312.2 793.3)"/>
<ellipse cx="271.1" cy="732.8" rx="1.3" ry="0.8" fill="#cbc6bc" transform="rotate(70 271.1 732.8)"/>
<ellipse cx="305.3" cy="795.4" rx="1.9" ry="1.3" fill="#d4d0c8"/>
<ellipse cx="278.2" cy="651.4" rx="1.5" ry="1.2" fill="#cbc6bc" transform="rotate(20 278.2 651.4)"/>
<ellipse cx="302.5" cy="680.6" rx="1.7" ry="1.6" fill="#e6e2da" transform="rotate(20 302.5 680.6)"/>
<ellipse cx="296.9" cy="700.3" rx="1.0" ry="1.0" fill="#d4d0c8"/>
<ellipse cx="271.8" cy="743.7" rx="1.1" ry="0.7" fill="#ddd8cc" transform="rotate(-35 271.8 743.7)"/>
<ellipse cx="295.5" cy="794.2" rx="1.1" ry="1.0" fill="#ece9e2"/>
<ellipse cx="300.4" cy="765.9" rx="1.9" ry="1.2" fill="#ddd8cc" transform="rotate(40 300.4 765.9)"/>
<ellipse cx="278.7" cy="617.3" rx="1.5" ry="1.4" fill="#e6e2da" transform="rotate(-20 278.7 617.3)"/>
<ellipse cx="277.3" cy="761.0" rx="1.2" ry="1.1" fill="#ddd8cc"/>
<ellipse cx="294.9" cy="726.1" rx="1.6" ry="1.1" fill="#ddd8cc" transform="rotate(40 294.9 726.1)"/>
<ellipse cx="286.6" cy="747.5" rx="2.0" ry="1.7" fill="#e6e2da"/>
<ellipse cx="276.5" cy="689.8" rx="2.5" ry="2.0" fill="#ddd8cc" transform="rotate(-20 276.5 689.8)"/>
<ellipse cx="260.1" cy="697.2" rx="1.8" ry="1.1" fill="#ddd8cc" transform="rotate(-20 260.1 697.2)"/>
<ellipse cx="291.4" cy="707.8" rx="1.3" ry="1.1" fill="#d4d0c8" transform="rotate(-20 291.4 707.8)"/>
<ellipse cx="272.2" cy="749.0" rx="2.3" ry="1.7" fill="#ddd8cc" transform="rotate(-20 272.2 749.0)"/>
<ellipse cx="297.0" cy="661.7" rx="1.2" ry="1.1" fill="#ddd8cc" transform="rotate(-35 297.0 661.7)"/>
<ellipse cx="255.0" cy="687.1" rx="1.7" ry="1.6" fill="#ddd8cc" transform="rotate(-20 255.0 687.1)"/>
<ellipse cx="288.4" cy="637.8" rx="2.0" ry="1.2" fill="#ddd8cc"/>
<ellipse cx="276.5" cy="728.1" rx="1.0" ry="0.9" fill="#d4d0c8" transform="rotate(70 276.5 728.1)"/>
<ellipse cx="314.8" cy="748.7" rx="2.3" ry="1.9" fill="#ece9e2" transform="rotate(40 314.8 748.7)"/>
<ellipse cx="276.2" cy="707.3" rx="2.5" ry="1.8" fill="#cbc6bc"/>
<ellipse cx="272.2" cy="653.9" rx="1.7" ry="1.4" fill="#ddd8cc" transform="rotate(20 272.2 653.9)"/>
<ellipse cx="313.9" cy="631.0" rx="2.0" ry="1.1" fill="#cbc6bc" transform="rotate(-20 313.9 631.0)"/>
<ellipse cx="273.2" cy="676.5" rx="1.1" ry="0.7" fill="#e6e2da"/>
<ellipse cx="286.8" cy="695.1" rx="1.4" ry="1.3" fill="#ddd8cc" transform="rotate(-20 286.8 695.1)"/>
<ellipse cx="294.8" cy="811.3" rx="2.5" ry="1.7" fill="#e6e2da" transform="rotate(20 294.8 811.3)"/>
<ellipse cx="263.5" cy="630.0" rx="2.3" ry="2.0" fill="#cbc6bc"/>
<ellipse cx="255.9" cy="661.9" rx="1.8" ry="1.5" fill="#e6e2da" transform="rotate(40 255.9 661.9)"/>
<ellipse cx="268.5" cy="711.1" rx="1.6" ry="1.2" fill="#e6e2da" transform="rotate(-35 268.5 711.1)"/>
<ellipse cx="309.0" cy="700.7" rx="2.3" ry="2.1" fill="#cbc6bc" transform="rotate(40 309.0 700.7)"/>
<ellipse cx="287.1" cy="677.7" rx="1.4" ry="0.8" fill="#ece9e2" transform="rotate(20 287.1 677.7)"/>
<ellipse cx="276.1" cy="646.9" rx="1.8" ry="1.2" fill="#ddd8cc" transform="rotate(40 276.1 646.9)"/>
<ellipse cx="294.4" cy="769.5" rx="2.2" ry="1.5" fill="#cbc6bc" transform="rotate(20 294.4 769.5)"/>
<ellipse cx="290.2" cy="619.5" rx="2.0" ry="1.6" fill="#ece9e2" transform="rotate(-35 290.2 619.5)"/>
<ellipse cx="316.7" cy="707.4" rx="2.4" ry="1.7" fill="#cbc6bc" transform="rotate(70 316.7 707.4)"/>
<ellipse cx="307.5" cy="800.8" rx="2.6" ry="1.5" fill="#cbc6bc" transform="rotate(70 307.5 800.8)"/>
<ellipse cx="305.4" cy="725.5" rx="2.0" ry="1.8" fill="#ddd8cc" transform="rotate(-35 305.4 725.5)"/>
<ellipse cx="310.8" cy="646.8" rx="2.1" ry="1.6" fill="#e6e2da"/>
<ellipse cx="296.1" cy="661.8" rx="2.2" ry="1.5" fill="#d4d0c8" transform="rotate(20 296.1 661.8)"/>
<ellipse cx="305.2" cy="791.9" rx="2.6" ry="1.5" fill="#d4d0c8" transform="rotate(-35 305.2 791.9)"/>
<ellipse cx="289.0" cy="658.3" rx="2.2" ry="1.5" fill="#ddd8cc" transform="rotate(20 289.0 658.3)"/>
<ellipse cx="292.1" cy="654.9" rx="1.5" ry="0.9" fill="#e6e2da" transform="rotate(-20 292.1 654.9)"/>
<ellipse cx="306.8" cy="745.3" rx="1.2" ry="0.9" fill="#d4d0c8" transform="rotate(20 306.8 745.3)"/>
<ellipse cx="292.6" cy="617.5" rx="1.1" ry="1.0" fill="#ece9e2" transform="rotate(70 292.6 617.5)"/>
<ellipse cx="310.0" cy="727.9" rx="1.2" ry="1.1" fill="#ece9e2"/>
<ellipse cx="305.9" cy="707.6" rx="2.5" ry="2.2" fill="#ece9e2"/>
<ellipse cx="289.9" cy="810.9" rx="1.4" ry="0.9" fill="#ece9e2"/>
<ellipse cx="268.1" cy="726.9" rx="1.5" ry="1.2" fill="#e6e2da"/>
<ellipse cx="282.2" cy="666.7" rx="1.5" ry="0.9" fill="#e6e2da"/>
<ellipse cx="312.7" cy="736.8" rx="2.0" ry="1.8" fill="#ddd8cc" transform="rotate(40 312.7 736.8)"/>
<ellipse cx="283.0" cy="730.6" rx="2.4" ry="1.9" fill="#ece9e2" transform="rotate(70 283.0 730.6)"/>
<ellipse cx="310.9" cy="793.9" rx="1.2" ry="0.9" fill="#e6e2da" transform="rotate(40 310.9 793.9)"/>
<ellipse cx="280.0" cy="803.2" rx="2.4" ry="1.9" fill="#cbc6bc" transform="rotate(40 280.0 803.2)"/>
<ellipse cx="272.4" cy="626.8" rx="1.8" ry="1.0" fill="#e6e2da" transform="rotate(40 272.4 626.8)"/>
<ellipse cx="254.9" cy="685.5" rx="1.8" ry="1.1" fill="#cbc6bc" transform="rotate(40 254.9 685.5)"/>
<ellipse cx="298.7" cy="715.4" rx="2.5" ry="1.7" fill="#d4d0c8" transform="rotate(40 298.7 715.4)"/>
<g><ellipse cx="281.3" cy="604.1" rx="12.4" ry="7.4" fill="#202024"/><ellipse cx="281.3" cy="603.6" rx="12.0" ry="7.0" fill="#50525c"/><ellipse cx="281.3" cy="603.6" rx="12.0" ry="7.0" fill="url(#shg)"/><ellipse cx="281.3" cy="603.6" rx="12.0" ry="7.0" fill="url(#hlg)" opacity="0.55"/></g>
<g><ellipse cx="296.0" cy="601.5" rx="8.4" ry="5.4" fill="#17171a"/><ellipse cx="296.0" cy="601.0" rx="8.0" ry="5.0" fill="#3a3b42"/><ellipse cx="296.0" cy="601.0" rx="8.0" ry="5.0" fill="url(#shg)"/><ellipse cx="296.0" cy="601.0" rx="8.0" ry="5.0" fill="url(#hlg)" opacity="0.77"/></g>
<g transform="rotate(10 261.3 612.7)"><ellipse cx="261.3" cy="613.2" rx="11.4" ry="6.4" fill="#37383e"/><ellipse cx="261.3" cy="612.7" rx="11.0" ry="6.0" fill="#8a8e9c"/><ellipse cx="261.3" cy="612.7" rx="11.0" ry="6.0" fill="url(#shg)"/><ellipse cx="261.3" cy="612.7" rx="11.0" ry="6.0" fill="url(#hlg)" opacity="1.00"/></g>
<g transform="rotate(25 290.4 618.0)"><ellipse cx="290.4" cy="618.5" rx="6.9" ry="8.4" fill="#504b44"/><ellipse cx="290.4" cy="618.0" rx="6.5" ry="8.0" fill="#c8bcaa"/><ellipse cx="290.4" cy="618.0" rx="6.5" ry="8.0" fill="url(#shg)"/><ellipse cx="290.4" cy="618.0" rx="6.5" ry="8.0" fill="url(#hlg)" opacity="0.77"/></g>
<g><ellipse cx="294.0" cy="609.5" rx="4.4" ry="3.9" fill="#524e46"/><ellipse cx="294.0" cy="609.0" rx="4.0" ry="3.5" fill="#cfc5b0"/><ellipse cx="294.0" cy="609.0" rx="4.0" ry="3.5" fill="url(#shg)"/><ellipse cx="294.0" cy="609.0" rx="4.0" ry="3.5" fill="url(#hlg)" opacity="0.77"/></g>
<g transform="rotate(-10 272.0 623.6)"><ellipse cx="272.0" cy="624.1" rx="7.4" ry="5.4" fill="#2c2a23"/><ellipse cx="272.0" cy="623.6" rx="7.0" ry="5.0" fill="#6e6a58"/><ellipse cx="272.0" cy="623.6" rx="7.0" ry="5.0" fill="url(#shg)"/><ellipse cx="272.0" cy="623.6" rx="7.0" ry="5.0" fill="url(#hlg)" opacity="0.77"/></g>
<g transform="rotate(15 305.0 624.5)"><ellipse cx="305.0" cy="625.0" rx="9.4" ry="6.9" fill="#3d372b"/><ellipse cx="305.0" cy="624.5" rx="9.0" ry="6.5" fill="#9a8a6c"/><ellipse cx="305.0" cy="624.5" rx="9.0" ry="6.5" fill="url(#shg)"/><ellipse cx="305.0" cy="624.5" rx="9.0" ry="6.5" fill="url(#hlg)" opacity="0.77"/></g>
<g transform="rotate(-20 283.0 628.0)"><ellipse cx="283.0" cy="628.5" rx="5.4" ry="4.4" fill="#534c43"/><ellipse cx="283.0" cy="628.0" rx="5.0" ry="4.0" fill="#d0c0a8"/><ellipse cx="283.0" cy="628.0" rx="5.0" ry="4.0" fill="url(#shg)"/><ellipse cx="283.0" cy="628.0" rx="5.0" ry="4.0" fill="url(#hlg)" opacity="0.77"/></g>
<g transform="rotate(10 305.0 638.0)"><ellipse cx="305.0" cy="638.5" rx="12.4" ry="6.4" fill="#2b302d"/><ellipse cx="305.0" cy="638.0" rx="12.0" ry="6.0" fill="#6c7a72"/><ellipse cx="305.0" cy="638.0" rx="12.0" ry="6.0" fill="url(#shg)"/><ellipse cx="305.0" cy="638.0" rx="12.0" ry="6.0" fill="url(#hlg)" opacity="0.77"/></g>
<g><ellipse cx="278.0" cy="612.5" rx="3.9" ry="4.4" fill="#585550"/><ellipse cx="278.0" cy="612.0" rx="3.5" ry="4.0" fill="#ddd6c8"/><ellipse cx="278.0" cy="612.0" rx="3.5" ry="4.0" fill="url(#shg)"/><ellipse cx="278.0" cy="612.0" rx="3.5" ry="4.0" fill="url(#hlg)" opacity="0.77"/></g>
<g><ellipse cx="266.0" cy="636.5" rx="4.4" ry="3.9" fill="#565451"/><ellipse cx="266.0" cy="636.0" rx="4.0" ry="3.5" fill="#d8d4cc"/><ellipse cx="266.0" cy="636.0" rx="4.0" ry="3.5" fill="url(#shg)"/><ellipse cx="266.0" cy="636.0" rx="4.0" ry="3.5" fill="url(#hlg)" opacity="0.77"/></g>
<g><ellipse cx="282.0" cy="660.1" rx="6.4" ry="4.4" fill="#433c30"/><ellipse cx="282.0" cy="659.6" rx="6.0" ry="4.0" fill="#a89878"/><ellipse cx="282.0" cy="659.6" rx="6.0" ry="4.0" fill="url(#shg)"/><ellipse cx="282.0" cy="659.6" rx="6.0" ry="4.0" fill="url(#hlg)" opacity="0.77"/></g>
<g transform="rotate(20 272.0 665.0)"><ellipse cx="272.0" cy="665.5" rx="6.4" ry="7.4" fill="#3d3630"/><ellipse cx="272.0" cy="665.0" rx="6.0" ry="7.0" fill="#9a8878"/><ellipse cx="272.0" cy="665.0" rx="6.0" ry="7.0" fill="url(#shg)"/><ellipse cx="272.0" cy="665.0" rx="6.0" ry="7.0" fill="url(#hlg)" opacity="0.77"/></g>
<g><ellipse cx="293.0" cy="664.5" rx="5.4" ry="3.9" fill="#373738"/><ellipse cx="293.0" cy="664.0" rx="5.0" ry="3.5" fill="#8a8a8c"/><ellipse cx="293.0" cy="664.0" rx="5.0" ry="3.5" fill="url(#shg)"/><ellipse cx="293.0" cy="664.0" rx="5.0" ry="3.5" fill="url(#hlg)" opacity="0.77"/></g>
<g transform="rotate(5 259.5 684.0)"><ellipse cx="259.5" cy="684.5" rx="11.4" ry="4.4" fill="#2c2928"/><ellipse cx="259.5" cy="684.0" rx="11.0" ry="4.0" fill="#6e6864"/><ellipse cx="259.5" cy="684.0" rx="11.0" ry="4.0" fill="url(#shg)"/><ellipse cx="259.5" cy="684.0" rx="11.0" ry="4.0" fill="url(#hlg)" opacity="0.77"/></g>
<g transform="rotate(-10 286.7 681.5)"><ellipse cx="286.7" cy="682.0" rx="12.4" ry="6.4" fill="#373734"/><ellipse cx="286.7" cy="681.5" rx="12.0" ry="6.0" fill="#8a8a84"/><ellipse cx="286.7" cy="681.5" rx="12.0" ry="6.0" fill="url(#shg)"/><ellipse cx="286.7" cy="681.5" rx="12.0" ry="6.0" fill="url(#hlg)" opacity="0.77"/></g>
<g><ellipse cx="271.0" cy="672.5" rx="4.4" ry="3.4" fill="#565452"/><ellipse cx="271.0" cy="672.0" rx="4.0" ry="3.0" fill="#d8d4ce"/><ellipse cx="271.0" cy="672.0" rx="4.0" ry="3.0" fill="url(#shg)"/><ellipse cx="271.0" cy="672.0" rx="4.0" ry="3.0" fill="url(#hlg)" opacity="0.77"/></g>
<g><ellipse cx="310.0" cy="663.5" rx="3.9" ry="3.4" fill="#595854"/><ellipse cx="310.0" cy="663.0" rx="3.5" ry="3.0" fill="#e0dcd2"/><ellipse cx="310.0" cy="663.0" rx="3.5" ry="3.0" fill="url(#shg)"/><ellipse cx="310.0" cy="663.0" rx="3.5" ry="3.0" fill="url(#hlg)" opacity="0.77"/></g>
<g transform="rotate(20 295.0 770.0)"><ellipse cx="295.0" cy="770.5" rx="4.4" ry="5.4" fill="#52504b"/><ellipse cx="295.0" cy="770.0" rx="4.0" ry="5.0" fill="#cfc8bc"/><ellipse cx="295.0" cy="770.0" rx="4.0" ry="5.0" fill="url(#shg)"/><ellipse cx="295.0" cy="770.0" rx="4.0" ry="5.0" fill="url(#hlg)" opacity="0.77"/></g>
<rect x="234" y="586" width="100" height="230" filter="url(#grain)"/>
</g></g>
<path d="M255.6 603.5 A28 15.6 0 0 1 311.7 603.5 L311.2 616.5 L307.6 613.5 L308.4 606.5 A24.4 10.2 0 0 0 259.6 606.5 L257.5 607.5 Z" fill="url(#ring3g)"/>
<path d="M256.6 600 A28 15.6 0 0 1 296 589.4 A40 22 0 0 0 258.6 602.5Z" fill="#dcdcdc" opacity="0.5"/>
<path d="M262 603 A24.4 10.2 0 0 1 306 602 A26 12 0 0 0 262 601Z" fill="#8a8a8a"/>
<path d="M309.4 606.5 L311.7 603.5 L311.2 616.5 L309 615Z" fill="#9a9a9b"/>
<path d="M302.5 599.5 C306 601.5 308.6 604 309.4 606.5 L309 615 L304.5 611.5 C305.5 607 304.5 603 302.5 599.5Z" fill="#46484f"/>
<path d="M293.6 819.6V817H325.8V819.6M309.7 817v2" stroke="#555" stroke-width="0.5" fill="none"/>
<text x="293.6" y="823.6" font-size="3.7" fill="#333" text-anchor="middle">0</text>
<text x="309.7" y="823.6" font-size="3.7" fill="#333" text-anchor="middle">25</text>
<text x="327.3" y="823.6" font-size="3.7" fill="#333" text-anchor="middle">50cm</text>
<text x="431.5" y="18.9" font-size="8.8" font-weight="bold" text-anchor="middle">fine sediment proportion</text>
<text x="352.0" y="30.5" font-size="7.3" font-weight="bold" text-anchor="middle">0%</text>
<text x="383.8" y="30.5" font-size="7.3" font-weight="bold" text-anchor="middle">20%</text>
<text x="415.6" y="30.5" font-size="7.3" font-weight="bold" text-anchor="middle">40%</text>
<text x="447.5" y="30.5" font-size="7.3" font-weight="bold" text-anchor="middle">60%</text>
<text x="479.3" y="30.5" font-size="7.3" font-weight="bold" text-anchor="middle">80%</text>
<text x="511.1" y="30.5" font-size="7.3" font-weight="bold" text-anchor="middle">100%</text>
<polyline points="377.1,95.1 378.2,186.0 374.7,242.9" fill="none" stroke="#444" stroke-width="0.7" stroke-dasharray="1.1 1.1"/>
<polyline points="405.9,95.1 405.7,186.0 395.0,242.9" fill="none" stroke="#1a1ad0" stroke-width="0.7"/>
<path d="M374.6 93.2h5l-2.5 4.4z" fill="#000"/>
<path d="M375.7 184.1h5l-2.5 4.4z" fill="#000"/>
<path d="M372.2 241.0h5l-2.5 4.4z" fill="#000"/>
<rect x="403.9" y="93.1" width="4" height="4" fill="#1010e0"/>
<rect x="403.7" y="184.0" width="4" height="4" fill="#1010e0"/>
<rect x="393.0" y="240.9" width="4" height="4" fill="#1010e0"/>
<rect x="357.0" y="41.8" width="78.2" height="23.3" fill="#fff" stroke="#a9a9b4" stroke-width="0.7"/>
<path d="M358.5 48.2h20" stroke="#444" stroke-width="0.6" stroke-dasharray="1.2 1.2"/>
<path d="M365.5 46.4h5l-2.5 4.4z" fill="#000"/>
<text x="380.8" y="51.4" font-size="9.1" fill="#111">fine sediment</text>
<path d="M358.5 58.4h20" stroke="#1a1ad0" stroke-width="0.7"/>
<rect x="366.0" y="56.4" width="4" height="4" fill="#1010e0"/>
<text x="380.8" y="61.4" font-size="9.1" fill="#111">k<tspan font-size="5.7" dy="2.2">f,Hazen</tspan></text>
<path d="M352.0 38.2V265.6" stroke="#000" stroke-width="0.95" fill="none"/>
<path d="M348.8 38.2H511.1" stroke="#000" stroke-width="1" fill="none"/>
<path d="M352.0 38.2v-2.8M367.9 38.2v-1.7M383.8 38.2v-2.8M399.7 38.2v-1.7M415.6 38.2v-2.8M431.6 38.2v-1.7M447.5 38.2v-2.8M463.4 38.2v-1.7M479.3 38.2v-2.8M495.2 38.2v-1.7M511.1 38.2v-2.8M352.0 38.2h-3M352.0 60.9h-3M352.0 83.7h-3M352.0 106.4h-3M352.0 129.2h-3M352.0 151.9h-3M352.0 174.6h-3M352.0 197.4h-3M352.0 220.1h-3M352.0 242.9h-3M352.0 265.6h-3" stroke="#000" stroke-width="0.9" fill="none"/>
<path d="M511.1 38.2V265.6" stroke="#1a1ad0" stroke-width="0.9" fill="none"/>
<path d="M348.8 265.6H514.3000000000001" stroke="#1a1ad0" stroke-width="1" fill="none"/>
<text x="515.8" y="40.9" font-size="7.5" font-weight="bold" fill="#1a1ad0">0.0</text>
<text x="515.8" y="86.4" font-size="7.5" font-weight="bold" fill="#1a1ad0">0.2</text>
<text x="515.8" y="131.9" font-size="7.5" font-weight="bold" fill="#1a1ad0">0.4</text>
<text x="515.8" y="177.3" font-size="7.5" font-weight="bold" fill="#1a1ad0">0.6</text>
<text x="515.8" y="222.8" font-size="7.5" font-weight="bold" fill="#1a1ad0">0.8</text>
<text x="515.8" y="268.3" font-size="7.5" font-weight="bold" fill="#1a1ad0">1.0</text>
<path d="M511.1 38.2h3.2M511.1 60.9h2.0M511.1 83.7h3.2M511.1 106.4h2.0M511.1 129.2h3.2M511.1 151.9h2.0M511.1 174.6h3.2M511.1 197.4h2.0M511.1 220.1h3.2M511.1 242.9h2.0M511.1 265.6h3.2M352.0 265.6v3M361.6 265.6v1.6M367.2 265.6v1.6M371.2 265.6v1.6M374.2 265.6v1.6M376.8 265.6v1.6M378.9 265.6v1.6M380.7 265.6v1.6M382.4 265.6v1.6M383.8 265.6v3M393.4 265.6v1.6M399.0 265.6v1.6M403.0 265.6v1.6M406.1 265.6v1.6M408.6 265.6v1.6M410.7 265.6v1.6M412.6 265.6v1.6M414.2 265.6v1.6M415.6 265.6v3M425.2 265.6v1.6M430.8 265.6v1.6M434.8 265.6v1.6M437.9 265.6v1.6M440.4 265.6v1.6M442.5 265.6v1.6M444.4 265.6v1.6M446.0 265.6v1.6M447.5 265.6v3M457.0 265.6v1.6M462.6 265.6v1.6M466.6 265.6v1.6M469.7 265.6v1.6M472.2 265.6v1.6M474.4 265.6v1.6M476.2 265.6v1.6M477.8 265.6v1.6M479.3 265.6v3M488.9 265.6v1.6M494.5 265.6v1.6M498.4 265.6v1.6M501.5 265.6v1.6M504.0 265.6v1.6M506.2 265.6v1.6M508.0 265.6v1.6M509.6 265.6v1.6M511.1 265.6v3" stroke="#1a1ad0" stroke-width="0.8" fill="none"/>
<text x="352.5" y="277.4" font-size="7.4" font-weight="bold" fill="#1a1ad0" text-anchor="middle">10<tspan font-size="4.8" dy="-3.2">-4</tspan></text>
<text x="384.3" y="277.4" font-size="7.4" font-weight="bold" fill="#1a1ad0" text-anchor="middle">10<tspan font-size="4.8" dy="-3.2">-3</tspan></text>
<text x="416.1" y="277.4" font-size="7.4" font-weight="bold" fill="#1a1ad0" text-anchor="middle">10<tspan font-size="4.8" dy="-3.2">-2</tspan></text>
<text x="448.0" y="277.4" font-size="7.4" font-weight="bold" fill="#1a1ad0" text-anchor="middle">10<tspan font-size="4.8" dy="-3.2">-1</tspan></text>
<text x="479.8" y="277.4" font-size="7.4" font-weight="bold" fill="#1a1ad0" text-anchor="middle">10<tspan font-size="4.8" dy="-3.2">0</tspan></text>
<text x="511.6" y="277.4" font-size="7.4" font-weight="bold" fill="#1a1ad0" text-anchor="middle">10<tspan font-size="4.8" dy="-3.2">1</tspan></text>
<text x="431.5" y="287.4" font-size="8.3" font-weight="bold" fill="#1a1ad0" text-anchor="middle">hydraulic conductivity (k<tspan font-size="5.2" dy="1.6">f</tspan><tspan dy="-1.6">) in m/s</tspan></text>
<text transform="translate(528.9 151.9) rotate(90)" font-size="8.8" font-weight="bold" fill="#1a1ad0" text-anchor="middle">depth in m</text>
<text x="431.5" y="328.0" font-size="8.8" font-weight="bold" text-anchor="middle">fine sediment proportion</text>
<text x="352.0" y="339.6" font-size="7.3" font-weight="bold" text-anchor="middle">0%</text>
<text x="383.8" y="339.6" font-size="7.3" font-weight="bold" text-anchor="middle">20%</text>
<text x="415.6" y="339.6" font-size="7.3" font-weight="bold" text-anchor="middle">40%</text>
<text x="447.5" y="339.6" font-size="7.3" font-weight="bold" text-anchor="middle">60%</text>
<text x="479.3" y="339.6" font-size="7.3" font-weight="bold" text-anchor="middle">80%</text>
<text x="511.1" y="339.6" font-size="7.3" font-weight="bold" text-anchor="middle">100%</text>
<polyline points="375.0,393.2 391.0,462.0 387.5,507.8 382.5,553.7" fill="none" stroke="#444" stroke-width="0.7" stroke-dasharray="1.1 1.1"/>
<polyline points="399.5,393.2 389.5,462.0 389.0,507.8 391.0,553.7" fill="none" stroke="#1a1ad0" stroke-width="0.7"/>
<path d="M372.5 391.3h5l-2.5 4.4z" fill="#000"/>
<path d="M388.5 460.1h5l-2.5 4.4z" fill="#000"/>
<path d="M385.0 505.9h5l-2.5 4.4z" fill="#000"/>
<path d="M380.0 551.8h5l-2.5 4.4z" fill="#000"/>
<rect x="397.5" y="391.2" width="4" height="4" fill="#1010e0"/>
<rect x="387.5" y="460.0" width="4" height="4" fill="#1010e0"/>
<rect x="387.0" y="505.8" width="4" height="4" fill="#1010e0"/>
<rect x="389.0" y="551.7" width="4" height="4" fill="#1010e0"/>
<rect x="354.3" y="351.5" width="80.2" height="23.5" fill="#fff" stroke="#a9a9b4" stroke-width="0.7"/>
<path d="M356.8 357.9h20" stroke="#444" stroke-width="0.6" stroke-dasharray="1.2 1.2"/>
<path d="M363.8 356.1h5l-2.5 4.4z" fill="#000"/>
<text x="379.1" y="361.1" font-size="9.1" fill="#111">fine sediment</text>
<path d="M356.8 368.1h20" stroke="#1a1ad0" stroke-width="0.7"/>
<rect x="364.3" y="366.1" width="4" height="4" fill="#1010e0"/>
<text x="379.1" y="371.1" font-size="9.1" fill="#111">k<tspan font-size="5.7" dy="2.2">f,Hazen</tspan></text>
<path d="M352.0 347.3V576.6" stroke="#000" stroke-width="0.95" fill="none"/>
<path d="M348.8 347.3H511.1" stroke="#000" stroke-width="1" fill="none"/>
<path d="M352.0 347.3v-2.8M367.9 347.3v-1.7M383.8 347.3v-2.8M399.7 347.3v-1.7M415.6 347.3v-2.8M431.6 347.3v-1.7M447.5 347.3v-2.8M463.4 347.3v-1.7M479.3 347.3v-2.8M495.2 347.3v-1.7M511.1 347.3v-2.8M352.0 347.3h-3M352.0 370.2h-3M352.0 393.2h-3M352.0 416.1h-3M352.0 439.0h-3M352.0 462.0h-3M352.0 484.9h-3M352.0 507.8h-3M352.0 530.7h-3M352.0 553.7h-3M352.0 576.6h-3" stroke="#000" stroke-width="0.9" fill="none"/>
<path d="M511.1 347.3V576.6" stroke="#1a1ad0" stroke-width="0.9" fill="none"/>
<path d="M348.8 576.6H514.3000000000001" stroke="#1a1ad0" stroke-width="1" fill="none"/>
<text x="515.8" y="350.0" font-size="7.5" font-weight="bold" fill="#1a1ad0">0.0</text>
<text x="515.8" y="395.9" font-size="7.5" font-weight="bold" fill="#1a1ad0">0.2</text>
<text x="515.8" y="441.7" font-size="7.5" font-weight="bold" fill="#1a1ad0">0.4</text>
<text x="515.8" y="487.6" font-size="7.5" font-weight="bold" fill="#1a1ad0">0.6</text>
<text x="515.8" y="533.4" font-size="7.5" font-weight="bold" fill="#1a1ad0">0.8</text>
<text x="515.8" y="579.3" font-size="7.5" font-weight="bold" fill="#1a1ad0">1.0</text>
<path d="M511.1 347.3h3.2M511.1 370.2h2.0M511.1 393.2h3.2M511.1 416.1h2.0M511.1 439.0h3.2M511.1 462.0h2.0M511.1 484.9h3.2M511.1 507.8h2.0M511.1 530.7h3.2M511.1 553.7h2.0M511.1 576.6h3.2M352.0 576.6v3M361.6 576.6v1.6M367.2 576.6v1.6M371.2 576.6v1.6M374.2 576.6v1.6M376.8 576.6v1.6M378.9 576.6v1.6M380.7 576.6v1.6M382.4 576.6v1.6M383.8 576.6v3M393.4 576.6v1.6M399.0 576.6v1.6M403.0 576.6v1.6M406.1 576.6v1.6M408.6 576.6v1.6M410.7 576.6v1.6M412.6 576.6v1.6M414.2 576.6v1.6M415.6 576.6v3M425.2 576.6v1.6M430.8 576.6v1.6M434.8 576.6v1.6M437.9 576.6v1.6M440.4 576.6v1.6M442.5 576.6v1.6M444.4 576.6v1.6M446.0 576.6v1.6M447.5 576.6v3M457.0 576.6v1.6M462.6 576.6v1.6M466.6 576.6v1.6M469.7 576.6v1.6M472.2 576.6v1.6M474.4 576.6v1.6M476.2 576.6v1.6M477.8 576.6v1.6M479.3 576.6v3M488.9 576.6v1.6M494.5 576.6v1.6M498.4 576.6v1.6M501.5 576.6v1.6M504.0 576.6v1.6M506.2 576.6v1.6M508.0 576.6v1.6M509.6 576.6v1.6M511.1 576.6v3" stroke="#1a1ad0" stroke-width="0.8" fill="none"/>
<text transform="translate(528.9 462.0) rotate(90)" font-size="8.8" font-weight="bold" fill="#1a1ad0" text-anchor="middle">depth in m</text>
<polyline points="371.5,631.1 354.5,699.6 352.5,768.1" fill="none" stroke="#444" stroke-width="0.7" stroke-dasharray="1.1 1.1"/>
<polyline points="407.5,631.1 472.0,699.6 496.5,768.1" fill="none" stroke="#1a1ad0" stroke-width="0.7"/>
<path d="M369.0 629.2h5l-2.5 4.4z" fill="#000"/>
<path d="M352.0 697.7h5l-2.5 4.4z" fill="#000"/>
<path d="M350.0 766.2h5l-2.5 4.4z" fill="#000"/>
<rect x="405.5" y="629.1" width="4" height="4" fill="#1010e0"/>
<rect x="470.0" y="697.6" width="4" height="4" fill="#1010e0"/>
<rect x="494.5" y="766.1" width="4" height="4" fill="#1010e0"/>
<rect x="355.2" y="589.8" width="79.2" height="24.3" fill="#fff" stroke="#a9a9b4" stroke-width="0.7"/>
<path d="M357.3 596.2h20" stroke="#444" stroke-width="0.6" stroke-dasharray="1.2 1.2"/>
<path d="M364.3 594.4h5l-2.5 4.4z" fill="#000"/>
<text x="379.6" y="599.4" font-size="9.1" fill="#111">fine sediment</text>
<path d="M357.3 606.4h20" stroke="#1a1ad0" stroke-width="0.7"/>
<rect x="364.8" y="604.4" width="4" height="4" fill="#1010e0"/>
<text x="379.6" y="609.4" font-size="9.1" fill="#111">k<tspan font-size="5.7" dy="2.2">f,Hazen</tspan></text>
<path d="M352.0 585.4V813.8" stroke="#000" stroke-width="0.95" fill="none"/>
<path d="M348.8 585.4H511.1" stroke="#000" stroke-width="1" fill="none"/>
<path d="M352.0 585.4v-2.8M367.9 585.4v-1.7M383.8 585.4v-2.8M399.7 585.4v-1.7M415.6 585.4v-2.8M431.6 585.4v-1.7M447.5 585.4v-2.8M463.4 585.4v-1.7M479.3 585.4v-2.8M495.2 585.4v-1.7M511.1 585.4v-2.8M352.0 585.4h-3M352.0 608.2h-3M352.0 631.1h-3M352.0 653.9h-3M352.0 676.8h-3M352.0 699.6h-3M352.0 722.4h-3M352.0 745.3h-3M352.0 768.1h-3M352.0 791.0h-3M352.0 813.8h-3" stroke="#000" stroke-width="0.9" fill="none"/>
<path d="M511.1 585.4V813.8" stroke="#1a1ad0" stroke-width="0.9" fill="none"/>
<path d="M348.8 813.8H514.3000000000001" stroke="#1a1ad0" stroke-width="1" fill="none"/>
<text x="515.8" y="588.1" font-size="7.5" font-weight="bold" fill="#1a1ad0">1.0</text>
<text x="515.8" y="633.8" font-size="7.5" font-weight="bold" fill="#1a1ad0">1.2</text>
<text x="515.8" y="679.5" font-size="7.5" font-weight="bold" fill="#1a1ad0">1.4</text>
<text x="515.8" y="725.1" font-size="7.5" font-weight="bold" fill="#1a1ad0">1.6</text>
<text x="515.8" y="770.8" font-size="7.5" font-weight="bold" fill="#1a1ad0">1.8</text>
<text x="515.8" y="816.5" font-size="7.5" font-weight="bold" fill="#1a1ad0">2.0</text>
<path d="M511.1 585.4h3.2M511.1 608.2h2.0M511.1 631.1h3.2M511.1 653.9h2.0M511.1 676.8h3.2M511.1 699.6h2.0M511.1 722.4h3.2M511.1 745.3h2.0M511.1 768.1h3.2M511.1 791.0h2.0M511.1 813.8h3.2M352.0 813.8v3M361.6 813.8v1.6M367.2 813.8v1.6M371.2 813.8v1.6M374.2 813.8v1.6M376.8 813.8v1.6M378.9 813.8v1.6M380.7 813.8v1.6M382.4 813.8v1.6M383.8 813.8v3M393.4 813.8v1.6M399.0 813.8v1.6M403.0 813.8v1.6M406.1 813.8v1.6M408.6 813.8v1.6M410.7 813.8v1.6M412.6 813.8v1.6M414.2 813.8v1.6M415.6 813.8v3M425.2 813.8v1.6M430.8 813.8v1.6M434.8 813.8v1.6M437.9 813.8v1.6M440.4 813.8v1.6M442.5 813.8v1.6M444.4 813.8v1.6M446.0 813.8v1.6M447.5 813.8v3M457.0 813.8v1.6M462.6 813.8v1.6M466.6 813.8v1.6M469.7 813.8v1.6M472.2 813.8v1.6M474.4 813.8v1.6M476.2 813.8v1.6M477.8 813.8v1.6M479.3 813.8v3M488.9 813.8v1.6M494.5 813.8v1.6M498.4 813.8v1.6M501.5 813.8v1.6M504.0 813.8v1.6M506.2 813.8v1.6M508.0 813.8v1.6M509.6 813.8v1.6M511.1 813.8v3" stroke="#1a1ad0" stroke-width="0.8" fill="none"/>
<text x="352.5" y="825.6" font-size="7.4" font-weight="bold" fill="#1a1ad0" text-anchor="middle">10<tspan font-size="4.8" dy="-3.2">-4</tspan></text>
<text x="384.3" y="825.6" font-size="7.4" font-weight="bold" fill="#1a1ad0" text-anchor="middle">10<tspan font-size="4.8" dy="-3.2">-3</tspan></text>
<text x="416.1" y="825.6" font-size="7.4" font-weight="bold" fill="#1a1ad0" text-anchor="middle">10<tspan font-size="4.8" dy="-3.2">-2</tspan></text>
<text x="448.0" y="825.6" font-size="7.4" font-weight="bold" fill="#1a1ad0" text-anchor="middle">10<tspan font-size="4.8" dy="-3.2">-1</tspan></text>
<text x="479.8" y="825.6" font-size="7.4" font-weight="bold" fill="#1a1ad0" text-anchor="middle">10<tspan font-size="4.8" dy="-3.2">0</tspan></text>
<text x="511.6" y="825.6" font-size="7.4" font-weight="bold" fill="#1a1ad0" text-anchor="middle">10<tspan font-size="4.8" dy="-3.2">1</tspan></text>
<text x="431.5" y="835.6" font-size="8.3" font-weight="bold" fill="#1a1ad0" text-anchor="middle">hydraulic conductivity (k<tspan font-size="5.2" dy="1.6">f</tspan><tspan dy="-1.6">) in m/s</tspan></text>
<text transform="translate(528.9 699.6) rotate(90)" font-size="8.8" font-weight="bold" fill="#1a1ad0" text-anchor="middle">depth in m</text>
</svg>
</body></html>
